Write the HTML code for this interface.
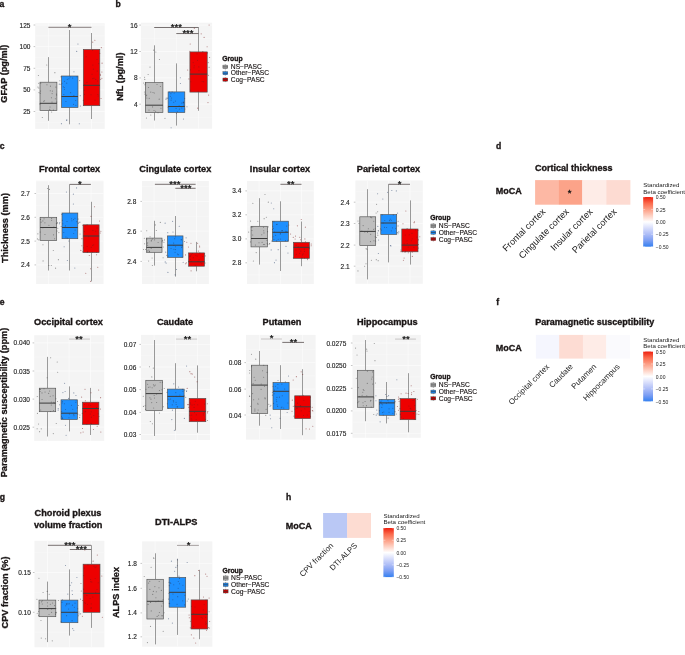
<!DOCTYPE html>
<html><head><meta charset="utf-8"><style>
html,body{margin:0;padding:0;background:#fff;width:685px;height:655px;overflow:hidden}
svg{display:block;font-family:"Liberation Sans",sans-serif}
svg{will-change:transform}
</style></head><body>
<svg width="685" height="655" viewBox="0 0 685 655">
<rect x="0" y="0" width="685" height="655" fill="#fff"/>
<text x="-0.4" y="6.6" font-size="8.6" font-weight="bold" text-anchor="start" fill="#1a1515" stroke="#1a1515" stroke-width="0.34">a</text>
<text x="115.6" y="6.6" font-size="8.6" font-weight="bold" text-anchor="start" fill="#1a1515" stroke="#1a1515" stroke-width="0.34">b</text>
<text x="-0.3" y="148.6" font-size="8.6" font-weight="bold" text-anchor="start" fill="#1a1515" stroke="#1a1515" stroke-width="0.34">c</text>
<text x="496" y="148.8" font-size="8.6" font-weight="bold" text-anchor="start" fill="#1a1515" stroke="#1a1515" stroke-width="0.34">d</text>
<text x="-0.3" y="304.8" font-size="8.6" font-weight="bold" text-anchor="start" fill="#1a1515" stroke="#1a1515" stroke-width="0.34">e</text>
<text x="496.2" y="304.9" font-size="8.6" font-weight="bold" text-anchor="start" fill="#1a1515" stroke="#1a1515" stroke-width="0.34">f</text>
<text x="-0.3" y="500" font-size="8.6" font-weight="bold" text-anchor="start" fill="#1a1515" stroke="#1a1515" stroke-width="0.34">g</text>
<text x="285.9" y="500.3" font-size="8.6" font-weight="bold" text-anchor="start" fill="#1a1515" stroke="#1a1515" stroke-width="0.34">h</text>
<rect x="35.2" y="23.3" width="69.5" height="105.6" fill="#f4f4f4"/>
<line x1="35.2" y1="35.8" x2="104.7" y2="35.8" stroke="#fcfcfc" stroke-width="0.35"/>
<line x1="35.2" y1="57.4" x2="104.7" y2="57.4" stroke="#fcfcfc" stroke-width="0.35"/>
<line x1="35.2" y1="79.1" x2="104.7" y2="79.1" stroke="#fcfcfc" stroke-width="0.35"/>
<line x1="35.2" y1="100.7" x2="104.7" y2="100.7" stroke="#fcfcfc" stroke-width="0.35"/>
<line x1="35.2" y1="122.3" x2="104.7" y2="122.3" stroke="#fcfcfc" stroke-width="0.35"/>
<line x1="35.2" y1="25" x2="104.7" y2="25" stroke="#fcfcfc" stroke-width="0.7"/>
<line x1="33.6" y1="25" x2="35.2" y2="25" stroke="#8a8a8a" stroke-width="0.5"/>
<text x="30.4" y="27.55" font-size="6.5" text-anchor="end" fill="#1e1e1e" stroke="#1e1e1e" stroke-width="0.14">125</text>
<line x1="35.2" y1="46.6" x2="104.7" y2="46.6" stroke="#fcfcfc" stroke-width="0.7"/>
<line x1="33.6" y1="46.6" x2="35.2" y2="46.6" stroke="#8a8a8a" stroke-width="0.5"/>
<text x="30.4" y="49.15" font-size="6.5" text-anchor="end" fill="#1e1e1e" stroke="#1e1e1e" stroke-width="0.14">100</text>
<line x1="35.2" y1="68.3" x2="104.7" y2="68.3" stroke="#fcfcfc" stroke-width="0.7"/>
<line x1="33.6" y1="68.3" x2="35.2" y2="68.3" stroke="#8a8a8a" stroke-width="0.5"/>
<text x="30.4" y="70.85" font-size="6.5" text-anchor="end" fill="#1e1e1e" stroke="#1e1e1e" stroke-width="0.14">75</text>
<line x1="35.2" y1="89.9" x2="104.7" y2="89.9" stroke="#fcfcfc" stroke-width="0.7"/>
<line x1="33.6" y1="89.9" x2="35.2" y2="89.9" stroke="#8a8a8a" stroke-width="0.5"/>
<text x="30.4" y="92.45" font-size="6.5" text-anchor="end" fill="#1e1e1e" stroke="#1e1e1e" stroke-width="0.14">50</text>
<line x1="35.2" y1="111.5" x2="104.7" y2="111.5" stroke="#fcfcfc" stroke-width="0.7"/>
<line x1="33.6" y1="111.5" x2="35.2" y2="111.5" stroke="#8a8a8a" stroke-width="0.5"/>
<text x="30.4" y="114.05" font-size="6.5" text-anchor="end" fill="#1e1e1e" stroke="#1e1e1e" stroke-width="0.14">25</text>
<line x1="48.4" y1="23.3" x2="48.4" y2="128.9" stroke="#fcfcfc" stroke-width="0.7"/>
<line x1="69.7" y1="23.3" x2="69.7" y2="128.9" stroke="#fcfcfc" stroke-width="0.7"/>
<line x1="91.5" y1="23.3" x2="91.5" y2="128.9" stroke="#fcfcfc" stroke-width="0.7"/>
<line x1="48.5" y1="57.1" x2="48.5" y2="82.2" stroke="#7a7a7a" stroke-width="0.75"/>
<line x1="48.5" y1="110.6" x2="48.5" y2="120.8" stroke="#7a7a7a" stroke-width="0.75"/>
<rect x="40" y="82.2" width="16.9" height="28.4" fill="#bebebe" stroke="#505050" stroke-width="0.65"/>
<line x1="40" y1="103.3" x2="56.9" y2="103.3" stroke="#3c3c3c" stroke-width="1.0"/>
<line x1="69.5" y1="30" x2="69.5" y2="76" stroke="#7a7a7a" stroke-width="0.75"/>
<line x1="69.5" y1="107.5" x2="69.5" y2="124.3" stroke="#7a7a7a" stroke-width="0.75"/>
<rect x="61.5" y="76" width="16.5" height="31.5" fill="#1e90ff" stroke="#505050" stroke-width="0.65"/>
<line x1="61.5" y1="96.5" x2="78" y2="96.5" stroke="#3c3c3c" stroke-width="1.0"/>
<line x1="91.5" y1="33" x2="91.5" y2="49.4" stroke="#7a7a7a" stroke-width="0.75"/>
<line x1="91.5" y1="105.7" x2="91.5" y2="119" stroke="#7a7a7a" stroke-width="0.75"/>
<rect x="83.3" y="49.4" width="16.5" height="56.3" fill="#ee0000" stroke="#505050" stroke-width="0.65"/>
<line x1="83.3" y1="85.3" x2="99.8" y2="85.3" stroke="#3c3c3c" stroke-width="1.0"/>
<circle cx="44.52" cy="100.69" r="0.55" fill="#444444" fill-opacity="0.55"/>
<circle cx="38.99" cy="92.59" r="0.55" fill="#444444" fill-opacity="0.55"/>
<circle cx="38.68" cy="83.26" r="0.55" fill="#444444" fill-opacity="0.55"/>
<circle cx="46.94" cy="84.78" r="0.55" fill="#444444" fill-opacity="0.55"/>
<circle cx="46.74" cy="64.99" r="0.55" fill="#444444" fill-opacity="0.55"/>
<circle cx="42.31" cy="117.47" r="0.55" fill="#444444" fill-opacity="0.55"/>
<circle cx="50.1" cy="109.93" r="0.55" fill="#444444" fill-opacity="0.55"/>
<circle cx="38.42" cy="75.55" r="0.55" fill="#444444" fill-opacity="0.55"/>
<circle cx="40.57" cy="90.96" r="0.55" fill="#444444" fill-opacity="0.55"/>
<circle cx="55.35" cy="98.72" r="0.55" fill="#444444" fill-opacity="0.55"/>
<circle cx="51.46" cy="97.76" r="0.55" fill="#444444" fill-opacity="0.55"/>
<circle cx="38.78" cy="88.05" r="0.55" fill="#444444" fill-opacity="0.55"/>
<circle cx="52.37" cy="91.12" r="0.55" fill="#444444" fill-opacity="0.55"/>
<circle cx="50.28" cy="90.71" r="0.55" fill="#444444" fill-opacity="0.55"/>
<circle cx="54.88" cy="72.65" r="0.55" fill="#444444" fill-opacity="0.55"/>
<circle cx="50.04" cy="107.05" r="0.55" fill="#444444" fill-opacity="0.55"/>
<circle cx="53.45" cy="110.04" r="0.55" fill="#444444" fill-opacity="0.55"/>
<circle cx="40" cy="103.7" r="0.55" fill="#444444" fill-opacity="0.55"/>
<circle cx="40.74" cy="83.31" r="0.55" fill="#444444" fill-opacity="0.55"/>
<circle cx="52.1" cy="93.6" r="0.55" fill="#444444" fill-opacity="0.55"/>
<circle cx="56.66" cy="101.95" r="0.55" fill="#444444" fill-opacity="0.55"/>
<circle cx="50.48" cy="86.16" r="0.55" fill="#444444" fill-opacity="0.55"/>
<circle cx="55.88" cy="87.09" r="0.55" fill="#444444" fill-opacity="0.55"/>
<circle cx="52.01" cy="102.12" r="0.55" fill="#444444" fill-opacity="0.55"/>
<circle cx="51.64" cy="112.03" r="0.55" fill="#444444" fill-opacity="0.55"/>
<circle cx="43.66" cy="101.19" r="0.55" fill="#444444" fill-opacity="0.55"/>
<circle cx="37.9" cy="86.97" r="0.55" fill="#444444" fill-opacity="0.55"/>
<circle cx="39.98" cy="104.02" r="0.55" fill="#444444" fill-opacity="0.55"/>
<circle cx="40.25" cy="93.3" r="0.55" fill="#444444" fill-opacity="0.55"/>
<circle cx="56.57" cy="94.96" r="0.55" fill="#444444" fill-opacity="0.55"/>
<circle cx="49.49" cy="109.29" r="0.55" fill="#444444" fill-opacity="0.55"/>
<circle cx="56.41" cy="93.99" r="0.55" fill="#444444" fill-opacity="0.55"/>
<circle cx="66.59" cy="120.31" r="0.55" fill="#263f6a" fill-opacity="0.55"/>
<circle cx="62.02" cy="83.31" r="0.55" fill="#263f6a" fill-opacity="0.55"/>
<circle cx="63.83" cy="94.56" r="0.55" fill="#263f6a" fill-opacity="0.55"/>
<circle cx="64.48" cy="89.2" r="0.55" fill="#263f6a" fill-opacity="0.55"/>
<circle cx="66.82" cy="119.88" r="0.55" fill="#263f6a" fill-opacity="0.55"/>
<circle cx="73.89" cy="95.45" r="0.55" fill="#263f6a" fill-opacity="0.55"/>
<circle cx="73.58" cy="104.34" r="0.55" fill="#263f6a" fill-opacity="0.55"/>
<circle cx="75.86" cy="105.24" r="0.55" fill="#263f6a" fill-opacity="0.55"/>
<circle cx="67.33" cy="79.26" r="0.55" fill="#263f6a" fill-opacity="0.55"/>
<circle cx="72.65" cy="78.12" r="0.55" fill="#263f6a" fill-opacity="0.55"/>
<circle cx="63.29" cy="86.71" r="0.55" fill="#263f6a" fill-opacity="0.55"/>
<circle cx="59.86" cy="80.76" r="0.55" fill="#263f6a" fill-opacity="0.55"/>
<circle cx="60.93" cy="76.8" r="0.55" fill="#263f6a" fill-opacity="0.55"/>
<circle cx="77.94" cy="44.01" r="0.55" fill="#263f6a" fill-opacity="0.55"/>
<circle cx="64.25" cy="87.47" r="0.55" fill="#263f6a" fill-opacity="0.55"/>
<circle cx="61.4" cy="123.65" r="0.55" fill="#263f6a" fill-opacity="0.55"/>
<circle cx="68.95" cy="78.71" r="0.55" fill="#263f6a" fill-opacity="0.55"/>
<circle cx="60.95" cy="84.34" r="0.55" fill="#263f6a" fill-opacity="0.55"/>
<circle cx="76.93" cy="76.73" r="0.55" fill="#263f6a" fill-opacity="0.55"/>
<circle cx="79.62" cy="80.62" r="0.55" fill="#263f6a" fill-opacity="0.55"/>
<circle cx="70.65" cy="92.64" r="0.55" fill="#263f6a" fill-opacity="0.55"/>
<circle cx="80.23" cy="95.65" r="0.55" fill="#263f6a" fill-opacity="0.55"/>
<circle cx="64.44" cy="81.26" r="0.55" fill="#263f6a" fill-opacity="0.55"/>
<circle cx="75.68" cy="100.54" r="0.55" fill="#263f6a" fill-opacity="0.55"/>
<circle cx="65.95" cy="101.56" r="0.55" fill="#263f6a" fill-opacity="0.55"/>
<circle cx="80.37" cy="106.01" r="0.55" fill="#263f6a" fill-opacity="0.55"/>
<circle cx="76.7" cy="51.38" r="0.55" fill="#263f6a" fill-opacity="0.55"/>
<circle cx="70.09" cy="76.91" r="0.55" fill="#263f6a" fill-opacity="0.55"/>
<circle cx="59.31" cy="84.16" r="0.55" fill="#263f6a" fill-opacity="0.55"/>
<circle cx="73.94" cy="71.75" r="0.55" fill="#263f6a" fill-opacity="0.55"/>
<circle cx="79.31" cy="123.7" r="0.55" fill="#263f6a" fill-opacity="0.55"/>
<circle cx="66.72" cy="83.15" r="0.55" fill="#263f6a" fill-opacity="0.55"/>
<circle cx="84.83" cy="84.53" r="0.55" fill="#7a1a1a" fill-opacity="0.55"/>
<circle cx="100.31" cy="74.23" r="0.55" fill="#7a1a1a" fill-opacity="0.55"/>
<circle cx="94.87" cy="40.29" r="0.55" fill="#7a1a1a" fill-opacity="0.55"/>
<circle cx="95.03" cy="100.28" r="0.55" fill="#7a1a1a" fill-opacity="0.55"/>
<circle cx="97" cy="59.45" r="0.55" fill="#7a1a1a" fill-opacity="0.55"/>
<circle cx="97.86" cy="94.49" r="0.55" fill="#7a1a1a" fill-opacity="0.55"/>
<circle cx="101.88" cy="72" r="0.55" fill="#7a1a1a" fill-opacity="0.55"/>
<circle cx="101.33" cy="47.62" r="0.55" fill="#7a1a1a" fill-opacity="0.55"/>
<circle cx="83.29" cy="100.34" r="0.55" fill="#7a1a1a" fill-opacity="0.55"/>
<circle cx="98.24" cy="95.93" r="0.55" fill="#7a1a1a" fill-opacity="0.55"/>
<circle cx="102.07" cy="63.14" r="0.55" fill="#7a1a1a" fill-opacity="0.55"/>
<circle cx="92.57" cy="50.2" r="0.55" fill="#7a1a1a" fill-opacity="0.55"/>
<circle cx="101.86" cy="78.29" r="0.55" fill="#7a1a1a" fill-opacity="0.55"/>
<circle cx="101.04" cy="98.48" r="0.55" fill="#7a1a1a" fill-opacity="0.55"/>
<circle cx="98.68" cy="63.58" r="0.55" fill="#7a1a1a" fill-opacity="0.55"/>
<circle cx="86.95" cy="82.42" r="0.55" fill="#7a1a1a" fill-opacity="0.55"/>
<circle cx="86.21" cy="56.78" r="0.55" fill="#7a1a1a" fill-opacity="0.55"/>
<circle cx="100.52" cy="75.19" r="0.55" fill="#7a1a1a" fill-opacity="0.55"/>
<circle cx="93.33" cy="69.17" r="0.55" fill="#7a1a1a" fill-opacity="0.55"/>
<circle cx="100.69" cy="79.34" r="0.55" fill="#7a1a1a" fill-opacity="0.55"/>
<circle cx="92.02" cy="74.18" r="0.55" fill="#7a1a1a" fill-opacity="0.55"/>
<circle cx="84.53" cy="94.39" r="0.55" fill="#7a1a1a" fill-opacity="0.55"/>
<circle cx="84.29" cy="90.23" r="0.55" fill="#7a1a1a" fill-opacity="0.55"/>
<circle cx="92.74" cy="78.58" r="0.55" fill="#7a1a1a" fill-opacity="0.55"/>
<circle cx="92.72" cy="42.13" r="0.55" fill="#7a1a1a" fill-opacity="0.55"/>
<circle cx="92.83" cy="64.99" r="0.55" fill="#7a1a1a" fill-opacity="0.55"/>
<circle cx="97.49" cy="81.03" r="0.55" fill="#7a1a1a" fill-opacity="0.55"/>
<circle cx="97.22" cy="71.12" r="0.55" fill="#7a1a1a" fill-opacity="0.55"/>
<circle cx="93.98" cy="78.23" r="0.55" fill="#7a1a1a" fill-opacity="0.55"/>
<circle cx="95.74" cy="79.42" r="0.55" fill="#7a1a1a" fill-opacity="0.55"/>
<circle cx="91.02" cy="94.73" r="0.55" fill="#7a1a1a" fill-opacity="0.55"/>
<circle cx="99.78" cy="53.4" r="0.55" fill="#7a1a1a" fill-opacity="0.55"/>
<line x1="48.4" y1="27.3" x2="91.5" y2="27.3" stroke="#7a7272" stroke-width="0.9"/>
<text x="69.7" y="29.7" font-size="9.6" text-anchor="middle" fill="#111" stroke="#111" stroke-width="0.25">*</text>
<text x="0" y="0" font-size="9.2" font-weight="bold" text-anchor="middle" fill="#1a1515" stroke="#1a1515" stroke-width="0.3" transform="translate(7.4 73.7) rotate(-90)">GFAP (pg/ml)</text>
<rect x="140.9" y="22.7" width="71.2" height="106" fill="#f4f4f4"/>
<line x1="140.9" y1="38.3" x2="212.1" y2="38.3" stroke="#fcfcfc" stroke-width="0.35"/>
<line x1="140.9" y1="64.7" x2="212.1" y2="64.7" stroke="#fcfcfc" stroke-width="0.35"/>
<line x1="140.9" y1="91.1" x2="212.1" y2="91.1" stroke="#fcfcfc" stroke-width="0.35"/>
<line x1="140.9" y1="117.4" x2="212.1" y2="117.4" stroke="#fcfcfc" stroke-width="0.35"/>
<line x1="140.9" y1="25.1" x2="212.1" y2="25.1" stroke="#fcfcfc" stroke-width="0.7"/>
<line x1="139.3" y1="25.1" x2="140.9" y2="25.1" stroke="#8a8a8a" stroke-width="0.5"/>
<text x="137.6" y="27.65" font-size="6.5" text-anchor="end" fill="#1e1e1e" stroke="#1e1e1e" stroke-width="0.14">16</text>
<line x1="140.9" y1="51.5" x2="212.1" y2="51.5" stroke="#fcfcfc" stroke-width="0.7"/>
<line x1="139.3" y1="51.5" x2="140.9" y2="51.5" stroke="#8a8a8a" stroke-width="0.5"/>
<text x="137.6" y="54.05" font-size="6.5" text-anchor="end" fill="#1e1e1e" stroke="#1e1e1e" stroke-width="0.14">12</text>
<line x1="140.9" y1="77.9" x2="212.1" y2="77.9" stroke="#fcfcfc" stroke-width="0.7"/>
<line x1="139.3" y1="77.9" x2="140.9" y2="77.9" stroke="#8a8a8a" stroke-width="0.5"/>
<text x="137.6" y="80.45" font-size="6.5" text-anchor="end" fill="#1e1e1e" stroke="#1e1e1e" stroke-width="0.14">8</text>
<line x1="140.9" y1="104.2" x2="212.1" y2="104.2" stroke="#fcfcfc" stroke-width="0.7"/>
<line x1="139.3" y1="104.2" x2="140.9" y2="104.2" stroke="#8a8a8a" stroke-width="0.5"/>
<text x="137.6" y="106.75" font-size="6.5" text-anchor="end" fill="#1e1e1e" stroke="#1e1e1e" stroke-width="0.14">4</text>
<line x1="154.3" y1="22.7" x2="154.3" y2="128.7" stroke="#fcfcfc" stroke-width="0.7"/>
<line x1="176.3" y1="22.7" x2="176.3" y2="128.7" stroke="#fcfcfc" stroke-width="0.7"/>
<line x1="198.6" y1="22.7" x2="198.6" y2="128.7" stroke="#fcfcfc" stroke-width="0.7"/>
<line x1="154.5" y1="45.3" x2="154.5" y2="82.6" stroke="#7a7a7a" stroke-width="0.75"/>
<line x1="154.5" y1="112.5" x2="154.5" y2="120.5" stroke="#7a7a7a" stroke-width="0.75"/>
<rect x="145.4" y="82.6" width="17.5" height="29.9" fill="#bebebe" stroke="#505050" stroke-width="0.65"/>
<line x1="145.4" y1="105.2" x2="162.9" y2="105.2" stroke="#3c3c3c" stroke-width="1.0"/>
<line x1="176.5" y1="63.4" x2="176.5" y2="91.9" stroke="#7a7a7a" stroke-width="0.75"/>
<line x1="176.5" y1="112.5" x2="176.5" y2="125.6" stroke="#7a7a7a" stroke-width="0.75"/>
<rect x="168.1" y="91.9" width="16.7" height="20.6" fill="#1e90ff" stroke="#505050" stroke-width="0.65"/>
<line x1="168.1" y1="106.5" x2="184.8" y2="106.5" stroke="#3c3c3c" stroke-width="1.0"/>
<line x1="198.5" y1="27.4" x2="198.5" y2="51.9" stroke="#7a7a7a" stroke-width="0.75"/>
<line x1="198.5" y1="92.1" x2="198.5" y2="110.8" stroke="#7a7a7a" stroke-width="0.75"/>
<rect x="189.9" y="51.9" width="17.3" height="40.2" fill="#ee0000" stroke="#505050" stroke-width="0.65"/>
<line x1="189.9" y1="74.1" x2="207.2" y2="74.1" stroke="#3c3c3c" stroke-width="1.0"/>
<circle cx="155.61" cy="111.19" r="0.55" fill="#444444" fill-opacity="0.55"/>
<circle cx="146.32" cy="95.82" r="0.55" fill="#444444" fill-opacity="0.55"/>
<circle cx="144.9" cy="84.79" r="0.55" fill="#444444" fill-opacity="0.55"/>
<circle cx="158.03" cy="112.76" r="0.55" fill="#444444" fill-opacity="0.55"/>
<circle cx="146.7" cy="94.95" r="0.55" fill="#444444" fill-opacity="0.55"/>
<circle cx="146.45" cy="118.06" r="0.55" fill="#444444" fill-opacity="0.55"/>
<circle cx="148.13" cy="74.43" r="0.55" fill="#444444" fill-opacity="0.55"/>
<circle cx="154.02" cy="110.56" r="0.55" fill="#444444" fill-opacity="0.55"/>
<circle cx="146.85" cy="98.02" r="0.55" fill="#444444" fill-opacity="0.55"/>
<circle cx="150.76" cy="92.12" r="0.55" fill="#444444" fill-opacity="0.55"/>
<circle cx="159.19" cy="99.17" r="0.55" fill="#444444" fill-opacity="0.55"/>
<circle cx="152.99" cy="92.51" r="0.55" fill="#444444" fill-opacity="0.55"/>
<circle cx="157.03" cy="84.52" r="0.55" fill="#444444" fill-opacity="0.55"/>
<circle cx="164.97" cy="118.37" r="0.55" fill="#444444" fill-opacity="0.55"/>
<circle cx="145.61" cy="83.78" r="0.55" fill="#444444" fill-opacity="0.55"/>
<circle cx="160.44" cy="86.47" r="0.55" fill="#444444" fill-opacity="0.55"/>
<circle cx="152.59" cy="106.89" r="0.55" fill="#444444" fill-opacity="0.55"/>
<circle cx="148.99" cy="110.08" r="0.55" fill="#444444" fill-opacity="0.55"/>
<circle cx="155.85" cy="52.03" r="0.55" fill="#444444" fill-opacity="0.55"/>
<circle cx="144.57" cy="77.28" r="0.55" fill="#444444" fill-opacity="0.55"/>
<circle cx="144.89" cy="94.09" r="0.55" fill="#444444" fill-opacity="0.55"/>
<circle cx="160.94" cy="108.2" r="0.55" fill="#444444" fill-opacity="0.55"/>
<circle cx="144.77" cy="79.42" r="0.55" fill="#444444" fill-opacity="0.55"/>
<circle cx="150.76" cy="114.99" r="0.55" fill="#444444" fill-opacity="0.55"/>
<circle cx="149.19" cy="98.35" r="0.55" fill="#444444" fill-opacity="0.55"/>
<circle cx="148.55" cy="87.43" r="0.55" fill="#444444" fill-opacity="0.55"/>
<circle cx="144.41" cy="91.93" r="0.55" fill="#444444" fill-opacity="0.55"/>
<circle cx="150.01" cy="67.11" r="0.55" fill="#444444" fill-opacity="0.55"/>
<circle cx="154.3" cy="92.98" r="0.55" fill="#444444" fill-opacity="0.55"/>
<circle cx="143.7" cy="83.06" r="0.55" fill="#444444" fill-opacity="0.55"/>
<circle cx="159.43" cy="59.55" r="0.55" fill="#444444" fill-opacity="0.55"/>
<circle cx="153.74" cy="50.14" r="0.55" fill="#444444" fill-opacity="0.55"/>
<circle cx="183.32" cy="102.1" r="0.55" fill="#263f6a" fill-opacity="0.55"/>
<circle cx="183.66" cy="102.34" r="0.55" fill="#263f6a" fill-opacity="0.55"/>
<circle cx="180.43" cy="83.46" r="0.55" fill="#263f6a" fill-opacity="0.55"/>
<circle cx="183.61" cy="102.96" r="0.55" fill="#263f6a" fill-opacity="0.55"/>
<circle cx="174.2" cy="93.02" r="0.55" fill="#263f6a" fill-opacity="0.55"/>
<circle cx="168.16" cy="107.16" r="0.55" fill="#263f6a" fill-opacity="0.55"/>
<circle cx="170.92" cy="93.64" r="0.55" fill="#263f6a" fill-opacity="0.55"/>
<circle cx="183.81" cy="105.11" r="0.55" fill="#263f6a" fill-opacity="0.55"/>
<circle cx="171.5" cy="97.94" r="0.55" fill="#263f6a" fill-opacity="0.55"/>
<circle cx="175.41" cy="101.08" r="0.55" fill="#263f6a" fill-opacity="0.55"/>
<circle cx="171.09" cy="127.68" r="0.55" fill="#263f6a" fill-opacity="0.55"/>
<circle cx="177.34" cy="111.79" r="0.55" fill="#263f6a" fill-opacity="0.55"/>
<circle cx="172.11" cy="91.92" r="0.55" fill="#263f6a" fill-opacity="0.55"/>
<circle cx="173.7" cy="102.26" r="0.55" fill="#263f6a" fill-opacity="0.55"/>
<circle cx="169.72" cy="92" r="0.55" fill="#263f6a" fill-opacity="0.55"/>
<circle cx="171.11" cy="100.13" r="0.55" fill="#263f6a" fill-opacity="0.55"/>
<circle cx="166.22" cy="98.17" r="0.55" fill="#263f6a" fill-opacity="0.55"/>
<circle cx="170.42" cy="96.32" r="0.55" fill="#263f6a" fill-opacity="0.55"/>
<circle cx="181.81" cy="107.93" r="0.55" fill="#263f6a" fill-opacity="0.55"/>
<circle cx="184.64" cy="98.62" r="0.55" fill="#263f6a" fill-opacity="0.55"/>
<circle cx="186.96" cy="106.82" r="0.55" fill="#263f6a" fill-opacity="0.55"/>
<circle cx="179.45" cy="109.11" r="0.55" fill="#263f6a" fill-opacity="0.55"/>
<circle cx="184.92" cy="109.05" r="0.55" fill="#263f6a" fill-opacity="0.55"/>
<circle cx="183.17" cy="102.69" r="0.55" fill="#263f6a" fill-opacity="0.55"/>
<circle cx="176.4" cy="113.45" r="0.55" fill="#263f6a" fill-opacity="0.55"/>
<circle cx="183.48" cy="118.93" r="0.55" fill="#263f6a" fill-opacity="0.55"/>
<circle cx="180.32" cy="77.7" r="0.55" fill="#263f6a" fill-opacity="0.55"/>
<circle cx="165.99" cy="99.33" r="0.55" fill="#263f6a" fill-opacity="0.55"/>
<circle cx="167.61" cy="98.14" r="0.55" fill="#263f6a" fill-opacity="0.55"/>
<circle cx="179.11" cy="105.74" r="0.55" fill="#263f6a" fill-opacity="0.55"/>
<circle cx="176.06" cy="108.33" r="0.55" fill="#263f6a" fill-opacity="0.55"/>
<circle cx="181.76" cy="102.93" r="0.55" fill="#263f6a" fill-opacity="0.55"/>
<circle cx="202.1" cy="81.52" r="0.55" fill="#7a1a1a" fill-opacity="0.55"/>
<circle cx="193.15" cy="62.58" r="0.55" fill="#7a1a1a" fill-opacity="0.55"/>
<circle cx="203.65" cy="81.64" r="0.55" fill="#7a1a1a" fill-opacity="0.55"/>
<circle cx="209.07" cy="67.28" r="0.55" fill="#7a1a1a" fill-opacity="0.55"/>
<circle cx="198.14" cy="91.37" r="0.55" fill="#7a1a1a" fill-opacity="0.55"/>
<circle cx="201.17" cy="33.86" r="0.55" fill="#7a1a1a" fill-opacity="0.55"/>
<circle cx="190.84" cy="81.78" r="0.55" fill="#7a1a1a" fill-opacity="0.55"/>
<circle cx="194.3" cy="28.44" r="0.55" fill="#7a1a1a" fill-opacity="0.55"/>
<circle cx="188.93" cy="78.91" r="0.55" fill="#7a1a1a" fill-opacity="0.55"/>
<circle cx="202.83" cy="51.66" r="0.55" fill="#7a1a1a" fill-opacity="0.55"/>
<circle cx="198.96" cy="70.65" r="0.55" fill="#7a1a1a" fill-opacity="0.55"/>
<circle cx="190.21" cy="44.02" r="0.55" fill="#7a1a1a" fill-opacity="0.55"/>
<circle cx="209.12" cy="25" r="0.55" fill="#7a1a1a" fill-opacity="0.55"/>
<circle cx="197.7" cy="108.14" r="0.55" fill="#7a1a1a" fill-opacity="0.55"/>
<circle cx="197.49" cy="60.34" r="0.55" fill="#7a1a1a" fill-opacity="0.55"/>
<circle cx="208.4" cy="75.28" r="0.55" fill="#7a1a1a" fill-opacity="0.55"/>
<circle cx="190.72" cy="90.2" r="0.55" fill="#7a1a1a" fill-opacity="0.55"/>
<circle cx="190.52" cy="69.83" r="0.55" fill="#7a1a1a" fill-opacity="0.55"/>
<circle cx="207.11" cy="46.7" r="0.55" fill="#7a1a1a" fill-opacity="0.55"/>
<circle cx="207.35" cy="52.9" r="0.55" fill="#7a1a1a" fill-opacity="0.55"/>
<circle cx="187.68" cy="70.02" r="0.55" fill="#7a1a1a" fill-opacity="0.55"/>
<circle cx="194.24" cy="65.73" r="0.55" fill="#7a1a1a" fill-opacity="0.55"/>
<circle cx="194.55" cy="27.55" r="0.55" fill="#7a1a1a" fill-opacity="0.55"/>
<circle cx="204.12" cy="37.41" r="0.55" fill="#7a1a1a" fill-opacity="0.55"/>
<circle cx="207.98" cy="102.59" r="0.55" fill="#7a1a1a" fill-opacity="0.55"/>
<circle cx="193.98" cy="67.69" r="0.55" fill="#7a1a1a" fill-opacity="0.55"/>
<circle cx="209.57" cy="57.48" r="0.55" fill="#7a1a1a" fill-opacity="0.55"/>
<circle cx="197.02" cy="53.84" r="0.55" fill="#7a1a1a" fill-opacity="0.55"/>
<circle cx="189.84" cy="51.22" r="0.55" fill="#7a1a1a" fill-opacity="0.55"/>
<circle cx="208.18" cy="62.58" r="0.55" fill="#7a1a1a" fill-opacity="0.55"/>
<circle cx="198.84" cy="66.91" r="0.55" fill="#7a1a1a" fill-opacity="0.55"/>
<circle cx="208.64" cy="95.12" r="0.55" fill="#7a1a1a" fill-opacity="0.55"/>
<line x1="154.2" y1="27.5" x2="198.6" y2="27.5" stroke="#6a6262" stroke-width="0.9"/>
<text x="176.3" y="29.9" font-size="9.6" text-anchor="middle" fill="#111" stroke="#111" stroke-width="0.25">***</text>
<line x1="176.3" y1="33.55" x2="198.6" y2="33.55" stroke="#6a6262" stroke-width="0.9"/>
<text x="188" y="35.95" font-size="9.6" text-anchor="middle" fill="#111" stroke="#111" stroke-width="0.25">***</text>
<text x="0" y="0" font-size="9.2" font-weight="bold" text-anchor="middle" fill="#1a1515" stroke="#1a1515" stroke-width="0.3" transform="translate(123.3 76.7) rotate(-90)">NfL (pg/ml)</text>
<text x="222.2" y="60.8" font-size="6.8" font-weight="bold" text-anchor="start" fill="#1a1515" stroke="#1a1515" stroke-width="0.34">Group</text>
<line x1="225.3" y1="64.2" x2="225.3" y2="69.6" stroke="#555" stroke-width="0.5"/>
<rect x="222.9" y="65.1" width="4.9" height="3.6" fill="#a8a8a8" stroke="#4a4a4a" stroke-width="0.4"/>
<line x1="222.9" y1="66.9" x2="227.8" y2="66.9" stroke="#333" stroke-width="0.6"/>
<text x="230.8" y="68.9" font-size="6.7" text-anchor="start" fill="#1a1515" stroke="#1a1515" stroke-width="0.14">NS−PASC</text>
<line x1="225.3" y1="70.7" x2="225.3" y2="75.7" stroke="#555" stroke-width="0.5"/>
<rect x="222.9" y="71.6" width="4.9" height="3.2" fill="#1e88f0" stroke="#4a4a4a" stroke-width="0.4"/>
<line x1="222.9" y1="73.2" x2="227.8" y2="73.2" stroke="#333" stroke-width="0.6"/>
<text x="230.8" y="75.3" font-size="6.7" text-anchor="start" fill="#1a1515" stroke="#1a1515" stroke-width="0.14">Other−PASC</text>
<line x1="225.3" y1="77.1" x2="225.3" y2="82.1" stroke="#555" stroke-width="0.5"/>
<rect x="222.9" y="78" width="4.9" height="3.2" fill="#cc0000" stroke="#4a4a4a" stroke-width="0.4"/>
<line x1="222.9" y1="79.6" x2="227.8" y2="79.6" stroke="#333" stroke-width="0.6"/>
<text x="230.8" y="81.8" font-size="6.7" text-anchor="start" fill="#1a1515" stroke="#1a1515" stroke-width="0.14">Cog−PASC</text>
<rect x="36.1" y="180.7" width="67.4" height="103.3" fill="#f4f4f4"/>
<line x1="36.1" y1="181.6" x2="103.5" y2="181.6" stroke="#fcfcfc" stroke-width="0.35"/>
<line x1="36.1" y1="205.4" x2="103.5" y2="205.4" stroke="#fcfcfc" stroke-width="0.35"/>
<line x1="36.1" y1="229.2" x2="103.5" y2="229.2" stroke="#fcfcfc" stroke-width="0.35"/>
<line x1="36.1" y1="253" x2="103.5" y2="253" stroke="#fcfcfc" stroke-width="0.35"/>
<line x1="36.1" y1="276.8" x2="103.5" y2="276.8" stroke="#fcfcfc" stroke-width="0.35"/>
<line x1="36.1" y1="193.5" x2="103.5" y2="193.5" stroke="#fcfcfc" stroke-width="0.7"/>
<line x1="34.5" y1="193.5" x2="36.1" y2="193.5" stroke="#8a8a8a" stroke-width="0.5"/>
<text x="30" y="196.05" font-size="6.5" text-anchor="end" fill="#1e1e1e" stroke="#1e1e1e" stroke-width="0.14">2.7</text>
<line x1="36.1" y1="217.3" x2="103.5" y2="217.3" stroke="#fcfcfc" stroke-width="0.7"/>
<line x1="34.5" y1="217.3" x2="36.1" y2="217.3" stroke="#8a8a8a" stroke-width="0.5"/>
<text x="30" y="219.85" font-size="6.5" text-anchor="end" fill="#1e1e1e" stroke="#1e1e1e" stroke-width="0.14">2.6</text>
<line x1="36.1" y1="241.1" x2="103.5" y2="241.1" stroke="#fcfcfc" stroke-width="0.7"/>
<line x1="34.5" y1="241.1" x2="36.1" y2="241.1" stroke="#8a8a8a" stroke-width="0.5"/>
<text x="30" y="243.65" font-size="6.5" text-anchor="end" fill="#1e1e1e" stroke="#1e1e1e" stroke-width="0.14">2.5</text>
<line x1="36.1" y1="264.9" x2="103.5" y2="264.9" stroke="#fcfcfc" stroke-width="0.7"/>
<line x1="34.5" y1="264.9" x2="36.1" y2="264.9" stroke="#8a8a8a" stroke-width="0.5"/>
<text x="30" y="267.45" font-size="6.5" text-anchor="end" fill="#1e1e1e" stroke="#1e1e1e" stroke-width="0.14">2.4</text>
<line x1="48.4" y1="180.7" x2="48.4" y2="284" stroke="#fcfcfc" stroke-width="0.7"/>
<line x1="69.7" y1="180.7" x2="69.7" y2="284" stroke="#fcfcfc" stroke-width="0.7"/>
<line x1="91.1" y1="180.7" x2="91.1" y2="284" stroke="#fcfcfc" stroke-width="0.7"/>
<line x1="48.5" y1="185.2" x2="48.5" y2="217.3" stroke="#7a7a7a" stroke-width="0.75"/>
<line x1="48.5" y1="240.6" x2="48.5" y2="270.5" stroke="#7a7a7a" stroke-width="0.75"/>
<rect x="40.1" y="217.3" width="16.6" height="23.3" fill="#bebebe" stroke="#505050" stroke-width="0.65"/>
<line x1="40.1" y1="227.5" x2="56.7" y2="227.5" stroke="#3c3c3c" stroke-width="1.0"/>
<line x1="69.5" y1="184.4" x2="69.5" y2="213" stroke="#7a7a7a" stroke-width="0.75"/>
<line x1="69.5" y1="238.7" x2="69.5" y2="270.5" stroke="#7a7a7a" stroke-width="0.75"/>
<rect x="62" y="213" width="15.8" height="25.7" fill="#1e90ff" stroke="#505050" stroke-width="0.65"/>
<line x1="62" y1="227.5" x2="77.8" y2="227.5" stroke="#3c3c3c" stroke-width="1.0"/>
<line x1="91.5" y1="201.8" x2="91.5" y2="224.8" stroke="#7a7a7a" stroke-width="0.75"/>
<line x1="91.5" y1="252.6" x2="91.5" y2="281.4" stroke="#7a7a7a" stroke-width="0.75"/>
<rect x="83.1" y="224.8" width="16" height="27.8" fill="#ee0000" stroke="#505050" stroke-width="0.65"/>
<line x1="83.1" y1="236" x2="99.1" y2="236" stroke="#3c3c3c" stroke-width="1.0"/>
<circle cx="51.28" cy="265.44" r="0.55" fill="#444444" fill-opacity="0.55"/>
<circle cx="49.48" cy="189.42" r="0.55" fill="#444444" fill-opacity="0.55"/>
<circle cx="53.51" cy="234.84" r="0.55" fill="#444444" fill-opacity="0.55"/>
<circle cx="51.58" cy="218.44" r="0.55" fill="#444444" fill-opacity="0.55"/>
<circle cx="57.79" cy="228.3" r="0.55" fill="#444444" fill-opacity="0.55"/>
<circle cx="44.96" cy="234.52" r="0.55" fill="#444444" fill-opacity="0.55"/>
<circle cx="58.88" cy="232.58" r="0.55" fill="#444444" fill-opacity="0.55"/>
<circle cx="44.02" cy="218.84" r="0.55" fill="#444444" fill-opacity="0.55"/>
<circle cx="41.08" cy="222.14" r="0.55" fill="#444444" fill-opacity="0.55"/>
<circle cx="57.33" cy="222.43" r="0.55" fill="#444444" fill-opacity="0.55"/>
<circle cx="57.34" cy="223.18" r="0.55" fill="#444444" fill-opacity="0.55"/>
<circle cx="40.47" cy="219.41" r="0.55" fill="#444444" fill-opacity="0.55"/>
<circle cx="44.92" cy="222.87" r="0.55" fill="#444444" fill-opacity="0.55"/>
<circle cx="43.08" cy="260.88" r="0.55" fill="#444444" fill-opacity="0.55"/>
<circle cx="53.89" cy="226.94" r="0.55" fill="#444444" fill-opacity="0.55"/>
<circle cx="48.93" cy="225.18" r="0.55" fill="#444444" fill-opacity="0.55"/>
<circle cx="38.77" cy="239.85" r="0.55" fill="#444444" fill-opacity="0.55"/>
<circle cx="40.17" cy="231.97" r="0.55" fill="#444444" fill-opacity="0.55"/>
<circle cx="56.38" cy="223.61" r="0.55" fill="#444444" fill-opacity="0.55"/>
<circle cx="42.87" cy="227.69" r="0.55" fill="#444444" fill-opacity="0.55"/>
<circle cx="58.39" cy="259.66" r="0.55" fill="#444444" fill-opacity="0.55"/>
<circle cx="37.88" cy="233.83" r="0.55" fill="#444444" fill-opacity="0.55"/>
<circle cx="57.11" cy="230.98" r="0.55" fill="#444444" fill-opacity="0.55"/>
<circle cx="37.4" cy="238.9" r="0.55" fill="#444444" fill-opacity="0.55"/>
<circle cx="55.56" cy="268.13" r="0.55" fill="#444444" fill-opacity="0.55"/>
<circle cx="42.87" cy="220.9" r="0.55" fill="#444444" fill-opacity="0.55"/>
<circle cx="48.89" cy="265.51" r="0.55" fill="#444444" fill-opacity="0.55"/>
<circle cx="53.28" cy="250.44" r="0.55" fill="#444444" fill-opacity="0.55"/>
<circle cx="47.46" cy="188.57" r="0.55" fill="#444444" fill-opacity="0.55"/>
<circle cx="54.61" cy="238.73" r="0.55" fill="#444444" fill-opacity="0.55"/>
<circle cx="51.6" cy="220.28" r="0.55" fill="#444444" fill-opacity="0.55"/>
<circle cx="42.94" cy="244.79" r="0.55" fill="#444444" fill-opacity="0.55"/>
<circle cx="61.17" cy="226.48" r="0.55" fill="#263f6a" fill-opacity="0.55"/>
<circle cx="71.52" cy="218.75" r="0.55" fill="#263f6a" fill-opacity="0.55"/>
<circle cx="71.92" cy="220.75" r="0.55" fill="#263f6a" fill-opacity="0.55"/>
<circle cx="68.84" cy="241.05" r="0.55" fill="#263f6a" fill-opacity="0.55"/>
<circle cx="78.14" cy="219.03" r="0.55" fill="#263f6a" fill-opacity="0.55"/>
<circle cx="64.14" cy="246.71" r="0.55" fill="#263f6a" fill-opacity="0.55"/>
<circle cx="65.46" cy="225.81" r="0.55" fill="#263f6a" fill-opacity="0.55"/>
<circle cx="73.54" cy="219.61" r="0.55" fill="#263f6a" fill-opacity="0.55"/>
<circle cx="73.38" cy="203.93" r="0.55" fill="#263f6a" fill-opacity="0.55"/>
<circle cx="59.45" cy="223.81" r="0.55" fill="#263f6a" fill-opacity="0.55"/>
<circle cx="73.72" cy="233.48" r="0.55" fill="#263f6a" fill-opacity="0.55"/>
<circle cx="74.96" cy="218.27" r="0.55" fill="#263f6a" fill-opacity="0.55"/>
<circle cx="80.04" cy="234.07" r="0.55" fill="#263f6a" fill-opacity="0.55"/>
<circle cx="63.78" cy="232.54" r="0.55" fill="#263f6a" fill-opacity="0.55"/>
<circle cx="65.19" cy="227.05" r="0.55" fill="#263f6a" fill-opacity="0.55"/>
<circle cx="62.82" cy="223.72" r="0.55" fill="#263f6a" fill-opacity="0.55"/>
<circle cx="73.34" cy="194.17" r="0.55" fill="#263f6a" fill-opacity="0.55"/>
<circle cx="67.36" cy="238.03" r="0.55" fill="#263f6a" fill-opacity="0.55"/>
<circle cx="61.82" cy="214.55" r="0.55" fill="#263f6a" fill-opacity="0.55"/>
<circle cx="67.35" cy="260.48" r="0.55" fill="#263f6a" fill-opacity="0.55"/>
<circle cx="74.82" cy="268.06" r="0.55" fill="#263f6a" fill-opacity="0.55"/>
<circle cx="65.94" cy="237.05" r="0.55" fill="#263f6a" fill-opacity="0.55"/>
<circle cx="75.12" cy="230.08" r="0.55" fill="#263f6a" fill-opacity="0.55"/>
<circle cx="67.03" cy="221.52" r="0.55" fill="#263f6a" fill-opacity="0.55"/>
<circle cx="62.42" cy="220.19" r="0.55" fill="#263f6a" fill-opacity="0.55"/>
<circle cx="66.43" cy="192.04" r="0.55" fill="#263f6a" fill-opacity="0.55"/>
<circle cx="79.91" cy="222.17" r="0.55" fill="#263f6a" fill-opacity="0.55"/>
<circle cx="76.77" cy="221.63" r="0.55" fill="#263f6a" fill-opacity="0.55"/>
<circle cx="59.78" cy="222.58" r="0.55" fill="#263f6a" fill-opacity="0.55"/>
<circle cx="78.93" cy="222.36" r="0.55" fill="#263f6a" fill-opacity="0.55"/>
<circle cx="78.43" cy="223.56" r="0.55" fill="#263f6a" fill-opacity="0.55"/>
<circle cx="76.56" cy="187.9" r="0.55" fill="#263f6a" fill-opacity="0.55"/>
<circle cx="80.87" cy="250.38" r="0.55" fill="#7a1a1a" fill-opacity="0.55"/>
<circle cx="85.75" cy="273.32" r="0.55" fill="#7a1a1a" fill-opacity="0.55"/>
<circle cx="87.56" cy="251.42" r="0.55" fill="#7a1a1a" fill-opacity="0.55"/>
<circle cx="93.67" cy="244.72" r="0.55" fill="#7a1a1a" fill-opacity="0.55"/>
<circle cx="87.06" cy="224.9" r="0.55" fill="#7a1a1a" fill-opacity="0.55"/>
<circle cx="96.72" cy="252.26" r="0.55" fill="#7a1a1a" fill-opacity="0.55"/>
<circle cx="100.85" cy="231.3" r="0.55" fill="#7a1a1a" fill-opacity="0.55"/>
<circle cx="90.55" cy="281.36" r="0.55" fill="#7a1a1a" fill-opacity="0.55"/>
<circle cx="88.6" cy="236.75" r="0.55" fill="#7a1a1a" fill-opacity="0.55"/>
<circle cx="90.96" cy="216.36" r="0.55" fill="#7a1a1a" fill-opacity="0.55"/>
<circle cx="97.76" cy="267.29" r="0.55" fill="#7a1a1a" fill-opacity="0.55"/>
<circle cx="97.1" cy="227.89" r="0.55" fill="#7a1a1a" fill-opacity="0.55"/>
<circle cx="87.13" cy="246.55" r="0.55" fill="#7a1a1a" fill-opacity="0.55"/>
<circle cx="81.84" cy="245.73" r="0.55" fill="#7a1a1a" fill-opacity="0.55"/>
<circle cx="85.54" cy="225.74" r="0.55" fill="#7a1a1a" fill-opacity="0.55"/>
<circle cx="92.26" cy="252.05" r="0.55" fill="#7a1a1a" fill-opacity="0.55"/>
<circle cx="99.54" cy="221" r="0.55" fill="#7a1a1a" fill-opacity="0.55"/>
<circle cx="81.95" cy="238.66" r="0.55" fill="#7a1a1a" fill-opacity="0.55"/>
<circle cx="95.71" cy="231.31" r="0.55" fill="#7a1a1a" fill-opacity="0.55"/>
<circle cx="89.27" cy="255.46" r="0.55" fill="#7a1a1a" fill-opacity="0.55"/>
<circle cx="96.56" cy="254.69" r="0.55" fill="#7a1a1a" fill-opacity="0.55"/>
<circle cx="82.77" cy="225.19" r="0.55" fill="#7a1a1a" fill-opacity="0.55"/>
<circle cx="92.57" cy="245.32" r="0.55" fill="#7a1a1a" fill-opacity="0.55"/>
<circle cx="84.48" cy="231.62" r="0.55" fill="#7a1a1a" fill-opacity="0.55"/>
<circle cx="83.47" cy="247.83" r="0.55" fill="#7a1a1a" fill-opacity="0.55"/>
<circle cx="87.28" cy="252.39" r="0.55" fill="#7a1a1a" fill-opacity="0.55"/>
<circle cx="91.26" cy="247.27" r="0.55" fill="#7a1a1a" fill-opacity="0.55"/>
<circle cx="94.47" cy="206.76" r="0.55" fill="#7a1a1a" fill-opacity="0.55"/>
<circle cx="90.54" cy="268.71" r="0.55" fill="#7a1a1a" fill-opacity="0.55"/>
<circle cx="100.22" cy="232.96" r="0.55" fill="#7a1a1a" fill-opacity="0.55"/>
<circle cx="82.72" cy="251.85" r="0.55" fill="#7a1a1a" fill-opacity="0.55"/>
<circle cx="92.93" cy="230.41" r="0.55" fill="#7a1a1a" fill-opacity="0.55"/>
<line x1="69.6" y1="184.4" x2="90.9" y2="184.4" stroke="#6a6262" stroke-width="0.9"/>
<text x="79.9" y="186.8" font-size="9.6" text-anchor="middle" fill="#111" stroke="#111" stroke-width="0.25">*</text>
<text x="69.6" y="171.5" font-size="9.2" font-weight="bold" text-anchor="middle" fill="#1a1515" stroke="#1a1515" stroke-width="0.34">Frontal cortex</text>
<rect x="142" y="181" width="66.9" height="103" fill="#f4f4f4"/>
<line x1="142" y1="186.5" x2="208.9" y2="186.5" stroke="#fcfcfc" stroke-width="0.35"/>
<line x1="142" y1="216.3" x2="208.9" y2="216.3" stroke="#fcfcfc" stroke-width="0.35"/>
<line x1="142" y1="246.1" x2="208.9" y2="246.1" stroke="#fcfcfc" stroke-width="0.35"/>
<line x1="142" y1="276.3" x2="208.9" y2="276.3" stroke="#fcfcfc" stroke-width="0.35"/>
<line x1="142" y1="201.4" x2="208.9" y2="201.4" stroke="#fcfcfc" stroke-width="0.7"/>
<line x1="140.4" y1="201.4" x2="142" y2="201.4" stroke="#8a8a8a" stroke-width="0.5"/>
<text x="136.3" y="203.95" font-size="6.5" text-anchor="end" fill="#1e1e1e" stroke="#1e1e1e" stroke-width="0.14">2.8</text>
<line x1="142" y1="231.2" x2="208.9" y2="231.2" stroke="#fcfcfc" stroke-width="0.7"/>
<line x1="140.4" y1="231.2" x2="142" y2="231.2" stroke="#8a8a8a" stroke-width="0.5"/>
<text x="136.3" y="233.75" font-size="6.5" text-anchor="end" fill="#1e1e1e" stroke="#1e1e1e" stroke-width="0.14">2.6</text>
<line x1="142" y1="261.4" x2="208.9" y2="261.4" stroke="#fcfcfc" stroke-width="0.7"/>
<line x1="140.4" y1="261.4" x2="142" y2="261.4" stroke="#8a8a8a" stroke-width="0.5"/>
<text x="136.3" y="263.95" font-size="6.5" text-anchor="end" fill="#1e1e1e" stroke="#1e1e1e" stroke-width="0.14">2.4</text>
<line x1="154.2" y1="181" x2="154.2" y2="284" stroke="#fcfcfc" stroke-width="0.7"/>
<line x1="175.3" y1="181" x2="175.3" y2="284" stroke="#fcfcfc" stroke-width="0.7"/>
<line x1="196.5" y1="181" x2="196.5" y2="284" stroke="#fcfcfc" stroke-width="0.7"/>
<line x1="154.5" y1="220.8" x2="154.5" y2="238.1" stroke="#7a7a7a" stroke-width="0.75"/>
<line x1="154.5" y1="252.3" x2="154.5" y2="265.6" stroke="#7a7a7a" stroke-width="0.75"/>
<rect x="146.5" y="238.1" width="15.5" height="14.2" fill="#bebebe" stroke="#505050" stroke-width="0.65"/>
<line x1="146.5" y1="247.4" x2="162" y2="247.4" stroke="#3c3c3c" stroke-width="1.0"/>
<line x1="175.5" y1="216" x2="175.5" y2="235.9" stroke="#7a7a7a" stroke-width="0.75"/>
<line x1="175.5" y1="257.4" x2="175.5" y2="276.6" stroke="#7a7a7a" stroke-width="0.75"/>
<rect x="167.5" y="235.9" width="15.5" height="21.5" fill="#1e90ff" stroke="#505050" stroke-width="0.65"/>
<line x1="167.5" y1="245.2" x2="183" y2="245.2" stroke="#3c3c3c" stroke-width="1.0"/>
<line x1="196.5" y1="241.9" x2="196.5" y2="252.9" stroke="#7a7a7a" stroke-width="0.75"/>
<line x1="196.5" y1="266.2" x2="196.5" y2="271.3" stroke="#7a7a7a" stroke-width="0.75"/>
<rect x="188.6" y="252.9" width="15.9" height="13.3" fill="#ee0000" stroke="#505050" stroke-width="0.65"/>
<line x1="188.6" y1="261.8" x2="204.5" y2="261.8" stroke="#3c3c3c" stroke-width="1.0"/>
<circle cx="162.25" cy="241.79" r="0.55" fill="#444444" fill-opacity="0.55"/>
<circle cx="160.31" cy="222.39" r="0.55" fill="#444444" fill-opacity="0.55"/>
<circle cx="156.32" cy="230.55" r="0.55" fill="#444444" fill-opacity="0.55"/>
<circle cx="151.31" cy="241" r="0.55" fill="#444444" fill-opacity="0.55"/>
<circle cx="148.81" cy="249.99" r="0.55" fill="#444444" fill-opacity="0.55"/>
<circle cx="147.68" cy="242.75" r="0.55" fill="#444444" fill-opacity="0.55"/>
<circle cx="158.12" cy="242.53" r="0.55" fill="#444444" fill-opacity="0.55"/>
<circle cx="147.67" cy="245.35" r="0.55" fill="#444444" fill-opacity="0.55"/>
<circle cx="144.59" cy="243.71" r="0.55" fill="#444444" fill-opacity="0.55"/>
<circle cx="155.3" cy="224.88" r="0.55" fill="#444444" fill-opacity="0.55"/>
<circle cx="146.8" cy="239.16" r="0.55" fill="#444444" fill-opacity="0.55"/>
<circle cx="149.43" cy="251.64" r="0.55" fill="#444444" fill-opacity="0.55"/>
<circle cx="150.07" cy="236.8" r="0.55" fill="#444444" fill-opacity="0.55"/>
<circle cx="152.36" cy="265.45" r="0.55" fill="#444444" fill-opacity="0.55"/>
<circle cx="151.2" cy="248.44" r="0.55" fill="#444444" fill-opacity="0.55"/>
<circle cx="147.68" cy="250.9" r="0.55" fill="#444444" fill-opacity="0.55"/>
<circle cx="152.52" cy="239" r="0.55" fill="#444444" fill-opacity="0.55"/>
<circle cx="162.62" cy="240.41" r="0.55" fill="#444444" fill-opacity="0.55"/>
<circle cx="143.53" cy="249.5" r="0.55" fill="#444444" fill-opacity="0.55"/>
<circle cx="163.22" cy="246.94" r="0.55" fill="#444444" fill-opacity="0.55"/>
<circle cx="151.36" cy="240.17" r="0.55" fill="#444444" fill-opacity="0.55"/>
<circle cx="149.43" cy="251.24" r="0.55" fill="#444444" fill-opacity="0.55"/>
<circle cx="145.59" cy="249.53" r="0.55" fill="#444444" fill-opacity="0.55"/>
<circle cx="164.47" cy="239.9" r="0.55" fill="#444444" fill-opacity="0.55"/>
<circle cx="163.95" cy="242.29" r="0.55" fill="#444444" fill-opacity="0.55"/>
<circle cx="144.37" cy="238.18" r="0.55" fill="#444444" fill-opacity="0.55"/>
<circle cx="163.09" cy="257.74" r="0.55" fill="#444444" fill-opacity="0.55"/>
<circle cx="146.73" cy="230.75" r="0.55" fill="#444444" fill-opacity="0.55"/>
<circle cx="152.1" cy="257.95" r="0.55" fill="#444444" fill-opacity="0.55"/>
<circle cx="147.23" cy="243.78" r="0.55" fill="#444444" fill-opacity="0.55"/>
<circle cx="154.59" cy="239.85" r="0.55" fill="#444444" fill-opacity="0.55"/>
<circle cx="148.64" cy="261" r="0.55" fill="#444444" fill-opacity="0.55"/>
<circle cx="165.2" cy="261.9" r="0.55" fill="#263f6a" fill-opacity="0.55"/>
<circle cx="165.14" cy="223.13" r="0.55" fill="#263f6a" fill-opacity="0.55"/>
<circle cx="177.49" cy="254" r="0.55" fill="#263f6a" fill-opacity="0.55"/>
<circle cx="171.04" cy="248.43" r="0.55" fill="#263f6a" fill-opacity="0.55"/>
<circle cx="173.67" cy="243.08" r="0.55" fill="#263f6a" fill-opacity="0.55"/>
<circle cx="173.94" cy="249.21" r="0.55" fill="#263f6a" fill-opacity="0.55"/>
<circle cx="175.07" cy="252.32" r="0.55" fill="#263f6a" fill-opacity="0.55"/>
<circle cx="181.46" cy="239.76" r="0.55" fill="#263f6a" fill-opacity="0.55"/>
<circle cx="174.71" cy="238.66" r="0.55" fill="#263f6a" fill-opacity="0.55"/>
<circle cx="173.77" cy="245.4" r="0.55" fill="#263f6a" fill-opacity="0.55"/>
<circle cx="175.52" cy="249.58" r="0.55" fill="#263f6a" fill-opacity="0.55"/>
<circle cx="166.11" cy="263.12" r="0.55" fill="#263f6a" fill-opacity="0.55"/>
<circle cx="175.55" cy="246.73" r="0.55" fill="#263f6a" fill-opacity="0.55"/>
<circle cx="172.61" cy="221.34" r="0.55" fill="#263f6a" fill-opacity="0.55"/>
<circle cx="183.16" cy="262.22" r="0.55" fill="#263f6a" fill-opacity="0.55"/>
<circle cx="182.23" cy="257.01" r="0.55" fill="#263f6a" fill-opacity="0.55"/>
<circle cx="175.12" cy="274.84" r="0.55" fill="#263f6a" fill-opacity="0.55"/>
<circle cx="167.93" cy="272.39" r="0.55" fill="#263f6a" fill-opacity="0.55"/>
<circle cx="165.74" cy="252.16" r="0.55" fill="#263f6a" fill-opacity="0.55"/>
<circle cx="167.79" cy="232.66" r="0.55" fill="#263f6a" fill-opacity="0.55"/>
<circle cx="182.24" cy="246.7" r="0.55" fill="#263f6a" fill-opacity="0.55"/>
<circle cx="184.54" cy="241.55" r="0.55" fill="#263f6a" fill-opacity="0.55"/>
<circle cx="175.43" cy="236.69" r="0.55" fill="#263f6a" fill-opacity="0.55"/>
<circle cx="168.31" cy="256.03" r="0.55" fill="#263f6a" fill-opacity="0.55"/>
<circle cx="179.25" cy="226.23" r="0.55" fill="#263f6a" fill-opacity="0.55"/>
<circle cx="181.57" cy="247.31" r="0.55" fill="#263f6a" fill-opacity="0.55"/>
<circle cx="178.3" cy="254.67" r="0.55" fill="#263f6a" fill-opacity="0.55"/>
<circle cx="176.51" cy="269.48" r="0.55" fill="#263f6a" fill-opacity="0.55"/>
<circle cx="166.6" cy="255.2" r="0.55" fill="#263f6a" fill-opacity="0.55"/>
<circle cx="172.97" cy="232.04" r="0.55" fill="#263f6a" fill-opacity="0.55"/>
<circle cx="186.09" cy="237.83" r="0.55" fill="#263f6a" fill-opacity="0.55"/>
<circle cx="181.12" cy="239.7" r="0.55" fill="#263f6a" fill-opacity="0.55"/>
<circle cx="201.86" cy="263.8" r="0.55" fill="#7a1a1a" fill-opacity="0.55"/>
<circle cx="191.08" cy="270.83" r="0.55" fill="#7a1a1a" fill-opacity="0.55"/>
<circle cx="198.39" cy="251.09" r="0.55" fill="#7a1a1a" fill-opacity="0.55"/>
<circle cx="185.54" cy="254.89" r="0.55" fill="#7a1a1a" fill-opacity="0.55"/>
<circle cx="199.05" cy="259.72" r="0.55" fill="#7a1a1a" fill-opacity="0.55"/>
<circle cx="205.2" cy="255.92" r="0.55" fill="#7a1a1a" fill-opacity="0.55"/>
<circle cx="199.87" cy="252.93" r="0.55" fill="#7a1a1a" fill-opacity="0.55"/>
<circle cx="193.31" cy="257.65" r="0.55" fill="#7a1a1a" fill-opacity="0.55"/>
<circle cx="190.43" cy="259.22" r="0.55" fill="#7a1a1a" fill-opacity="0.55"/>
<circle cx="189.99" cy="255.86" r="0.55" fill="#7a1a1a" fill-opacity="0.55"/>
<circle cx="188.46" cy="247.01" r="0.55" fill="#7a1a1a" fill-opacity="0.55"/>
<circle cx="188.78" cy="261.39" r="0.55" fill="#7a1a1a" fill-opacity="0.55"/>
<circle cx="204.67" cy="253.72" r="0.55" fill="#7a1a1a" fill-opacity="0.55"/>
<circle cx="191.31" cy="261.48" r="0.55" fill="#7a1a1a" fill-opacity="0.55"/>
<circle cx="197.87" cy="261.49" r="0.55" fill="#7a1a1a" fill-opacity="0.55"/>
<circle cx="195.26" cy="265.33" r="0.55" fill="#7a1a1a" fill-opacity="0.55"/>
<circle cx="190.97" cy="243.19" r="0.55" fill="#7a1a1a" fill-opacity="0.55"/>
<circle cx="197.19" cy="256.06" r="0.55" fill="#7a1a1a" fill-opacity="0.55"/>
<circle cx="186.78" cy="242.26" r="0.55" fill="#7a1a1a" fill-opacity="0.55"/>
<circle cx="197.62" cy="243.22" r="0.55" fill="#7a1a1a" fill-opacity="0.55"/>
<circle cx="189.89" cy="256.8" r="0.55" fill="#7a1a1a" fill-opacity="0.55"/>
<circle cx="199.61" cy="247.03" r="0.55" fill="#7a1a1a" fill-opacity="0.55"/>
<circle cx="192.31" cy="253.54" r="0.55" fill="#7a1a1a" fill-opacity="0.55"/>
<circle cx="205.07" cy="262.93" r="0.55" fill="#7a1a1a" fill-opacity="0.55"/>
<circle cx="185.64" cy="263.81" r="0.55" fill="#7a1a1a" fill-opacity="0.55"/>
<circle cx="195.74" cy="255.2" r="0.55" fill="#7a1a1a" fill-opacity="0.55"/>
<circle cx="190.47" cy="255.99" r="0.55" fill="#7a1a1a" fill-opacity="0.55"/>
<circle cx="186.35" cy="262.87" r="0.55" fill="#7a1a1a" fill-opacity="0.55"/>
<circle cx="200.79" cy="262.82" r="0.55" fill="#7a1a1a" fill-opacity="0.55"/>
<circle cx="191.35" cy="254.72" r="0.55" fill="#7a1a1a" fill-opacity="0.55"/>
<circle cx="202.85" cy="256.43" r="0.55" fill="#7a1a1a" fill-opacity="0.55"/>
<circle cx="199.62" cy="246.02" r="0.55" fill="#7a1a1a" fill-opacity="0.55"/>
<line x1="154.9" y1="184.3" x2="195.6" y2="184.3" stroke="#6a6262" stroke-width="0.9"/>
<text x="174.8" y="186.7" font-size="9.6" text-anchor="middle" fill="#111" stroke="#111" stroke-width="0.25">***</text>
<line x1="175.3" y1="188.3" x2="195.6" y2="188.3" stroke="#6a6262" stroke-width="0.9"/>
<text x="185.9" y="190.7" font-size="9.6" text-anchor="middle" fill="#111" stroke="#111" stroke-width="0.25">***</text>
<text x="175.3" y="171.5" font-size="9.2" font-weight="bold" text-anchor="middle" fill="#1a1515" stroke="#1a1515" stroke-width="0.34">Cingulate cortex</text>
<rect x="247" y="181" width="66.8" height="103" fill="#f4f4f4"/>
<line x1="247" y1="202.85" x2="313.8" y2="202.85" stroke="#fcfcfc" stroke-width="0.35"/>
<line x1="247" y1="226.75" x2="313.8" y2="226.75" stroke="#fcfcfc" stroke-width="0.35"/>
<line x1="247" y1="250.85" x2="313.8" y2="250.85" stroke="#fcfcfc" stroke-width="0.35"/>
<line x1="247" y1="274.75" x2="313.8" y2="274.75" stroke="#fcfcfc" stroke-width="0.35"/>
<line x1="247" y1="190.9" x2="313.8" y2="190.9" stroke="#fcfcfc" stroke-width="0.7"/>
<line x1="245.4" y1="190.9" x2="247" y2="190.9" stroke="#8a8a8a" stroke-width="0.5"/>
<text x="241.3" y="193.45" font-size="6.5" text-anchor="end" fill="#1e1e1e" stroke="#1e1e1e" stroke-width="0.14">3.4</text>
<line x1="247" y1="214.8" x2="313.8" y2="214.8" stroke="#fcfcfc" stroke-width="0.7"/>
<line x1="245.4" y1="214.8" x2="247" y2="214.8" stroke="#8a8a8a" stroke-width="0.5"/>
<text x="241.3" y="217.35" font-size="6.5" text-anchor="end" fill="#1e1e1e" stroke="#1e1e1e" stroke-width="0.14">3.2</text>
<line x1="247" y1="238.9" x2="313.8" y2="238.9" stroke="#fcfcfc" stroke-width="0.7"/>
<line x1="245.4" y1="238.9" x2="247" y2="238.9" stroke="#8a8a8a" stroke-width="0.5"/>
<text x="241.3" y="241.45" font-size="6.5" text-anchor="end" fill="#1e1e1e" stroke="#1e1e1e" stroke-width="0.14">3.0</text>
<line x1="247" y1="262.8" x2="313.8" y2="262.8" stroke="#fcfcfc" stroke-width="0.7"/>
<line x1="245.4" y1="262.8" x2="247" y2="262.8" stroke="#8a8a8a" stroke-width="0.5"/>
<text x="241.3" y="265.35" font-size="6.5" text-anchor="end" fill="#1e1e1e" stroke="#1e1e1e" stroke-width="0.14">2.8</text>
<line x1="259.2" y1="181" x2="259.2" y2="284" stroke="#fcfcfc" stroke-width="0.7"/>
<line x1="280.4" y1="181" x2="280.4" y2="284" stroke="#fcfcfc" stroke-width="0.7"/>
<line x1="301.5" y1="181" x2="301.5" y2="284" stroke="#fcfcfc" stroke-width="0.7"/>
<line x1="259.5" y1="198.2" x2="259.5" y2="226.3" stroke="#7a7a7a" stroke-width="0.75"/>
<line x1="259.5" y1="246.9" x2="259.5" y2="264.6" stroke="#7a7a7a" stroke-width="0.75"/>
<rect x="251" y="226.3" width="16.4" height="20.6" fill="#bebebe" stroke="#505050" stroke-width="0.65"/>
<line x1="251" y1="238.5" x2="267.4" y2="238.5" stroke="#3c3c3c" stroke-width="1.0"/>
<line x1="280.5" y1="201.3" x2="280.5" y2="221.2" stroke="#7a7a7a" stroke-width="0.75"/>
<line x1="280.5" y1="241.4" x2="280.5" y2="271" stroke="#7a7a7a" stroke-width="0.75"/>
<rect x="272.5" y="221.2" width="15.9" height="20.2" fill="#1e90ff" stroke="#505050" stroke-width="0.65"/>
<line x1="272.5" y1="232.3" x2="288.4" y2="232.3" stroke="#3c3c3c" stroke-width="1.0"/>
<line x1="301.5" y1="221.5" x2="301.5" y2="242.3" stroke="#7a7a7a" stroke-width="0.75"/>
<line x1="301.5" y1="258.4" x2="301.5" y2="266.2" stroke="#7a7a7a" stroke-width="0.75"/>
<rect x="293.5" y="242.3" width="15.9" height="16.1" fill="#ee0000" stroke="#505050" stroke-width="0.65"/>
<line x1="293.5" y1="247.3" x2="309.4" y2="247.3" stroke="#3c3c3c" stroke-width="1.0"/>
<circle cx="267.56" cy="231.66" r="0.55" fill="#444444" fill-opacity="0.55"/>
<circle cx="253.39" cy="260.93" r="0.55" fill="#444444" fill-opacity="0.55"/>
<circle cx="264.62" cy="244.43" r="0.55" fill="#444444" fill-opacity="0.55"/>
<circle cx="255.43" cy="245" r="0.55" fill="#444444" fill-opacity="0.55"/>
<circle cx="262.08" cy="242.37" r="0.55" fill="#444444" fill-opacity="0.55"/>
<circle cx="269.74" cy="243.6" r="0.55" fill="#444444" fill-opacity="0.55"/>
<circle cx="263.55" cy="227.23" r="0.55" fill="#444444" fill-opacity="0.55"/>
<circle cx="264.14" cy="218.63" r="0.55" fill="#444444" fill-opacity="0.55"/>
<circle cx="252.86" cy="203.37" r="0.55" fill="#444444" fill-opacity="0.55"/>
<circle cx="268.24" cy="226.85" r="0.55" fill="#444444" fill-opacity="0.55"/>
<circle cx="250.55" cy="221.1" r="0.55" fill="#444444" fill-opacity="0.55"/>
<circle cx="251.32" cy="227.16" r="0.55" fill="#444444" fill-opacity="0.55"/>
<circle cx="263.44" cy="244.48" r="0.55" fill="#444444" fill-opacity="0.55"/>
<circle cx="264.41" cy="238.46" r="0.55" fill="#444444" fill-opacity="0.55"/>
<circle cx="256.19" cy="252.62" r="0.55" fill="#444444" fill-opacity="0.55"/>
<circle cx="267.81" cy="244.18" r="0.55" fill="#444444" fill-opacity="0.55"/>
<circle cx="268.32" cy="202.17" r="0.55" fill="#444444" fill-opacity="0.55"/>
<circle cx="252.73" cy="227.01" r="0.55" fill="#444444" fill-opacity="0.55"/>
<circle cx="266.85" cy="240.31" r="0.55" fill="#444444" fill-opacity="0.55"/>
<circle cx="266.35" cy="217.28" r="0.55" fill="#444444" fill-opacity="0.55"/>
<circle cx="250.4" cy="241.9" r="0.55" fill="#444444" fill-opacity="0.55"/>
<circle cx="252.71" cy="235.03" r="0.55" fill="#444444" fill-opacity="0.55"/>
<circle cx="248.66" cy="232.12" r="0.55" fill="#444444" fill-opacity="0.55"/>
<circle cx="263.95" cy="232.91" r="0.55" fill="#444444" fill-opacity="0.55"/>
<circle cx="269.41" cy="243.84" r="0.55" fill="#444444" fill-opacity="0.55"/>
<circle cx="261.8" cy="234.81" r="0.55" fill="#444444" fill-opacity="0.55"/>
<circle cx="257.8" cy="221.23" r="0.55" fill="#444444" fill-opacity="0.55"/>
<circle cx="263.7" cy="230.76" r="0.55" fill="#444444" fill-opacity="0.55"/>
<circle cx="267.17" cy="243.19" r="0.55" fill="#444444" fill-opacity="0.55"/>
<circle cx="251.95" cy="230.46" r="0.55" fill="#444444" fill-opacity="0.55"/>
<circle cx="264.97" cy="194.52" r="0.55" fill="#444444" fill-opacity="0.55"/>
<circle cx="259" cy="242.71" r="0.55" fill="#444444" fill-opacity="0.55"/>
<circle cx="273.46" cy="228.21" r="0.55" fill="#263f6a" fill-opacity="0.55"/>
<circle cx="287.7" cy="240.27" r="0.55" fill="#263f6a" fill-opacity="0.55"/>
<circle cx="275.64" cy="235.33" r="0.55" fill="#263f6a" fill-opacity="0.55"/>
<circle cx="280.36" cy="234.06" r="0.55" fill="#263f6a" fill-opacity="0.55"/>
<circle cx="271.18" cy="249.89" r="0.55" fill="#263f6a" fill-opacity="0.55"/>
<circle cx="286.71" cy="226.09" r="0.55" fill="#263f6a" fill-opacity="0.55"/>
<circle cx="278.23" cy="239.19" r="0.55" fill="#263f6a" fill-opacity="0.55"/>
<circle cx="271.3" cy="203.05" r="0.55" fill="#263f6a" fill-opacity="0.55"/>
<circle cx="273.93" cy="239.4" r="0.55" fill="#263f6a" fill-opacity="0.55"/>
<circle cx="280.43" cy="239.06" r="0.55" fill="#263f6a" fill-opacity="0.55"/>
<circle cx="274.54" cy="231.94" r="0.55" fill="#263f6a" fill-opacity="0.55"/>
<circle cx="286" cy="246.35" r="0.55" fill="#263f6a" fill-opacity="0.55"/>
<circle cx="277.07" cy="224.34" r="0.55" fill="#263f6a" fill-opacity="0.55"/>
<circle cx="287.95" cy="253.02" r="0.55" fill="#263f6a" fill-opacity="0.55"/>
<circle cx="273.13" cy="236.82" r="0.55" fill="#263f6a" fill-opacity="0.55"/>
<circle cx="282.14" cy="230.53" r="0.55" fill="#263f6a" fill-opacity="0.55"/>
<circle cx="288.87" cy="225.07" r="0.55" fill="#263f6a" fill-opacity="0.55"/>
<circle cx="276.03" cy="260.1" r="0.55" fill="#263f6a" fill-opacity="0.55"/>
<circle cx="272.8" cy="226.2" r="0.55" fill="#263f6a" fill-opacity="0.55"/>
<circle cx="276.58" cy="224.45" r="0.55" fill="#263f6a" fill-opacity="0.55"/>
<circle cx="276.62" cy="240.9" r="0.55" fill="#263f6a" fill-opacity="0.55"/>
<circle cx="285.43" cy="240.64" r="0.55" fill="#263f6a" fill-opacity="0.55"/>
<circle cx="271.64" cy="241.07" r="0.55" fill="#263f6a" fill-opacity="0.55"/>
<circle cx="286.89" cy="231.61" r="0.55" fill="#263f6a" fill-opacity="0.55"/>
<circle cx="273.72" cy="208.75" r="0.55" fill="#263f6a" fill-opacity="0.55"/>
<circle cx="273.94" cy="221.89" r="0.55" fill="#263f6a" fill-opacity="0.55"/>
<circle cx="278.18" cy="249.63" r="0.55" fill="#263f6a" fill-opacity="0.55"/>
<circle cx="280.41" cy="233.59" r="0.55" fill="#263f6a" fill-opacity="0.55"/>
<circle cx="272.52" cy="229.51" r="0.55" fill="#263f6a" fill-opacity="0.55"/>
<circle cx="285.7" cy="231.27" r="0.55" fill="#263f6a" fill-opacity="0.55"/>
<circle cx="282.03" cy="230.65" r="0.55" fill="#263f6a" fill-opacity="0.55"/>
<circle cx="274.43" cy="262.64" r="0.55" fill="#263f6a" fill-opacity="0.55"/>
<circle cx="307.53" cy="259.6" r="0.55" fill="#7a1a1a" fill-opacity="0.55"/>
<circle cx="305.45" cy="241.79" r="0.55" fill="#7a1a1a" fill-opacity="0.55"/>
<circle cx="297.39" cy="225.87" r="0.55" fill="#7a1a1a" fill-opacity="0.55"/>
<circle cx="299.73" cy="253.38" r="0.55" fill="#7a1a1a" fill-opacity="0.55"/>
<circle cx="304.35" cy="249.12" r="0.55" fill="#7a1a1a" fill-opacity="0.55"/>
<circle cx="300.51" cy="239.8" r="0.55" fill="#7a1a1a" fill-opacity="0.55"/>
<circle cx="305.36" cy="227.15" r="0.55" fill="#7a1a1a" fill-opacity="0.55"/>
<circle cx="304.9" cy="238.88" r="0.55" fill="#7a1a1a" fill-opacity="0.55"/>
<circle cx="301.28" cy="219.51" r="0.55" fill="#7a1a1a" fill-opacity="0.55"/>
<circle cx="302.45" cy="254.89" r="0.55" fill="#7a1a1a" fill-opacity="0.55"/>
<circle cx="311.19" cy="243.93" r="0.55" fill="#7a1a1a" fill-opacity="0.55"/>
<circle cx="303.14" cy="253.85" r="0.55" fill="#7a1a1a" fill-opacity="0.55"/>
<circle cx="301.77" cy="258.56" r="0.55" fill="#7a1a1a" fill-opacity="0.55"/>
<circle cx="301.98" cy="257.56" r="0.55" fill="#7a1a1a" fill-opacity="0.55"/>
<circle cx="295.12" cy="239.04" r="0.55" fill="#7a1a1a" fill-opacity="0.55"/>
<circle cx="307.28" cy="258.15" r="0.55" fill="#7a1a1a" fill-opacity="0.55"/>
<circle cx="298.32" cy="246.72" r="0.55" fill="#7a1a1a" fill-opacity="0.55"/>
<circle cx="299.29" cy="249.04" r="0.55" fill="#7a1a1a" fill-opacity="0.55"/>
<circle cx="299.75" cy="237.24" r="0.55" fill="#7a1a1a" fill-opacity="0.55"/>
<circle cx="296.33" cy="254.24" r="0.55" fill="#7a1a1a" fill-opacity="0.55"/>
<circle cx="311.18" cy="245.82" r="0.55" fill="#7a1a1a" fill-opacity="0.55"/>
<circle cx="308.13" cy="245.71" r="0.55" fill="#7a1a1a" fill-opacity="0.55"/>
<circle cx="293.34" cy="257.69" r="0.55" fill="#7a1a1a" fill-opacity="0.55"/>
<circle cx="304.45" cy="251.35" r="0.55" fill="#7a1a1a" fill-opacity="0.55"/>
<circle cx="295.47" cy="236.11" r="0.55" fill="#7a1a1a" fill-opacity="0.55"/>
<circle cx="304.55" cy="257.98" r="0.55" fill="#7a1a1a" fill-opacity="0.55"/>
<circle cx="300.8" cy="251.13" r="0.55" fill="#7a1a1a" fill-opacity="0.55"/>
<circle cx="293.25" cy="237.36" r="0.55" fill="#7a1a1a" fill-opacity="0.55"/>
<circle cx="309.21" cy="248.36" r="0.55" fill="#7a1a1a" fill-opacity="0.55"/>
<circle cx="296.08" cy="245.29" r="0.55" fill="#7a1a1a" fill-opacity="0.55"/>
<circle cx="290.56" cy="234.07" r="0.55" fill="#7a1a1a" fill-opacity="0.55"/>
<circle cx="295.89" cy="250.02" r="0.55" fill="#7a1a1a" fill-opacity="0.55"/>
<line x1="280.4" y1="184.3" x2="301.5" y2="184.3" stroke="#6a6262" stroke-width="0.9"/>
<text x="290.8" y="186.7" font-size="9.6" text-anchor="middle" fill="#111" stroke="#111" stroke-width="0.25">**</text>
<text x="280" y="171.5" font-size="9.2" font-weight="bold" text-anchor="middle" fill="#1a1515" stroke="#1a1515" stroke-width="0.34">Insular cortex</text>
<rect x="355.4" y="180.5" width="67.4" height="103.3" fill="#f4f4f4"/>
<line x1="355.4" y1="191.55" x2="422.8" y2="191.55" stroke="#fcfcfc" stroke-width="0.35"/>
<line x1="355.4" y1="212.85" x2="422.8" y2="212.85" stroke="#fcfcfc" stroke-width="0.35"/>
<line x1="355.4" y1="234.15" x2="422.8" y2="234.15" stroke="#fcfcfc" stroke-width="0.35"/>
<line x1="355.4" y1="255.75" x2="422.8" y2="255.75" stroke="#fcfcfc" stroke-width="0.35"/>
<line x1="355.4" y1="276.85" x2="422.8" y2="276.85" stroke="#fcfcfc" stroke-width="0.35"/>
<line x1="355.4" y1="202.2" x2="422.8" y2="202.2" stroke="#fcfcfc" stroke-width="0.7"/>
<line x1="353.8" y1="202.2" x2="355.4" y2="202.2" stroke="#8a8a8a" stroke-width="0.5"/>
<text x="349.6" y="204.75" font-size="6.5" text-anchor="end" fill="#1e1e1e" stroke="#1e1e1e" stroke-width="0.14">2.4</text>
<line x1="355.4" y1="223.5" x2="422.8" y2="223.5" stroke="#fcfcfc" stroke-width="0.7"/>
<line x1="353.8" y1="223.5" x2="355.4" y2="223.5" stroke="#8a8a8a" stroke-width="0.5"/>
<text x="349.6" y="226.05" font-size="6.5" text-anchor="end" fill="#1e1e1e" stroke="#1e1e1e" stroke-width="0.14">2.3</text>
<line x1="355.4" y1="245.1" x2="422.8" y2="245.1" stroke="#fcfcfc" stroke-width="0.7"/>
<line x1="353.8" y1="245.1" x2="355.4" y2="245.1" stroke="#8a8a8a" stroke-width="0.5"/>
<text x="349.6" y="247.65" font-size="6.5" text-anchor="end" fill="#1e1e1e" stroke="#1e1e1e" stroke-width="0.14">2.2</text>
<line x1="355.4" y1="266.2" x2="422.8" y2="266.2" stroke="#fcfcfc" stroke-width="0.7"/>
<line x1="353.8" y1="266.2" x2="355.4" y2="266.2" stroke="#8a8a8a" stroke-width="0.5"/>
<text x="349.6" y="268.75" font-size="6.5" text-anchor="end" fill="#1e1e1e" stroke="#1e1e1e" stroke-width="0.14">2.1</text>
<line x1="367.7" y1="180.5" x2="367.7" y2="283.8" stroke="#fcfcfc" stroke-width="0.7"/>
<line x1="388.5" y1="180.5" x2="388.5" y2="283.8" stroke="#fcfcfc" stroke-width="0.7"/>
<line x1="410" y1="180.5" x2="410" y2="283.8" stroke="#fcfcfc" stroke-width="0.7"/>
<line x1="367.5" y1="189.2" x2="367.5" y2="216.8" stroke="#7a7a7a" stroke-width="0.75"/>
<line x1="367.5" y1="245.6" x2="367.5" y2="279.4" stroke="#7a7a7a" stroke-width="0.75"/>
<rect x="359.8" y="216.8" width="15.9" height="28.8" fill="#bebebe" stroke="#505050" stroke-width="0.65"/>
<line x1="359.8" y1="231.4" x2="375.7" y2="231.4" stroke="#3c3c3c" stroke-width="1.0"/>
<line x1="388.5" y1="184.3" x2="388.5" y2="214.6" stroke="#7a7a7a" stroke-width="0.75"/>
<line x1="388.5" y1="234.5" x2="388.5" y2="262.4" stroke="#7a7a7a" stroke-width="0.75"/>
<rect x="380.8" y="214.6" width="15.9" height="19.9" fill="#1e90ff" stroke="#505050" stroke-width="0.65"/>
<line x1="380.8" y1="223" x2="396.7" y2="223" stroke="#3c3c3c" stroke-width="1.0"/>
<line x1="410.5" y1="200.4" x2="410.5" y2="229" stroke="#7a7a7a" stroke-width="0.75"/>
<line x1="410.5" y1="251.8" x2="410.5" y2="264.6" stroke="#7a7a7a" stroke-width="0.75"/>
<rect x="401.8" y="229" width="16.2" height="22.8" fill="#ee0000" stroke="#505050" stroke-width="0.65"/>
<line x1="401.8" y1="245.1" x2="418" y2="245.1" stroke="#3c3c3c" stroke-width="1.0"/>
<circle cx="366.13" cy="248.67" r="0.55" fill="#444444" fill-opacity="0.55"/>
<circle cx="364.67" cy="266.27" r="0.55" fill="#444444" fill-opacity="0.55"/>
<circle cx="357.96" cy="270.9" r="0.55" fill="#444444" fill-opacity="0.55"/>
<circle cx="373.95" cy="240.74" r="0.55" fill="#444444" fill-opacity="0.55"/>
<circle cx="370.63" cy="217.13" r="0.55" fill="#444444" fill-opacity="0.55"/>
<circle cx="377.64" cy="211.75" r="0.55" fill="#444444" fill-opacity="0.55"/>
<circle cx="358.93" cy="223.53" r="0.55" fill="#444444" fill-opacity="0.55"/>
<circle cx="373.78" cy="221.2" r="0.55" fill="#444444" fill-opacity="0.55"/>
<circle cx="376.59" cy="204.35" r="0.55" fill="#444444" fill-opacity="0.55"/>
<circle cx="376.3" cy="259.67" r="0.55" fill="#444444" fill-opacity="0.55"/>
<circle cx="371.41" cy="260.28" r="0.55" fill="#444444" fill-opacity="0.55"/>
<circle cx="375.15" cy="236.75" r="0.55" fill="#444444" fill-opacity="0.55"/>
<circle cx="368.38" cy="228.76" r="0.55" fill="#444444" fill-opacity="0.55"/>
<circle cx="376.12" cy="213.06" r="0.55" fill="#444444" fill-opacity="0.55"/>
<circle cx="361.85" cy="231" r="0.55" fill="#444444" fill-opacity="0.55"/>
<circle cx="357.99" cy="220.96" r="0.55" fill="#444444" fill-opacity="0.55"/>
<circle cx="367.51" cy="232.34" r="0.55" fill="#444444" fill-opacity="0.55"/>
<circle cx="375.68" cy="241.01" r="0.55" fill="#444444" fill-opacity="0.55"/>
<circle cx="367" cy="249.21" r="0.55" fill="#444444" fill-opacity="0.55"/>
<circle cx="375.19" cy="228.86" r="0.55" fill="#444444" fill-opacity="0.55"/>
<circle cx="377.83" cy="235.15" r="0.55" fill="#444444" fill-opacity="0.55"/>
<circle cx="370.69" cy="234.36" r="0.55" fill="#444444" fill-opacity="0.55"/>
<circle cx="371.72" cy="217.65" r="0.55" fill="#444444" fill-opacity="0.55"/>
<circle cx="378.3" cy="230.76" r="0.55" fill="#444444" fill-opacity="0.55"/>
<circle cx="376.45" cy="237.48" r="0.55" fill="#444444" fill-opacity="0.55"/>
<circle cx="370.46" cy="241.62" r="0.55" fill="#444444" fill-opacity="0.55"/>
<circle cx="364.76" cy="231.94" r="0.55" fill="#444444" fill-opacity="0.55"/>
<circle cx="373.65" cy="229.33" r="0.55" fill="#444444" fill-opacity="0.55"/>
<circle cx="365.99" cy="263.77" r="0.55" fill="#444444" fill-opacity="0.55"/>
<circle cx="363.14" cy="225.62" r="0.55" fill="#444444" fill-opacity="0.55"/>
<circle cx="367.78" cy="231.39" r="0.55" fill="#444444" fill-opacity="0.55"/>
<circle cx="378.15" cy="260.63" r="0.55" fill="#444444" fill-opacity="0.55"/>
<circle cx="384.78" cy="220.55" r="0.55" fill="#263f6a" fill-opacity="0.55"/>
<circle cx="390.4" cy="245.55" r="0.55" fill="#263f6a" fill-opacity="0.55"/>
<circle cx="378.38" cy="253.47" r="0.55" fill="#263f6a" fill-opacity="0.55"/>
<circle cx="389.5" cy="220.58" r="0.55" fill="#263f6a" fill-opacity="0.55"/>
<circle cx="377.64" cy="232.94" r="0.55" fill="#263f6a" fill-opacity="0.55"/>
<circle cx="390.89" cy="245.92" r="0.55" fill="#263f6a" fill-opacity="0.55"/>
<circle cx="397.52" cy="232.46" r="0.55" fill="#263f6a" fill-opacity="0.55"/>
<circle cx="391.29" cy="230.87" r="0.55" fill="#263f6a" fill-opacity="0.55"/>
<circle cx="392.48" cy="227.87" r="0.55" fill="#263f6a" fill-opacity="0.55"/>
<circle cx="387.57" cy="192.22" r="0.55" fill="#263f6a" fill-opacity="0.55"/>
<circle cx="381.49" cy="230.01" r="0.55" fill="#263f6a" fill-opacity="0.55"/>
<circle cx="397.61" cy="213.11" r="0.55" fill="#263f6a" fill-opacity="0.55"/>
<circle cx="395.6" cy="228.2" r="0.55" fill="#263f6a" fill-opacity="0.55"/>
<circle cx="383.18" cy="222.99" r="0.55" fill="#263f6a" fill-opacity="0.55"/>
<circle cx="384.51" cy="227.37" r="0.55" fill="#263f6a" fill-opacity="0.55"/>
<circle cx="398.04" cy="225.89" r="0.55" fill="#263f6a" fill-opacity="0.55"/>
<circle cx="378.37" cy="230.73" r="0.55" fill="#263f6a" fill-opacity="0.55"/>
<circle cx="390.16" cy="219.17" r="0.55" fill="#263f6a" fill-opacity="0.55"/>
<circle cx="377.81" cy="226.38" r="0.55" fill="#263f6a" fill-opacity="0.55"/>
<circle cx="398.13" cy="221.24" r="0.55" fill="#263f6a" fill-opacity="0.55"/>
<circle cx="386.57" cy="227.43" r="0.55" fill="#263f6a" fill-opacity="0.55"/>
<circle cx="382.17" cy="214.91" r="0.55" fill="#263f6a" fill-opacity="0.55"/>
<circle cx="377.61" cy="193.8" r="0.55" fill="#263f6a" fill-opacity="0.55"/>
<circle cx="398.76" cy="231.9" r="0.55" fill="#263f6a" fill-opacity="0.55"/>
<circle cx="380.34" cy="228.92" r="0.55" fill="#263f6a" fill-opacity="0.55"/>
<circle cx="382.83" cy="198.94" r="0.55" fill="#263f6a" fill-opacity="0.55"/>
<circle cx="378.6" cy="240.03" r="0.55" fill="#263f6a" fill-opacity="0.55"/>
<circle cx="396.32" cy="190.88" r="0.55" fill="#263f6a" fill-opacity="0.55"/>
<circle cx="391.33" cy="220.27" r="0.55" fill="#263f6a" fill-opacity="0.55"/>
<circle cx="398.01" cy="233.79" r="0.55" fill="#263f6a" fill-opacity="0.55"/>
<circle cx="393.28" cy="214.89" r="0.55" fill="#263f6a" fill-opacity="0.55"/>
<circle cx="391.82" cy="190.52" r="0.55" fill="#263f6a" fill-opacity="0.55"/>
<circle cx="405.84" cy="211.06" r="0.55" fill="#7a1a1a" fill-opacity="0.55"/>
<circle cx="417.94" cy="230.36" r="0.55" fill="#7a1a1a" fill-opacity="0.55"/>
<circle cx="407.09" cy="228.57" r="0.55" fill="#7a1a1a" fill-opacity="0.55"/>
<circle cx="413.89" cy="247.18" r="0.55" fill="#7a1a1a" fill-opacity="0.55"/>
<circle cx="406.99" cy="240.83" r="0.55" fill="#7a1a1a" fill-opacity="0.55"/>
<circle cx="408.2" cy="246.93" r="0.55" fill="#7a1a1a" fill-opacity="0.55"/>
<circle cx="419.79" cy="236.79" r="0.55" fill="#7a1a1a" fill-opacity="0.55"/>
<circle cx="405.43" cy="251.21" r="0.55" fill="#7a1a1a" fill-opacity="0.55"/>
<circle cx="414.47" cy="221.72" r="0.55" fill="#7a1a1a" fill-opacity="0.55"/>
<circle cx="412.33" cy="256.42" r="0.55" fill="#7a1a1a" fill-opacity="0.55"/>
<circle cx="412.23" cy="238.77" r="0.55" fill="#7a1a1a" fill-opacity="0.55"/>
<circle cx="418.54" cy="244.61" r="0.55" fill="#7a1a1a" fill-opacity="0.55"/>
<circle cx="412.24" cy="252.24" r="0.55" fill="#7a1a1a" fill-opacity="0.55"/>
<circle cx="405.23" cy="235" r="0.55" fill="#7a1a1a" fill-opacity="0.55"/>
<circle cx="408.3" cy="252.79" r="0.55" fill="#7a1a1a" fill-opacity="0.55"/>
<circle cx="418.52" cy="248" r="0.55" fill="#7a1a1a" fill-opacity="0.55"/>
<circle cx="416.86" cy="237.12" r="0.55" fill="#7a1a1a" fill-opacity="0.55"/>
<circle cx="405.02" cy="252.21" r="0.55" fill="#7a1a1a" fill-opacity="0.55"/>
<circle cx="414.06" cy="222.67" r="0.55" fill="#7a1a1a" fill-opacity="0.55"/>
<circle cx="400.87" cy="251.59" r="0.55" fill="#7a1a1a" fill-opacity="0.55"/>
<circle cx="403.41" cy="260.22" r="0.55" fill="#7a1a1a" fill-opacity="0.55"/>
<circle cx="404.15" cy="243.91" r="0.55" fill="#7a1a1a" fill-opacity="0.55"/>
<circle cx="409.24" cy="234.81" r="0.55" fill="#7a1a1a" fill-opacity="0.55"/>
<circle cx="415.52" cy="229.91" r="0.55" fill="#7a1a1a" fill-opacity="0.55"/>
<circle cx="400.93" cy="249.97" r="0.55" fill="#7a1a1a" fill-opacity="0.55"/>
<circle cx="404.12" cy="257.98" r="0.55" fill="#7a1a1a" fill-opacity="0.55"/>
<circle cx="418.47" cy="239.87" r="0.55" fill="#7a1a1a" fill-opacity="0.55"/>
<circle cx="411.97" cy="233.38" r="0.55" fill="#7a1a1a" fill-opacity="0.55"/>
<circle cx="402.98" cy="223.69" r="0.55" fill="#7a1a1a" fill-opacity="0.55"/>
<circle cx="411.42" cy="240.79" r="0.55" fill="#7a1a1a" fill-opacity="0.55"/>
<circle cx="402.28" cy="251.73" r="0.55" fill="#7a1a1a" fill-opacity="0.55"/>
<circle cx="407.23" cy="243.43" r="0.55" fill="#7a1a1a" fill-opacity="0.55"/>
<line x1="388.5" y1="184.3" x2="410" y2="184.3" stroke="#6a6262" stroke-width="0.9"/>
<text x="399.6" y="186.7" font-size="9.6" text-anchor="middle" fill="#111" stroke="#111" stroke-width="0.25">*</text>
<text x="388.5" y="171.5" font-size="9.2" font-weight="bold" text-anchor="middle" fill="#1a1515" stroke="#1a1515" stroke-width="0.34">Parietal cortex</text>
<text x="0" y="0" font-size="9.2" font-weight="bold" text-anchor="middle" fill="#1a1515" stroke="#1a1515" stroke-width="0.3" transform="translate(7.9 228) rotate(-90)">Thickness (mm)</text>
<text x="430.2" y="220" font-size="6.8" font-weight="bold" text-anchor="start" fill="#1a1515" stroke="#1a1515" stroke-width="0.34">Group</text>
<line x1="433.3" y1="223.1" x2="433.3" y2="228.7" stroke="#555" stroke-width="0.5"/>
<rect x="430.9" y="224" width="4.9" height="3.8" fill="#a8a8a8" stroke="#4a4a4a" stroke-width="0.4"/>
<line x1="430.9" y1="225.9" x2="435.8" y2="225.9" stroke="#333" stroke-width="0.6"/>
<text x="438.8" y="228.3" font-size="6.7" text-anchor="start" fill="#1a1515" stroke="#1a1515" stroke-width="0.14">NS−PASC</text>
<line x1="433.3" y1="230" x2="433.3" y2="235.1" stroke="#555" stroke-width="0.5"/>
<rect x="430.9" y="230.9" width="4.9" height="3.3" fill="#1e88f0" stroke="#4a4a4a" stroke-width="0.4"/>
<line x1="430.9" y1="232.55" x2="435.8" y2="232.55" stroke="#333" stroke-width="0.6"/>
<text x="438.8" y="235" font-size="6.7" text-anchor="start" fill="#1a1515" stroke="#1a1515" stroke-width="0.14">Other−PASC</text>
<line x1="433.3" y1="236.6" x2="433.3" y2="241.5" stroke="#555" stroke-width="0.5"/>
<rect x="430.9" y="237.5" width="4.9" height="3.1" fill="#cc0000" stroke="#4a4a4a" stroke-width="0.4"/>
<line x1="430.9" y1="239.05" x2="435.8" y2="239.05" stroke="#333" stroke-width="0.6"/>
<text x="438.8" y="241.5" font-size="6.7" text-anchor="start" fill="#1a1515" stroke="#1a1515" stroke-width="0.14">Cog−PASC</text>
<text x="535.1" y="171.3" font-size="9" font-weight="bold" text-anchor="start" fill="#1a1515" stroke="#1a1515" stroke-width="0.34">Cortical thickness</text>
<text x="495.8" y="194.3" font-size="9" font-weight="bold" text-anchor="start" fill="#1a1515" stroke="#1a1515" stroke-width="0.34">MoCA</text>
<rect x="535.1" y="180.1" width="24.1" height="24.6" fill="#fdb8a4"/>
<rect x="558.9" y="180.1" width="23.6" height="24.6" fill="#fca389"/>
<rect x="582.2" y="180.1" width="24.4" height="24.6" fill="#feece7"/>
<rect x="606.3" y="180.1" width="24.1" height="24.6" fill="#fddbd2"/>
<text x="569.55" y="195.7" font-size="9.5" text-anchor="middle" fill="#111" stroke="#111" stroke-width="0.3">*</text>
<text x="0" y="0" font-size="9.2" text-anchor="end" fill="#222" transform="translate(546 212.2) rotate(-45)">Frontal cortex</text>
<text x="0" y="0" font-size="9.2" text-anchor="end" fill="#222" transform="translate(569.55 212.2) rotate(-45)">Cingulate cortex</text>
<text x="0" y="0" font-size="9.2" text-anchor="end" fill="#222" transform="translate(593.25 212.2) rotate(-45)">Insular cortex</text>
<text x="0" y="0" font-size="9.2" text-anchor="end" fill="#222" transform="translate(617.2 212.2) rotate(-45)">Parietal cortex</text>
<text x="643.2" y="186.6" font-size="6.15" text-anchor="start" fill="#222">Standardized</text>
<text x="643.2" y="194.1" font-size="6.15" text-anchor="start" fill="#222">Beta coefficient</text>
<defs><linearGradient id="cb841" x1="0" y1="0" x2="0" y2="1"><stop offset="0" stop-color="#ee2010"/><stop offset="0.125" stop-color="#fb6a4c"/><stop offset="0.25" stop-color="#fd9e85"/><stop offset="0.375" stop-color="#fed0c2"/><stop offset="0.5" stop-color="#ffffff"/><stop offset="0.625" stop-color="#d7ddfb"/><stop offset="0.75" stop-color="#adbdf7"/><stop offset="0.875" stop-color="#7c9ef3"/><stop offset="1" stop-color="#3480f0"/></linearGradient></defs>
<rect x="643.2" y="197" width="9.9" height="49.7" fill="url(#cb841)"/>
<line x1="643.2" y1="197" x2="645.2" y2="197" stroke="#fff" stroke-width="0.4"/>
<line x1="651.1" y1="197" x2="653.1" y2="197" stroke="#fff" stroke-width="0.4"/>
<text x="655.8" y="199.1" font-size="5" text-anchor="start" fill="#222">0.50</text>
<line x1="643.2" y1="209.43" x2="645.2" y2="209.43" stroke="#fff" stroke-width="0.4"/>
<line x1="651.1" y1="209.43" x2="653.1" y2="209.43" stroke="#fff" stroke-width="0.4"/>
<text x="655.8" y="211.53" font-size="5" text-anchor="start" fill="#222">0.25</text>
<line x1="643.2" y1="221.85" x2="645.2" y2="221.85" stroke="#fff" stroke-width="0.4"/>
<line x1="651.1" y1="221.85" x2="653.1" y2="221.85" stroke="#fff" stroke-width="0.4"/>
<text x="655.8" y="223.95" font-size="5" text-anchor="start" fill="#222">0.00</text>
<line x1="643.2" y1="234.27" x2="645.2" y2="234.27" stroke="#fff" stroke-width="0.4"/>
<line x1="651.1" y1="234.27" x2="653.1" y2="234.27" stroke="#fff" stroke-width="0.4"/>
<text x="655.8" y="236.37" font-size="5" text-anchor="start" fill="#222">−0.25</text>
<line x1="643.2" y1="246.7" x2="645.2" y2="246.7" stroke="#fff" stroke-width="0.4"/>
<line x1="651.1" y1="246.7" x2="653.1" y2="246.7" stroke="#fff" stroke-width="0.4"/>
<text x="655.8" y="248.8" font-size="5" text-anchor="start" fill="#222">−0.50</text>
<rect x="34.2" y="335.2" width="70" height="105.7" fill="#f4f4f4"/>
<line x1="34.2" y1="356.95" x2="104.2" y2="356.95" stroke="#fcfcfc" stroke-width="0.35"/>
<line x1="34.2" y1="385.05" x2="104.2" y2="385.05" stroke="#fcfcfc" stroke-width="0.35"/>
<line x1="34.2" y1="413.15" x2="104.2" y2="413.15" stroke="#fcfcfc" stroke-width="0.35"/>
<line x1="34.2" y1="342.9" x2="104.2" y2="342.9" stroke="#fcfcfc" stroke-width="0.7"/>
<line x1="32.6" y1="342.9" x2="34.2" y2="342.9" stroke="#8a8a8a" stroke-width="0.5"/>
<text x="29.9" y="345.45" font-size="6.5" text-anchor="end" fill="#1e1e1e" stroke="#1e1e1e" stroke-width="0.14">0.040</text>
<line x1="34.2" y1="371" x2="104.2" y2="371" stroke="#fcfcfc" stroke-width="0.7"/>
<line x1="32.6" y1="371" x2="34.2" y2="371" stroke="#8a8a8a" stroke-width="0.5"/>
<text x="29.9" y="373.55" font-size="6.5" text-anchor="end" fill="#1e1e1e" stroke="#1e1e1e" stroke-width="0.14">0.035</text>
<line x1="34.2" y1="399.1" x2="104.2" y2="399.1" stroke="#fcfcfc" stroke-width="0.7"/>
<line x1="32.6" y1="399.1" x2="34.2" y2="399.1" stroke="#8a8a8a" stroke-width="0.5"/>
<text x="29.9" y="401.65" font-size="6.5" text-anchor="end" fill="#1e1e1e" stroke="#1e1e1e" stroke-width="0.14">0.030</text>
<line x1="34.2" y1="427.2" x2="104.2" y2="427.2" stroke="#fcfcfc" stroke-width="0.7"/>
<line x1="32.6" y1="427.2" x2="34.2" y2="427.2" stroke="#8a8a8a" stroke-width="0.5"/>
<text x="29.9" y="429.75" font-size="6.5" text-anchor="end" fill="#1e1e1e" stroke="#1e1e1e" stroke-width="0.14">0.025</text>
<line x1="47.4" y1="335.2" x2="47.4" y2="440.9" stroke="#fcfcfc" stroke-width="0.7"/>
<line x1="69.1" y1="335.2" x2="69.1" y2="440.9" stroke="#fcfcfc" stroke-width="0.7"/>
<line x1="90.5" y1="335.2" x2="90.5" y2="440.9" stroke="#fcfcfc" stroke-width="0.7"/>
<line x1="47.5" y1="356.9" x2="47.5" y2="388.2" stroke="#7a7a7a" stroke-width="0.75"/>
<line x1="47.5" y1="411.7" x2="47.5" y2="436.5" stroke="#7a7a7a" stroke-width="0.75"/>
<rect x="39.3" y="388.2" width="16.4" height="23.5" fill="#bebebe" stroke="#505050" stroke-width="0.65"/>
<line x1="39.3" y1="403.1" x2="55.7" y2="403.1" stroke="#3c3c3c" stroke-width="1.0"/>
<line x1="69.5" y1="386.4" x2="69.5" y2="399.8" stroke="#7a7a7a" stroke-width="0.75"/>
<line x1="69.5" y1="419.5" x2="69.5" y2="431.4" stroke="#7a7a7a" stroke-width="0.75"/>
<rect x="61" y="399.8" width="16.4" height="19.7" fill="#1e90ff" stroke="#505050" stroke-width="0.65"/>
<line x1="61" y1="413.2" x2="77.4" y2="413.2" stroke="#3c3c3c" stroke-width="1.0"/>
<line x1="90.5" y1="387.9" x2="90.5" y2="402.2" stroke="#7a7a7a" stroke-width="0.75"/>
<line x1="90.5" y1="424.5" x2="90.5" y2="435" stroke="#7a7a7a" stroke-width="0.75"/>
<rect x="82.5" y="402.2" width="16.4" height="22.3" fill="#ee0000" stroke="#505050" stroke-width="0.65"/>
<line x1="82.5" y1="408.5" x2="98.9" y2="408.5" stroke="#3c3c3c" stroke-width="1.0"/>
<circle cx="53.72" cy="402.23" r="0.55" fill="#444444" fill-opacity="0.55"/>
<circle cx="43.99" cy="388.68" r="0.55" fill="#444444" fill-opacity="0.55"/>
<circle cx="37.14" cy="428.77" r="0.55" fill="#444444" fill-opacity="0.55"/>
<circle cx="47.1" cy="377.72" r="0.55" fill="#444444" fill-opacity="0.55"/>
<circle cx="53.54" cy="410.44" r="0.55" fill="#444444" fill-opacity="0.55"/>
<circle cx="53.28" cy="433.59" r="0.55" fill="#444444" fill-opacity="0.55"/>
<circle cx="41.99" cy="392.92" r="0.55" fill="#444444" fill-opacity="0.55"/>
<circle cx="40.38" cy="389.4" r="0.55" fill="#444444" fill-opacity="0.55"/>
<circle cx="48.66" cy="393.38" r="0.55" fill="#444444" fill-opacity="0.55"/>
<circle cx="57.24" cy="362.01" r="0.55" fill="#444444" fill-opacity="0.55"/>
<circle cx="49.56" cy="391.02" r="0.55" fill="#444444" fill-opacity="0.55"/>
<circle cx="57.5" cy="401.47" r="0.55" fill="#444444" fill-opacity="0.55"/>
<circle cx="50.49" cy="411.57" r="0.55" fill="#444444" fill-opacity="0.55"/>
<circle cx="45.05" cy="391.95" r="0.55" fill="#444444" fill-opacity="0.55"/>
<circle cx="57.65" cy="372.32" r="0.55" fill="#444444" fill-opacity="0.55"/>
<circle cx="37.25" cy="396.47" r="0.55" fill="#444444" fill-opacity="0.55"/>
<circle cx="56.26" cy="423.54" r="0.55" fill="#444444" fill-opacity="0.55"/>
<circle cx="37.43" cy="413.38" r="0.55" fill="#444444" fill-opacity="0.55"/>
<circle cx="50.63" cy="357.79" r="0.55" fill="#444444" fill-opacity="0.55"/>
<circle cx="39.59" cy="431.67" r="0.55" fill="#444444" fill-opacity="0.55"/>
<circle cx="51.29" cy="402.1" r="0.55" fill="#444444" fill-opacity="0.55"/>
<circle cx="53.07" cy="395.81" r="0.55" fill="#444444" fill-opacity="0.55"/>
<circle cx="42.05" cy="399.51" r="0.55" fill="#444444" fill-opacity="0.55"/>
<circle cx="40.11" cy="391.56" r="0.55" fill="#444444" fill-opacity="0.55"/>
<circle cx="51.31" cy="405.05" r="0.55" fill="#444444" fill-opacity="0.55"/>
<circle cx="40.69" cy="410" r="0.55" fill="#444444" fill-opacity="0.55"/>
<circle cx="41.25" cy="428.83" r="0.55" fill="#444444" fill-opacity="0.55"/>
<circle cx="55.95" cy="398.71" r="0.55" fill="#444444" fill-opacity="0.55"/>
<circle cx="38.53" cy="423.94" r="0.55" fill="#444444" fill-opacity="0.55"/>
<circle cx="50.22" cy="396.18" r="0.55" fill="#444444" fill-opacity="0.55"/>
<circle cx="54.51" cy="402.96" r="0.55" fill="#444444" fill-opacity="0.55"/>
<circle cx="39.54" cy="389.53" r="0.55" fill="#444444" fill-opacity="0.55"/>
<circle cx="73.8" cy="392.91" r="0.55" fill="#263f6a" fill-opacity="0.55"/>
<circle cx="77.26" cy="407.91" r="0.55" fill="#263f6a" fill-opacity="0.55"/>
<circle cx="61.53" cy="416.34" r="0.55" fill="#263f6a" fill-opacity="0.55"/>
<circle cx="65.46" cy="409.47" r="0.55" fill="#263f6a" fill-opacity="0.55"/>
<circle cx="65.1" cy="391.54" r="0.55" fill="#263f6a" fill-opacity="0.55"/>
<circle cx="79.63" cy="417.43" r="0.55" fill="#263f6a" fill-opacity="0.55"/>
<circle cx="72.8" cy="409.21" r="0.55" fill="#263f6a" fill-opacity="0.55"/>
<circle cx="64.4" cy="403.77" r="0.55" fill="#263f6a" fill-opacity="0.55"/>
<circle cx="66.11" cy="435.3" r="0.55" fill="#263f6a" fill-opacity="0.55"/>
<circle cx="78.45" cy="405.5" r="0.55" fill="#263f6a" fill-opacity="0.55"/>
<circle cx="77.82" cy="414.11" r="0.55" fill="#263f6a" fill-opacity="0.55"/>
<circle cx="64.56" cy="383.25" r="0.55" fill="#263f6a" fill-opacity="0.55"/>
<circle cx="75.85" cy="402.56" r="0.55" fill="#263f6a" fill-opacity="0.55"/>
<circle cx="58.14" cy="410.1" r="0.55" fill="#263f6a" fill-opacity="0.55"/>
<circle cx="62.19" cy="417.77" r="0.55" fill="#263f6a" fill-opacity="0.55"/>
<circle cx="62.9" cy="392.61" r="0.55" fill="#263f6a" fill-opacity="0.55"/>
<circle cx="62.06" cy="418.42" r="0.55" fill="#263f6a" fill-opacity="0.55"/>
<circle cx="62.43" cy="401.52" r="0.55" fill="#263f6a" fill-opacity="0.55"/>
<circle cx="71.49" cy="405.2" r="0.55" fill="#263f6a" fill-opacity="0.55"/>
<circle cx="62.63" cy="418.25" r="0.55" fill="#263f6a" fill-opacity="0.55"/>
<circle cx="75.95" cy="395.5" r="0.55" fill="#263f6a" fill-opacity="0.55"/>
<circle cx="59.55" cy="404.77" r="0.55" fill="#263f6a" fill-opacity="0.55"/>
<circle cx="73.98" cy="415.77" r="0.55" fill="#263f6a" fill-opacity="0.55"/>
<circle cx="65.47" cy="425.3" r="0.55" fill="#263f6a" fill-opacity="0.55"/>
<circle cx="68.95" cy="417.73" r="0.55" fill="#263f6a" fill-opacity="0.55"/>
<circle cx="68.59" cy="398.38" r="0.55" fill="#263f6a" fill-opacity="0.55"/>
<circle cx="62.19" cy="402.92" r="0.55" fill="#263f6a" fill-opacity="0.55"/>
<circle cx="61.7" cy="411.52" r="0.55" fill="#263f6a" fill-opacity="0.55"/>
<circle cx="58.2" cy="408.58" r="0.55" fill="#263f6a" fill-opacity="0.55"/>
<circle cx="69.44" cy="413.88" r="0.55" fill="#263f6a" fill-opacity="0.55"/>
<circle cx="76.06" cy="400.84" r="0.55" fill="#263f6a" fill-opacity="0.55"/>
<circle cx="73.75" cy="414.6" r="0.55" fill="#263f6a" fill-opacity="0.55"/>
<circle cx="80.85" cy="432.84" r="0.55" fill="#7a1a1a" fill-opacity="0.55"/>
<circle cx="90.39" cy="414.03" r="0.55" fill="#7a1a1a" fill-opacity="0.55"/>
<circle cx="91.32" cy="423.77" r="0.55" fill="#7a1a1a" fill-opacity="0.55"/>
<circle cx="84.42" cy="404.49" r="0.55" fill="#7a1a1a" fill-opacity="0.55"/>
<circle cx="85.01" cy="389.32" r="0.55" fill="#7a1a1a" fill-opacity="0.55"/>
<circle cx="81.62" cy="397.09" r="0.55" fill="#7a1a1a" fill-opacity="0.55"/>
<circle cx="79.89" cy="415.05" r="0.55" fill="#7a1a1a" fill-opacity="0.55"/>
<circle cx="91" cy="392.74" r="0.55" fill="#7a1a1a" fill-opacity="0.55"/>
<circle cx="98.63" cy="390.03" r="0.55" fill="#7a1a1a" fill-opacity="0.55"/>
<circle cx="82.21" cy="413.37" r="0.55" fill="#7a1a1a" fill-opacity="0.55"/>
<circle cx="85.65" cy="411.25" r="0.55" fill="#7a1a1a" fill-opacity="0.55"/>
<circle cx="82.51" cy="428.46" r="0.55" fill="#7a1a1a" fill-opacity="0.55"/>
<circle cx="82.74" cy="423.06" r="0.55" fill="#7a1a1a" fill-opacity="0.55"/>
<circle cx="83.12" cy="432.06" r="0.55" fill="#7a1a1a" fill-opacity="0.55"/>
<circle cx="88.05" cy="420.93" r="0.55" fill="#7a1a1a" fill-opacity="0.55"/>
<circle cx="91.06" cy="423.19" r="0.55" fill="#7a1a1a" fill-opacity="0.55"/>
<circle cx="96.59" cy="407.56" r="0.55" fill="#7a1a1a" fill-opacity="0.55"/>
<circle cx="86.87" cy="424.08" r="0.55" fill="#7a1a1a" fill-opacity="0.55"/>
<circle cx="97.2" cy="426.29" r="0.55" fill="#7a1a1a" fill-opacity="0.55"/>
<circle cx="98.15" cy="413.74" r="0.55" fill="#7a1a1a" fill-opacity="0.55"/>
<circle cx="100.57" cy="397.64" r="0.55" fill="#7a1a1a" fill-opacity="0.55"/>
<circle cx="88.79" cy="405.06" r="0.55" fill="#7a1a1a" fill-opacity="0.55"/>
<circle cx="91.18" cy="411.86" r="0.55" fill="#7a1a1a" fill-opacity="0.55"/>
<circle cx="90.61" cy="405.31" r="0.55" fill="#7a1a1a" fill-opacity="0.55"/>
<circle cx="100.83" cy="432.03" r="0.55" fill="#7a1a1a" fill-opacity="0.55"/>
<circle cx="93.43" cy="429.55" r="0.55" fill="#7a1a1a" fill-opacity="0.55"/>
<circle cx="98.96" cy="416.51" r="0.55" fill="#7a1a1a" fill-opacity="0.55"/>
<circle cx="85.35" cy="400.78" r="0.55" fill="#7a1a1a" fill-opacity="0.55"/>
<circle cx="91.43" cy="417.16" r="0.55" fill="#7a1a1a" fill-opacity="0.55"/>
<circle cx="85.01" cy="411.87" r="0.55" fill="#7a1a1a" fill-opacity="0.55"/>
<circle cx="100.42" cy="409.01" r="0.55" fill="#7a1a1a" fill-opacity="0.55"/>
<circle cx="93.75" cy="415.45" r="0.55" fill="#7a1a1a" fill-opacity="0.55"/>
<line x1="69.1" y1="339.1" x2="89.9" y2="339.1" stroke="#c2bebe" stroke-width="0.9"/>
<text x="79.1" y="341.5" font-size="9.6" text-anchor="middle" fill="#111" stroke="#111" stroke-width="0.25">**</text>
<text x="68.5" y="325.2" font-size="9.2" font-weight="bold" text-anchor="middle" fill="#1a1515" stroke="#1a1515" stroke-width="0.34">Occipital cortex</text>
<rect x="141" y="334.9" width="69" height="105.1" fill="#f4f4f4"/>
<line x1="141" y1="355.7" x2="210" y2="355.7" stroke="#fcfcfc" stroke-width="0.35"/>
<line x1="141" y1="378.3" x2="210" y2="378.3" stroke="#fcfcfc" stroke-width="0.35"/>
<line x1="141" y1="400.9" x2="210" y2="400.9" stroke="#fcfcfc" stroke-width="0.35"/>
<line x1="141" y1="423.7" x2="210" y2="423.7" stroke="#fcfcfc" stroke-width="0.35"/>
<line x1="141" y1="344.4" x2="210" y2="344.4" stroke="#fcfcfc" stroke-width="0.7"/>
<line x1="139.4" y1="344.4" x2="141" y2="344.4" stroke="#8a8a8a" stroke-width="0.5"/>
<text x="136.3" y="346.95" font-size="6.5" text-anchor="end" fill="#1e1e1e" stroke="#1e1e1e" stroke-width="0.14">0.07</text>
<line x1="141" y1="367" x2="210" y2="367" stroke="#fcfcfc" stroke-width="0.7"/>
<line x1="139.4" y1="367" x2="141" y2="367" stroke="#8a8a8a" stroke-width="0.5"/>
<text x="136.3" y="369.55" font-size="6.5" text-anchor="end" fill="#1e1e1e" stroke="#1e1e1e" stroke-width="0.14">0.06</text>
<line x1="141" y1="389.6" x2="210" y2="389.6" stroke="#fcfcfc" stroke-width="0.7"/>
<line x1="139.4" y1="389.6" x2="141" y2="389.6" stroke="#8a8a8a" stroke-width="0.5"/>
<text x="136.3" y="392.15" font-size="6.5" text-anchor="end" fill="#1e1e1e" stroke="#1e1e1e" stroke-width="0.14">0.05</text>
<line x1="141" y1="412.4" x2="210" y2="412.4" stroke="#fcfcfc" stroke-width="0.7"/>
<line x1="139.4" y1="412.4" x2="141" y2="412.4" stroke="#8a8a8a" stroke-width="0.5"/>
<text x="136.3" y="414.95" font-size="6.5" text-anchor="end" fill="#1e1e1e" stroke="#1e1e1e" stroke-width="0.14">0.04</text>
<line x1="141" y1="434.5" x2="210" y2="434.5" stroke="#fcfcfc" stroke-width="0.7"/>
<line x1="139.4" y1="434.5" x2="141" y2="434.5" stroke="#8a8a8a" stroke-width="0.5"/>
<text x="136.3" y="437.05" font-size="6.5" text-anchor="end" fill="#1e1e1e" stroke="#1e1e1e" stroke-width="0.14">0.03</text>
<line x1="154.2" y1="334.9" x2="154.2" y2="440" stroke="#fcfcfc" stroke-width="0.7"/>
<line x1="175.7" y1="334.9" x2="175.7" y2="440" stroke="#fcfcfc" stroke-width="0.7"/>
<line x1="197.4" y1="334.9" x2="197.4" y2="440" stroke="#fcfcfc" stroke-width="0.7"/>
<line x1="154.5" y1="340" x2="154.5" y2="380.3" stroke="#7a7a7a" stroke-width="0.75"/>
<line x1="154.5" y1="410.6" x2="154.5" y2="436" stroke="#7a7a7a" stroke-width="0.75"/>
<rect x="145.8" y="380.3" width="16.6" height="30.3" fill="#bebebe" stroke="#505050" stroke-width="0.65"/>
<line x1="145.8" y1="393.6" x2="162.4" y2="393.6" stroke="#3c3c3c" stroke-width="1.0"/>
<line x1="175.5" y1="363.2" x2="175.5" y2="389.1" stroke="#7a7a7a" stroke-width="0.75"/>
<line x1="175.5" y1="408.4" x2="175.5" y2="430.5" stroke="#7a7a7a" stroke-width="0.75"/>
<rect x="167.5" y="389.1" width="16.6" height="19.3" fill="#1e90ff" stroke="#505050" stroke-width="0.65"/>
<line x1="167.5" y1="396.4" x2="184.1" y2="396.4" stroke="#3c3c3c" stroke-width="1.0"/>
<line x1="197.5" y1="365.4" x2="197.5" y2="398.4" stroke="#7a7a7a" stroke-width="0.75"/>
<line x1="197.5" y1="421.7" x2="197.5" y2="432.7" stroke="#7a7a7a" stroke-width="0.75"/>
<rect x="189.2" y="398.4" width="16.6" height="23.3" fill="#ee0000" stroke="#505050" stroke-width="0.65"/>
<line x1="189.2" y1="411.3" x2="205.8" y2="411.3" stroke="#3c3c3c" stroke-width="1.0"/>
<circle cx="164.23" cy="388.43" r="0.55" fill="#444444" fill-opacity="0.55"/>
<circle cx="153.46" cy="384.8" r="0.55" fill="#444444" fill-opacity="0.55"/>
<circle cx="145.93" cy="389.2" r="0.55" fill="#444444" fill-opacity="0.55"/>
<circle cx="152.14" cy="387.68" r="0.55" fill="#444444" fill-opacity="0.55"/>
<circle cx="145.13" cy="405.74" r="0.55" fill="#444444" fill-opacity="0.55"/>
<circle cx="156.62" cy="402.43" r="0.55" fill="#444444" fill-opacity="0.55"/>
<circle cx="147.63" cy="384.24" r="0.55" fill="#444444" fill-opacity="0.55"/>
<circle cx="155.26" cy="385.02" r="0.55" fill="#444444" fill-opacity="0.55"/>
<circle cx="150.03" cy="387.01" r="0.55" fill="#444444" fill-opacity="0.55"/>
<circle cx="154.47" cy="398.05" r="0.55" fill="#444444" fill-opacity="0.55"/>
<circle cx="143.46" cy="406.41" r="0.55" fill="#444444" fill-opacity="0.55"/>
<circle cx="148.45" cy="387.18" r="0.55" fill="#444444" fill-opacity="0.55"/>
<circle cx="149.47" cy="366.73" r="0.55" fill="#444444" fill-opacity="0.55"/>
<circle cx="160.19" cy="382.32" r="0.55" fill="#444444" fill-opacity="0.55"/>
<circle cx="162.37" cy="382.18" r="0.55" fill="#444444" fill-opacity="0.55"/>
<circle cx="151.73" cy="402.58" r="0.55" fill="#444444" fill-opacity="0.55"/>
<circle cx="145.6" cy="409.37" r="0.55" fill="#444444" fill-opacity="0.55"/>
<circle cx="159.45" cy="390.51" r="0.55" fill="#444444" fill-opacity="0.55"/>
<circle cx="150.95" cy="399.16" r="0.55" fill="#444444" fill-opacity="0.55"/>
<circle cx="161.9" cy="389.71" r="0.55" fill="#444444" fill-opacity="0.55"/>
<circle cx="159.45" cy="412.93" r="0.55" fill="#444444" fill-opacity="0.55"/>
<circle cx="153.66" cy="408.02" r="0.55" fill="#444444" fill-opacity="0.55"/>
<circle cx="163.32" cy="406.69" r="0.55" fill="#444444" fill-opacity="0.55"/>
<circle cx="143.3" cy="396.24" r="0.55" fill="#444444" fill-opacity="0.55"/>
<circle cx="154.15" cy="395.48" r="0.55" fill="#444444" fill-opacity="0.55"/>
<circle cx="152.39" cy="423.79" r="0.55" fill="#444444" fill-opacity="0.55"/>
<circle cx="156.56" cy="394" r="0.55" fill="#444444" fill-opacity="0.55"/>
<circle cx="153.27" cy="368.12" r="0.55" fill="#444444" fill-opacity="0.55"/>
<circle cx="151.8" cy="376.91" r="0.55" fill="#444444" fill-opacity="0.55"/>
<circle cx="150.28" cy="421.56" r="0.55" fill="#444444" fill-opacity="0.55"/>
<circle cx="154.19" cy="385.88" r="0.55" fill="#444444" fill-opacity="0.55"/>
<circle cx="149.89" cy="397.74" r="0.55" fill="#444444" fill-opacity="0.55"/>
<circle cx="177.49" cy="406.86" r="0.55" fill="#263f6a" fill-opacity="0.55"/>
<circle cx="171.83" cy="419.61" r="0.55" fill="#263f6a" fill-opacity="0.55"/>
<circle cx="185.79" cy="397.33" r="0.55" fill="#263f6a" fill-opacity="0.55"/>
<circle cx="184.73" cy="390.02" r="0.55" fill="#263f6a" fill-opacity="0.55"/>
<circle cx="177.13" cy="406.86" r="0.55" fill="#263f6a" fill-opacity="0.55"/>
<circle cx="181.72" cy="408.37" r="0.55" fill="#263f6a" fill-opacity="0.55"/>
<circle cx="176.08" cy="402.32" r="0.55" fill="#263f6a" fill-opacity="0.55"/>
<circle cx="173.27" cy="400.58" r="0.55" fill="#263f6a" fill-opacity="0.55"/>
<circle cx="172.42" cy="410.14" r="0.55" fill="#263f6a" fill-opacity="0.55"/>
<circle cx="176.26" cy="396.33" r="0.55" fill="#263f6a" fill-opacity="0.55"/>
<circle cx="173.52" cy="401.83" r="0.55" fill="#263f6a" fill-opacity="0.55"/>
<circle cx="184.06" cy="395.85" r="0.55" fill="#263f6a" fill-opacity="0.55"/>
<circle cx="174.38" cy="430.24" r="0.55" fill="#263f6a" fill-opacity="0.55"/>
<circle cx="172.25" cy="404.85" r="0.55" fill="#263f6a" fill-opacity="0.55"/>
<circle cx="168.46" cy="407.98" r="0.55" fill="#263f6a" fill-opacity="0.55"/>
<circle cx="182.87" cy="391.23" r="0.55" fill="#263f6a" fill-opacity="0.55"/>
<circle cx="184.38" cy="418.42" r="0.55" fill="#263f6a" fill-opacity="0.55"/>
<circle cx="186.49" cy="391.53" r="0.55" fill="#263f6a" fill-opacity="0.55"/>
<circle cx="168.14" cy="398.97" r="0.55" fill="#263f6a" fill-opacity="0.55"/>
<circle cx="175.81" cy="392.62" r="0.55" fill="#263f6a" fill-opacity="0.55"/>
<circle cx="178.56" cy="386.97" r="0.55" fill="#263f6a" fill-opacity="0.55"/>
<circle cx="186.56" cy="366.05" r="0.55" fill="#263f6a" fill-opacity="0.55"/>
<circle cx="173.75" cy="383.84" r="0.55" fill="#263f6a" fill-opacity="0.55"/>
<circle cx="179.9" cy="394.98" r="0.55" fill="#263f6a" fill-opacity="0.55"/>
<circle cx="183.23" cy="408.16" r="0.55" fill="#263f6a" fill-opacity="0.55"/>
<circle cx="169.03" cy="399.78" r="0.55" fill="#263f6a" fill-opacity="0.55"/>
<circle cx="170.55" cy="398.97" r="0.55" fill="#263f6a" fill-opacity="0.55"/>
<circle cx="186.64" cy="390.87" r="0.55" fill="#263f6a" fill-opacity="0.55"/>
<circle cx="167.37" cy="403.76" r="0.55" fill="#263f6a" fill-opacity="0.55"/>
<circle cx="167.05" cy="392.39" r="0.55" fill="#263f6a" fill-opacity="0.55"/>
<circle cx="176.19" cy="404.46" r="0.55" fill="#263f6a" fill-opacity="0.55"/>
<circle cx="182.45" cy="389.34" r="0.55" fill="#263f6a" fill-opacity="0.55"/>
<circle cx="203.35" cy="415.07" r="0.55" fill="#7a1a1a" fill-opacity="0.55"/>
<circle cx="194.18" cy="404.61" r="0.55" fill="#7a1a1a" fill-opacity="0.55"/>
<circle cx="188.59" cy="404.59" r="0.55" fill="#7a1a1a" fill-opacity="0.55"/>
<circle cx="194.08" cy="407.39" r="0.55" fill="#7a1a1a" fill-opacity="0.55"/>
<circle cx="187.6" cy="404.61" r="0.55" fill="#7a1a1a" fill-opacity="0.55"/>
<circle cx="207.51" cy="412.85" r="0.55" fill="#7a1a1a" fill-opacity="0.55"/>
<circle cx="191.89" cy="420.09" r="0.55" fill="#7a1a1a" fill-opacity="0.55"/>
<circle cx="205.2" cy="419.34" r="0.55" fill="#7a1a1a" fill-opacity="0.55"/>
<circle cx="204.35" cy="412.44" r="0.55" fill="#7a1a1a" fill-opacity="0.55"/>
<circle cx="207.52" cy="420.53" r="0.55" fill="#7a1a1a" fill-opacity="0.55"/>
<circle cx="191.74" cy="415.14" r="0.55" fill="#7a1a1a" fill-opacity="0.55"/>
<circle cx="191.27" cy="418.79" r="0.55" fill="#7a1a1a" fill-opacity="0.55"/>
<circle cx="197.06" cy="381.78" r="0.55" fill="#7a1a1a" fill-opacity="0.55"/>
<circle cx="190.22" cy="402.75" r="0.55" fill="#7a1a1a" fill-opacity="0.55"/>
<circle cx="207.77" cy="411.48" r="0.55" fill="#7a1a1a" fill-opacity="0.55"/>
<circle cx="188.93" cy="407.38" r="0.55" fill="#7a1a1a" fill-opacity="0.55"/>
<circle cx="195.27" cy="401.27" r="0.55" fill="#7a1a1a" fill-opacity="0.55"/>
<circle cx="204.57" cy="404.11" r="0.55" fill="#7a1a1a" fill-opacity="0.55"/>
<circle cx="190.61" cy="403.93" r="0.55" fill="#7a1a1a" fill-opacity="0.55"/>
<circle cx="187.17" cy="388.38" r="0.55" fill="#7a1a1a" fill-opacity="0.55"/>
<circle cx="189.83" cy="371.63" r="0.55" fill="#7a1a1a" fill-opacity="0.55"/>
<circle cx="192.33" cy="374" r="0.55" fill="#7a1a1a" fill-opacity="0.55"/>
<circle cx="196.15" cy="419.57" r="0.55" fill="#7a1a1a" fill-opacity="0.55"/>
<circle cx="189.9" cy="415.23" r="0.55" fill="#7a1a1a" fill-opacity="0.55"/>
<circle cx="194.69" cy="377.07" r="0.55" fill="#7a1a1a" fill-opacity="0.55"/>
<circle cx="207.32" cy="403.7" r="0.55" fill="#7a1a1a" fill-opacity="0.55"/>
<circle cx="196.36" cy="414.86" r="0.55" fill="#7a1a1a" fill-opacity="0.55"/>
<circle cx="192.14" cy="404.94" r="0.55" fill="#7a1a1a" fill-opacity="0.55"/>
<circle cx="194.5" cy="412.57" r="0.55" fill="#7a1a1a" fill-opacity="0.55"/>
<circle cx="191.08" cy="373.66" r="0.55" fill="#7a1a1a" fill-opacity="0.55"/>
<circle cx="197.69" cy="404.7" r="0.55" fill="#7a1a1a" fill-opacity="0.55"/>
<circle cx="203.38" cy="413.72" r="0.55" fill="#7a1a1a" fill-opacity="0.55"/>
<line x1="176" y1="339.1" x2="197.1" y2="339.1" stroke="#c2bebe" stroke-width="0.9"/>
<text x="187.6" y="341.5" font-size="9.6" text-anchor="middle" fill="#111" stroke="#111" stroke-width="0.25">**</text>
<text x="175" y="325.2" font-size="9.2" font-weight="bold" text-anchor="middle" fill="#1a1515" stroke="#1a1515" stroke-width="0.34">Caudate</text>
<rect x="246" y="334.9" width="69.6" height="104.7" fill="#f4f4f4"/>
<line x1="246" y1="349.35" x2="315.6" y2="349.35" stroke="#fcfcfc" stroke-width="0.35"/>
<line x1="246" y1="375.85" x2="315.6" y2="375.85" stroke="#fcfcfc" stroke-width="0.35"/>
<line x1="246" y1="402.35" x2="315.6" y2="402.35" stroke="#fcfcfc" stroke-width="0.35"/>
<line x1="246" y1="428.25" x2="315.6" y2="428.25" stroke="#fcfcfc" stroke-width="0.35"/>
<line x1="246" y1="362.6" x2="315.6" y2="362.6" stroke="#fcfcfc" stroke-width="0.7"/>
<line x1="244.4" y1="362.6" x2="246" y2="362.6" stroke="#8a8a8a" stroke-width="0.5"/>
<text x="241.3" y="365.15" font-size="6.5" text-anchor="end" fill="#1e1e1e" stroke="#1e1e1e" stroke-width="0.14">0.08</text>
<line x1="246" y1="389.1" x2="315.6" y2="389.1" stroke="#fcfcfc" stroke-width="0.7"/>
<line x1="244.4" y1="389.1" x2="246" y2="389.1" stroke="#8a8a8a" stroke-width="0.5"/>
<text x="241.3" y="391.65" font-size="6.5" text-anchor="end" fill="#1e1e1e" stroke="#1e1e1e" stroke-width="0.14">0.06</text>
<line x1="246" y1="415" x2="315.6" y2="415" stroke="#fcfcfc" stroke-width="0.7"/>
<line x1="244.4" y1="415" x2="246" y2="415" stroke="#8a8a8a" stroke-width="0.5"/>
<text x="241.3" y="417.55" font-size="6.5" text-anchor="end" fill="#1e1e1e" stroke="#1e1e1e" stroke-width="0.14">0.04</text>
<line x1="259.7" y1="334.9" x2="259.7" y2="439.6" stroke="#fcfcfc" stroke-width="0.7"/>
<line x1="280.9" y1="334.9" x2="280.9" y2="439.6" stroke="#fcfcfc" stroke-width="0.7"/>
<line x1="302.4" y1="334.9" x2="302.4" y2="439.6" stroke="#fcfcfc" stroke-width="0.7"/>
<line x1="259.5" y1="351" x2="259.5" y2="365.2" stroke="#7a7a7a" stroke-width="0.75"/>
<line x1="259.5" y1="413.5" x2="259.5" y2="425.7" stroke="#7a7a7a" stroke-width="0.75"/>
<rect x="251.5" y="365.2" width="16.2" height="48.3" fill="#bebebe" stroke="#505050" stroke-width="0.65"/>
<line x1="251.5" y1="385.1" x2="267.7" y2="385.1" stroke="#3c3c3c" stroke-width="1.0"/>
<line x1="280.5" y1="365.2" x2="280.5" y2="382.5" stroke="#7a7a7a" stroke-width="0.75"/>
<line x1="280.5" y1="409.5" x2="280.5" y2="429" stroke="#7a7a7a" stroke-width="0.75"/>
<rect x="273" y="382.5" width="16.1" height="27" fill="#1e90ff" stroke="#505050" stroke-width="0.65"/>
<line x1="273" y1="391.3" x2="289.1" y2="391.3" stroke="#3c3c3c" stroke-width="1.0"/>
<line x1="302.5" y1="369.2" x2="302.5" y2="395.8" stroke="#7a7a7a" stroke-width="0.75"/>
<line x1="302.5" y1="418.6" x2="302.5" y2="435.2" stroke="#7a7a7a" stroke-width="0.75"/>
<rect x="294.7" y="395.8" width="15.9" height="22.8" fill="#ee0000" stroke="#505050" stroke-width="0.65"/>
<line x1="294.7" y1="406.8" x2="310.6" y2="406.8" stroke="#3c3c3c" stroke-width="1.0"/>
<circle cx="261.19" cy="384.03" r="0.55" fill="#444444" fill-opacity="0.55"/>
<circle cx="250.59" cy="406.3" r="0.55" fill="#444444" fill-opacity="0.55"/>
<circle cx="255.76" cy="359.14" r="0.55" fill="#444444" fill-opacity="0.55"/>
<circle cx="261.06" cy="389.37" r="0.55" fill="#444444" fill-opacity="0.55"/>
<circle cx="255.23" cy="380.23" r="0.55" fill="#444444" fill-opacity="0.55"/>
<circle cx="253.68" cy="399.82" r="0.55" fill="#444444" fill-opacity="0.55"/>
<circle cx="254.91" cy="409.1" r="0.55" fill="#444444" fill-opacity="0.55"/>
<circle cx="265.75" cy="415.34" r="0.55" fill="#444444" fill-opacity="0.55"/>
<circle cx="251.61" cy="366.63" r="0.55" fill="#444444" fill-opacity="0.55"/>
<circle cx="263.65" cy="377.25" r="0.55" fill="#444444" fill-opacity="0.55"/>
<circle cx="257.78" cy="403.23" r="0.55" fill="#444444" fill-opacity="0.55"/>
<circle cx="254.17" cy="377.3" r="0.55" fill="#444444" fill-opacity="0.55"/>
<circle cx="262.53" cy="370.77" r="0.55" fill="#444444" fill-opacity="0.55"/>
<circle cx="268.78" cy="404.23" r="0.55" fill="#444444" fill-opacity="0.55"/>
<circle cx="249.59" cy="373.03" r="0.55" fill="#444444" fill-opacity="0.55"/>
<circle cx="253.06" cy="383.59" r="0.55" fill="#444444" fill-opacity="0.55"/>
<circle cx="249.56" cy="396.03" r="0.55" fill="#444444" fill-opacity="0.55"/>
<circle cx="252.65" cy="393.59" r="0.55" fill="#444444" fill-opacity="0.55"/>
<circle cx="264.47" cy="386.21" r="0.55" fill="#444444" fill-opacity="0.55"/>
<circle cx="263.76" cy="365.25" r="0.55" fill="#444444" fill-opacity="0.55"/>
<circle cx="267.05" cy="372.39" r="0.55" fill="#444444" fill-opacity="0.55"/>
<circle cx="249.65" cy="396.37" r="0.55" fill="#444444" fill-opacity="0.55"/>
<circle cx="249.74" cy="370.57" r="0.55" fill="#444444" fill-opacity="0.55"/>
<circle cx="266.11" cy="409.37" r="0.55" fill="#444444" fill-opacity="0.55"/>
<circle cx="265.19" cy="398.75" r="0.55" fill="#444444" fill-opacity="0.55"/>
<circle cx="257.36" cy="412.91" r="0.55" fill="#444444" fill-opacity="0.55"/>
<circle cx="254.89" cy="410.91" r="0.55" fill="#444444" fill-opacity="0.55"/>
<circle cx="258.03" cy="404.2" r="0.55" fill="#444444" fill-opacity="0.55"/>
<circle cx="264.95" cy="397.92" r="0.55" fill="#444444" fill-opacity="0.55"/>
<circle cx="258.66" cy="398.93" r="0.55" fill="#444444" fill-opacity="0.55"/>
<circle cx="258.12" cy="410.03" r="0.55" fill="#444444" fill-opacity="0.55"/>
<circle cx="251.51" cy="354.26" r="0.55" fill="#444444" fill-opacity="0.55"/>
<circle cx="285.36" cy="381.86" r="0.55" fill="#263f6a" fill-opacity="0.55"/>
<circle cx="281.92" cy="406.97" r="0.55" fill="#263f6a" fill-opacity="0.55"/>
<circle cx="281.87" cy="384.1" r="0.55" fill="#263f6a" fill-opacity="0.55"/>
<circle cx="277.77" cy="387.94" r="0.55" fill="#263f6a" fill-opacity="0.55"/>
<circle cx="276.73" cy="401.59" r="0.55" fill="#263f6a" fill-opacity="0.55"/>
<circle cx="284.65" cy="389.03" r="0.55" fill="#263f6a" fill-opacity="0.55"/>
<circle cx="281.24" cy="407.77" r="0.55" fill="#263f6a" fill-opacity="0.55"/>
<circle cx="277.63" cy="406.39" r="0.55" fill="#263f6a" fill-opacity="0.55"/>
<circle cx="273.02" cy="386.48" r="0.55" fill="#263f6a" fill-opacity="0.55"/>
<circle cx="287.84" cy="403.03" r="0.55" fill="#263f6a" fill-opacity="0.55"/>
<circle cx="273.62" cy="403.4" r="0.55" fill="#263f6a" fill-opacity="0.55"/>
<circle cx="280.05" cy="418.23" r="0.55" fill="#263f6a" fill-opacity="0.55"/>
<circle cx="272.42" cy="392.23" r="0.55" fill="#263f6a" fill-opacity="0.55"/>
<circle cx="274.44" cy="390.08" r="0.55" fill="#263f6a" fill-opacity="0.55"/>
<circle cx="274.24" cy="393.78" r="0.55" fill="#263f6a" fill-opacity="0.55"/>
<circle cx="272.39" cy="395.15" r="0.55" fill="#263f6a" fill-opacity="0.55"/>
<circle cx="277.89" cy="384.44" r="0.55" fill="#263f6a" fill-opacity="0.55"/>
<circle cx="270.14" cy="415.08" r="0.55" fill="#263f6a" fill-opacity="0.55"/>
<circle cx="271.75" cy="427.74" r="0.55" fill="#263f6a" fill-opacity="0.55"/>
<circle cx="282.3" cy="395.7" r="0.55" fill="#263f6a" fill-opacity="0.55"/>
<circle cx="279.45" cy="397.16" r="0.55" fill="#263f6a" fill-opacity="0.55"/>
<circle cx="270.08" cy="406.32" r="0.55" fill="#263f6a" fill-opacity="0.55"/>
<circle cx="283.71" cy="408.06" r="0.55" fill="#263f6a" fill-opacity="0.55"/>
<circle cx="275.43" cy="386.24" r="0.55" fill="#263f6a" fill-opacity="0.55"/>
<circle cx="270.51" cy="418.77" r="0.55" fill="#263f6a" fill-opacity="0.55"/>
<circle cx="276.42" cy="399.73" r="0.55" fill="#263f6a" fill-opacity="0.55"/>
<circle cx="288.51" cy="375.95" r="0.55" fill="#263f6a" fill-opacity="0.55"/>
<circle cx="287.16" cy="412.56" r="0.55" fill="#263f6a" fill-opacity="0.55"/>
<circle cx="277.09" cy="404.78" r="0.55" fill="#263f6a" fill-opacity="0.55"/>
<circle cx="276.94" cy="397.38" r="0.55" fill="#263f6a" fill-opacity="0.55"/>
<circle cx="278.02" cy="380.47" r="0.55" fill="#263f6a" fill-opacity="0.55"/>
<circle cx="270.81" cy="405.28" r="0.55" fill="#263f6a" fill-opacity="0.55"/>
<circle cx="309.43" cy="428.94" r="0.55" fill="#7a1a1a" fill-opacity="0.55"/>
<circle cx="312.19" cy="407.19" r="0.55" fill="#7a1a1a" fill-opacity="0.55"/>
<circle cx="294.86" cy="409.05" r="0.55" fill="#7a1a1a" fill-opacity="0.55"/>
<circle cx="293.17" cy="380" r="0.55" fill="#7a1a1a" fill-opacity="0.55"/>
<circle cx="301.15" cy="371.83" r="0.55" fill="#7a1a1a" fill-opacity="0.55"/>
<circle cx="292.28" cy="400.15" r="0.55" fill="#7a1a1a" fill-opacity="0.55"/>
<circle cx="307.3" cy="414.97" r="0.55" fill="#7a1a1a" fill-opacity="0.55"/>
<circle cx="310.22" cy="397.28" r="0.55" fill="#7a1a1a" fill-opacity="0.55"/>
<circle cx="297.63" cy="403.17" r="0.55" fill="#7a1a1a" fill-opacity="0.55"/>
<circle cx="300.67" cy="405.8" r="0.55" fill="#7a1a1a" fill-opacity="0.55"/>
<circle cx="306.05" cy="428.86" r="0.55" fill="#7a1a1a" fill-opacity="0.55"/>
<circle cx="295.02" cy="405.9" r="0.55" fill="#7a1a1a" fill-opacity="0.55"/>
<circle cx="303.79" cy="400.26" r="0.55" fill="#7a1a1a" fill-opacity="0.55"/>
<circle cx="293.27" cy="406.3" r="0.55" fill="#7a1a1a" fill-opacity="0.55"/>
<circle cx="312.77" cy="426.32" r="0.55" fill="#7a1a1a" fill-opacity="0.55"/>
<circle cx="312.84" cy="411.07" r="0.55" fill="#7a1a1a" fill-opacity="0.55"/>
<circle cx="309.25" cy="411.22" r="0.55" fill="#7a1a1a" fill-opacity="0.55"/>
<circle cx="304.8" cy="408.82" r="0.55" fill="#7a1a1a" fill-opacity="0.55"/>
<circle cx="312.36" cy="410.56" r="0.55" fill="#7a1a1a" fill-opacity="0.55"/>
<circle cx="297.98" cy="415.98" r="0.55" fill="#7a1a1a" fill-opacity="0.55"/>
<circle cx="292.01" cy="411.27" r="0.55" fill="#7a1a1a" fill-opacity="0.55"/>
<circle cx="301.24" cy="410.86" r="0.55" fill="#7a1a1a" fill-opacity="0.55"/>
<circle cx="299.58" cy="396.68" r="0.55" fill="#7a1a1a" fill-opacity="0.55"/>
<circle cx="303.06" cy="395.36" r="0.55" fill="#7a1a1a" fill-opacity="0.55"/>
<circle cx="293.91" cy="416.09" r="0.55" fill="#7a1a1a" fill-opacity="0.55"/>
<circle cx="303.46" cy="415.46" r="0.55" fill="#7a1a1a" fill-opacity="0.55"/>
<circle cx="296.98" cy="407.9" r="0.55" fill="#7a1a1a" fill-opacity="0.55"/>
<circle cx="296.93" cy="408.43" r="0.55" fill="#7a1a1a" fill-opacity="0.55"/>
<circle cx="296.38" cy="376.66" r="0.55" fill="#7a1a1a" fill-opacity="0.55"/>
<circle cx="302.69" cy="374.5" r="0.55" fill="#7a1a1a" fill-opacity="0.55"/>
<circle cx="300.38" cy="405.82" r="0.55" fill="#7a1a1a" fill-opacity="0.55"/>
<circle cx="310.4" cy="416.36" r="0.55" fill="#7a1a1a" fill-opacity="0.55"/>
<line x1="261" y1="339" x2="281.9" y2="339" stroke="#c2bebe" stroke-width="0.9"/>
<text x="271.5" y="341.4" font-size="9.6" text-anchor="middle" fill="#111" stroke="#111" stroke-width="0.25">*</text>
<line x1="282.3" y1="342.4" x2="304" y2="342.4" stroke="#6a6262" stroke-width="0.9"/>
<text x="293.4" y="344.8" font-size="9.6" text-anchor="middle" fill="#111" stroke="#111" stroke-width="0.25">**</text>
<text x="282" y="325.2" font-size="9.2" font-weight="bold" text-anchor="middle" fill="#1a1515" stroke="#1a1515" stroke-width="0.34">Putamen</text>
<rect x="352.5" y="334.9" width="68.3" height="102.9" fill="#f4f4f4"/>
<line x1="352.5" y1="354.25" x2="420.8" y2="354.25" stroke="#fcfcfc" stroke-width="0.35"/>
<line x1="352.5" y1="376.75" x2="420.8" y2="376.75" stroke="#fcfcfc" stroke-width="0.35"/>
<line x1="352.5" y1="399.55" x2="420.8" y2="399.55" stroke="#fcfcfc" stroke-width="0.35"/>
<line x1="352.5" y1="422.15" x2="420.8" y2="422.15" stroke="#fcfcfc" stroke-width="0.35"/>
<line x1="352.5" y1="343" x2="420.8" y2="343" stroke="#fcfcfc" stroke-width="0.7"/>
<line x1="350.9" y1="343" x2="352.5" y2="343" stroke="#8a8a8a" stroke-width="0.5"/>
<text x="346.3" y="345.55" font-size="6.5" text-anchor="end" fill="#1e1e1e" stroke="#1e1e1e" stroke-width="0.14">0.0275</text>
<line x1="352.5" y1="365.5" x2="420.8" y2="365.5" stroke="#fcfcfc" stroke-width="0.7"/>
<line x1="350.9" y1="365.5" x2="352.5" y2="365.5" stroke="#8a8a8a" stroke-width="0.5"/>
<text x="346.3" y="368.05" font-size="6.5" text-anchor="end" fill="#1e1e1e" stroke="#1e1e1e" stroke-width="0.14">0.0250</text>
<line x1="352.5" y1="388.3" x2="420.8" y2="388.3" stroke="#fcfcfc" stroke-width="0.7"/>
<line x1="350.9" y1="388.3" x2="352.5" y2="388.3" stroke="#8a8a8a" stroke-width="0.5"/>
<text x="346.3" y="390.85" font-size="6.5" text-anchor="end" fill="#1e1e1e" stroke="#1e1e1e" stroke-width="0.14">0.0225</text>
<line x1="352.5" y1="410.9" x2="420.8" y2="410.9" stroke="#fcfcfc" stroke-width="0.7"/>
<line x1="350.9" y1="410.9" x2="352.5" y2="410.9" stroke="#8a8a8a" stroke-width="0.5"/>
<text x="346.3" y="413.45" font-size="6.5" text-anchor="end" fill="#1e1e1e" stroke="#1e1e1e" stroke-width="0.14">0.0200</text>
<line x1="352.5" y1="433.3" x2="420.8" y2="433.3" stroke="#fcfcfc" stroke-width="0.7"/>
<line x1="350.9" y1="433.3" x2="352.5" y2="433.3" stroke="#8a8a8a" stroke-width="0.5"/>
<text x="346.3" y="435.85" font-size="6.5" text-anchor="end" fill="#1e1e1e" stroke="#1e1e1e" stroke-width="0.14">0.0175</text>
<line x1="365.6" y1="334.9" x2="365.6" y2="437.8" stroke="#fcfcfc" stroke-width="0.7"/>
<line x1="386.8" y1="334.9" x2="386.8" y2="437.8" stroke="#fcfcfc" stroke-width="0.7"/>
<line x1="408.1" y1="334.9" x2="408.1" y2="437.8" stroke="#fcfcfc" stroke-width="0.7"/>
<line x1="365.5" y1="340" x2="365.5" y2="370.3" stroke="#7a7a7a" stroke-width="0.75"/>
<line x1="365.5" y1="407.3" x2="365.5" y2="421.2" stroke="#7a7a7a" stroke-width="0.75"/>
<rect x="357.6" y="370.3" width="16.2" height="37" fill="#bebebe" stroke="#505050" stroke-width="0.65"/>
<line x1="357.6" y1="396.9" x2="373.8" y2="396.9" stroke="#3c3c3c" stroke-width="1.0"/>
<line x1="386.5" y1="382" x2="386.5" y2="399.5" stroke="#7a7a7a" stroke-width="0.75"/>
<line x1="386.5" y1="415.3" x2="386.5" y2="423.4" stroke="#7a7a7a" stroke-width="0.75"/>
<rect x="379.1" y="399.5" width="15.7" height="15.8" fill="#1e90ff" stroke="#505050" stroke-width="0.65"/>
<line x1="379.1" y1="402.9" x2="394.8" y2="402.9" stroke="#3c3c3c" stroke-width="1.0"/>
<line x1="408.5" y1="373.2" x2="408.5" y2="398.6" stroke="#7a7a7a" stroke-width="0.75"/>
<line x1="408.5" y1="419.7" x2="408.5" y2="432.3" stroke="#7a7a7a" stroke-width="0.75"/>
<rect x="400.1" y="398.6" width="15.7" height="21.1" fill="#ee0000" stroke="#505050" stroke-width="0.65"/>
<line x1="400.1" y1="411.3" x2="415.8" y2="411.3" stroke="#3c3c3c" stroke-width="1.0"/>
<circle cx="371.25" cy="406.95" r="0.55" fill="#444444" fill-opacity="0.55"/>
<circle cx="370.48" cy="401.02" r="0.55" fill="#444444" fill-opacity="0.55"/>
<circle cx="363.22" cy="405.82" r="0.55" fill="#444444" fill-opacity="0.55"/>
<circle cx="366.99" cy="351.11" r="0.55" fill="#444444" fill-opacity="0.55"/>
<circle cx="371.68" cy="379.07" r="0.55" fill="#444444" fill-opacity="0.55"/>
<circle cx="362.79" cy="392.29" r="0.55" fill="#444444" fill-opacity="0.55"/>
<circle cx="359.29" cy="396.47" r="0.55" fill="#444444" fill-opacity="0.55"/>
<circle cx="363.97" cy="390.44" r="0.55" fill="#444444" fill-opacity="0.55"/>
<circle cx="373.79" cy="414.5" r="0.55" fill="#444444" fill-opacity="0.55"/>
<circle cx="373.76" cy="397.88" r="0.55" fill="#444444" fill-opacity="0.55"/>
<circle cx="362.11" cy="395.26" r="0.55" fill="#444444" fill-opacity="0.55"/>
<circle cx="372.76" cy="384.1" r="0.55" fill="#444444" fill-opacity="0.55"/>
<circle cx="370.82" cy="400.38" r="0.55" fill="#444444" fill-opacity="0.55"/>
<circle cx="355.56" cy="348.09" r="0.55" fill="#444444" fill-opacity="0.55"/>
<circle cx="366.67" cy="349.17" r="0.55" fill="#444444" fill-opacity="0.55"/>
<circle cx="374.96" cy="360.67" r="0.55" fill="#444444" fill-opacity="0.55"/>
<circle cx="358.85" cy="401.31" r="0.55" fill="#444444" fill-opacity="0.55"/>
<circle cx="367.39" cy="371.08" r="0.55" fill="#444444" fill-opacity="0.55"/>
<circle cx="357.03" cy="355.04" r="0.55" fill="#444444" fill-opacity="0.55"/>
<circle cx="366.79" cy="395.73" r="0.55" fill="#444444" fill-opacity="0.55"/>
<circle cx="362.98" cy="402.69" r="0.55" fill="#444444" fill-opacity="0.55"/>
<circle cx="366.45" cy="405.63" r="0.55" fill="#444444" fill-opacity="0.55"/>
<circle cx="375.47" cy="382.97" r="0.55" fill="#444444" fill-opacity="0.55"/>
<circle cx="357.92" cy="402.6" r="0.55" fill="#444444" fill-opacity="0.55"/>
<circle cx="372.21" cy="377.04" r="0.55" fill="#444444" fill-opacity="0.55"/>
<circle cx="372.6" cy="371.88" r="0.55" fill="#444444" fill-opacity="0.55"/>
<circle cx="365.07" cy="401.57" r="0.55" fill="#444444" fill-opacity="0.55"/>
<circle cx="363.26" cy="389.6" r="0.55" fill="#444444" fill-opacity="0.55"/>
<circle cx="356.27" cy="378.3" r="0.55" fill="#444444" fill-opacity="0.55"/>
<circle cx="374.27" cy="343.54" r="0.55" fill="#444444" fill-opacity="0.55"/>
<circle cx="358.33" cy="387.61" r="0.55" fill="#444444" fill-opacity="0.55"/>
<circle cx="367.29" cy="383.39" r="0.55" fill="#444444" fill-opacity="0.55"/>
<circle cx="375.93" cy="395.82" r="0.55" fill="#263f6a" fill-opacity="0.55"/>
<circle cx="376.25" cy="415.09" r="0.55" fill="#263f6a" fill-opacity="0.55"/>
<circle cx="376.8" cy="410.1" r="0.55" fill="#263f6a" fill-opacity="0.55"/>
<circle cx="381.8" cy="407.4" r="0.55" fill="#263f6a" fill-opacity="0.55"/>
<circle cx="381.57" cy="403.87" r="0.55" fill="#263f6a" fill-opacity="0.55"/>
<circle cx="396.85" cy="379.69" r="0.55" fill="#263f6a" fill-opacity="0.55"/>
<circle cx="388.13" cy="418.12" r="0.55" fill="#263f6a" fill-opacity="0.55"/>
<circle cx="392.83" cy="408.27" r="0.55" fill="#263f6a" fill-opacity="0.55"/>
<circle cx="383.78" cy="412.07" r="0.55" fill="#263f6a" fill-opacity="0.55"/>
<circle cx="395" cy="411.66" r="0.55" fill="#263f6a" fill-opacity="0.55"/>
<circle cx="382.49" cy="412.62" r="0.55" fill="#263f6a" fill-opacity="0.55"/>
<circle cx="387" cy="396.51" r="0.55" fill="#263f6a" fill-opacity="0.55"/>
<circle cx="387.92" cy="400.46" r="0.55" fill="#263f6a" fill-opacity="0.55"/>
<circle cx="383.22" cy="415.12" r="0.55" fill="#263f6a" fill-opacity="0.55"/>
<circle cx="386.39" cy="403.35" r="0.55" fill="#263f6a" fill-opacity="0.55"/>
<circle cx="380.97" cy="401.64" r="0.55" fill="#263f6a" fill-opacity="0.55"/>
<circle cx="375.96" cy="400.76" r="0.55" fill="#263f6a" fill-opacity="0.55"/>
<circle cx="385.6" cy="394.52" r="0.55" fill="#263f6a" fill-opacity="0.55"/>
<circle cx="379.52" cy="404.26" r="0.55" fill="#263f6a" fill-opacity="0.55"/>
<circle cx="382.59" cy="404.82" r="0.55" fill="#263f6a" fill-opacity="0.55"/>
<circle cx="396.42" cy="414.06" r="0.55" fill="#263f6a" fill-opacity="0.55"/>
<circle cx="388.63" cy="402.32" r="0.55" fill="#263f6a" fill-opacity="0.55"/>
<circle cx="388.57" cy="395.63" r="0.55" fill="#263f6a" fill-opacity="0.55"/>
<circle cx="392.84" cy="413.22" r="0.55" fill="#263f6a" fill-opacity="0.55"/>
<circle cx="377.29" cy="413.71" r="0.55" fill="#263f6a" fill-opacity="0.55"/>
<circle cx="381.87" cy="399.86" r="0.55" fill="#263f6a" fill-opacity="0.55"/>
<circle cx="379.42" cy="410.63" r="0.55" fill="#263f6a" fill-opacity="0.55"/>
<circle cx="380.6" cy="402.67" r="0.55" fill="#263f6a" fill-opacity="0.55"/>
<circle cx="389.06" cy="408.83" r="0.55" fill="#263f6a" fill-opacity="0.55"/>
<circle cx="380.13" cy="421.87" r="0.55" fill="#263f6a" fill-opacity="0.55"/>
<circle cx="389.02" cy="412.29" r="0.55" fill="#263f6a" fill-opacity="0.55"/>
<circle cx="395.06" cy="401.66" r="0.55" fill="#263f6a" fill-opacity="0.55"/>
<circle cx="401.24" cy="417.07" r="0.55" fill="#7a1a1a" fill-opacity="0.55"/>
<circle cx="411.18" cy="385.74" r="0.55" fill="#7a1a1a" fill-opacity="0.55"/>
<circle cx="404.29" cy="411.55" r="0.55" fill="#7a1a1a" fill-opacity="0.55"/>
<circle cx="406.02" cy="393.16" r="0.55" fill="#7a1a1a" fill-opacity="0.55"/>
<circle cx="398.36" cy="399.56" r="0.55" fill="#7a1a1a" fill-opacity="0.55"/>
<circle cx="410.88" cy="409.03" r="0.55" fill="#7a1a1a" fill-opacity="0.55"/>
<circle cx="410.25" cy="408.38" r="0.55" fill="#7a1a1a" fill-opacity="0.55"/>
<circle cx="397.4" cy="406.54" r="0.55" fill="#7a1a1a" fill-opacity="0.55"/>
<circle cx="418.83" cy="411.55" r="0.55" fill="#7a1a1a" fill-opacity="0.55"/>
<circle cx="413.03" cy="400.57" r="0.55" fill="#7a1a1a" fill-opacity="0.55"/>
<circle cx="400.54" cy="414.79" r="0.55" fill="#7a1a1a" fill-opacity="0.55"/>
<circle cx="399.08" cy="398.21" r="0.55" fill="#7a1a1a" fill-opacity="0.55"/>
<circle cx="408.95" cy="406" r="0.55" fill="#7a1a1a" fill-opacity="0.55"/>
<circle cx="411.56" cy="392.75" r="0.55" fill="#7a1a1a" fill-opacity="0.55"/>
<circle cx="413.4" cy="413.61" r="0.55" fill="#7a1a1a" fill-opacity="0.55"/>
<circle cx="413.89" cy="391.48" r="0.55" fill="#7a1a1a" fill-opacity="0.55"/>
<circle cx="414.1" cy="399.61" r="0.55" fill="#7a1a1a" fill-opacity="0.55"/>
<circle cx="403.22" cy="418.45" r="0.55" fill="#7a1a1a" fill-opacity="0.55"/>
<circle cx="400" cy="408.64" r="0.55" fill="#7a1a1a" fill-opacity="0.55"/>
<circle cx="411.52" cy="394.62" r="0.55" fill="#7a1a1a" fill-opacity="0.55"/>
<circle cx="418.87" cy="414.56" r="0.55" fill="#7a1a1a" fill-opacity="0.55"/>
<circle cx="399.08" cy="401.43" r="0.55" fill="#7a1a1a" fill-opacity="0.55"/>
<circle cx="398.42" cy="410.32" r="0.55" fill="#7a1a1a" fill-opacity="0.55"/>
<circle cx="401.1" cy="393.73" r="0.55" fill="#7a1a1a" fill-opacity="0.55"/>
<circle cx="400.38" cy="414.17" r="0.55" fill="#7a1a1a" fill-opacity="0.55"/>
<circle cx="417.37" cy="399.21" r="0.55" fill="#7a1a1a" fill-opacity="0.55"/>
<circle cx="414.22" cy="419.33" r="0.55" fill="#7a1a1a" fill-opacity="0.55"/>
<circle cx="408.08" cy="393.54" r="0.55" fill="#7a1a1a" fill-opacity="0.55"/>
<circle cx="414.71" cy="405.43" r="0.55" fill="#7a1a1a" fill-opacity="0.55"/>
<circle cx="416.98" cy="414.07" r="0.55" fill="#7a1a1a" fill-opacity="0.55"/>
<circle cx="398.54" cy="396.95" r="0.55" fill="#7a1a1a" fill-opacity="0.55"/>
<circle cx="416.11" cy="410.5" r="0.55" fill="#7a1a1a" fill-opacity="0.55"/>
<line x1="395.1" y1="339.1" x2="415.9" y2="339.1" stroke="#c2bebe" stroke-width="0.9"/>
<text x="406" y="341.5" font-size="9.6" text-anchor="middle" fill="#111" stroke="#111" stroke-width="0.25">**</text>
<text x="387.3" y="325.2" font-size="9.2" font-weight="bold" text-anchor="middle" fill="#1a1515" stroke="#1a1515" stroke-width="0.34">Hippocampus</text>
<text x="0" y="0" font-size="9.2" font-weight="bold" text-anchor="middle" fill="#1a1515" stroke="#1a1515" stroke-width="0.3" transform="translate(7 402.5) rotate(-90)">Paramagnetic susceptibility (ppm)</text>
<text x="430.2" y="379.3" font-size="6.8" font-weight="bold" text-anchor="start" fill="#1a1515" stroke="#1a1515" stroke-width="0.34">Group</text>
<line x1="433.3" y1="382.1" x2="433.3" y2="387.8" stroke="#555" stroke-width="0.5"/>
<rect x="430.9" y="383" width="4.9" height="3.9" fill="#a8a8a8" stroke="#4a4a4a" stroke-width="0.4"/>
<line x1="430.9" y1="384.95" x2="435.8" y2="384.95" stroke="#333" stroke-width="0.6"/>
<text x="438.8" y="387.4" font-size="6.7" text-anchor="start" fill="#1a1515" stroke="#1a1515" stroke-width="0.14">NS−PASC</text>
<line x1="433.3" y1="389.2" x2="433.3" y2="394.2" stroke="#555" stroke-width="0.5"/>
<rect x="430.9" y="390.1" width="4.9" height="3.2" fill="#1e88f0" stroke="#4a4a4a" stroke-width="0.4"/>
<line x1="430.9" y1="391.7" x2="435.8" y2="391.7" stroke="#333" stroke-width="0.6"/>
<text x="438.8" y="393.8" font-size="6.7" text-anchor="start" fill="#1a1515" stroke="#1a1515" stroke-width="0.14">Other−PASC</text>
<line x1="433.3" y1="395.9" x2="433.3" y2="400.9" stroke="#555" stroke-width="0.5"/>
<rect x="430.9" y="396.8" width="4.9" height="3.2" fill="#cc0000" stroke="#4a4a4a" stroke-width="0.4"/>
<line x1="430.9" y1="398.4" x2="435.8" y2="398.4" stroke="#333" stroke-width="0.6"/>
<text x="438.8" y="400.5" font-size="6.7" text-anchor="start" fill="#1a1515" stroke="#1a1515" stroke-width="0.14">Cog−PASC</text>
<text x="535.2" y="325.2" font-size="9" font-weight="bold" text-anchor="start" fill="#1a1515" stroke="#1a1515" stroke-width="0.34">Paramagnetic susceptibility</text>
<text x="495.8" y="350.8" font-size="9" font-weight="bold" text-anchor="start" fill="#1a1515" stroke="#1a1515" stroke-width="0.34">MoCA</text>
<rect x="535.9" y="334.9" width="23.6" height="23.7" fill="#f5f6fe"/>
<rect x="559.2" y="334.9" width="24" height="23.7" fill="#fddcd3"/>
<rect x="582.9" y="334.9" width="23.6" height="23.7" fill="#feece7"/>
<rect x="606.2" y="334.9" width="23.8" height="23.7" fill="#fafafd"/>
<text x="0" y="0" font-size="7.9" text-anchor="end" fill="#222" transform="translate(549.85 367.2) rotate(-45)">Occipital cortex</text>
<text x="0" y="0" font-size="7.9" text-anchor="end" fill="#222" transform="translate(573.35 367.2) rotate(-45)">Caudate</text>
<text x="0" y="0" font-size="7.9" text-anchor="end" fill="#222" transform="translate(596.85 367.2) rotate(-45)">Putamen</text>
<text x="0" y="0" font-size="7.9" text-anchor="end" fill="#222" transform="translate(620.25 367.2) rotate(-45)">Hippocampus</text>
<text x="643.2" y="341.5" font-size="6.15" text-anchor="start" fill="#222">Standardized</text>
<text x="643.2" y="348.3" font-size="6.15" text-anchor="start" fill="#222">Beta coefficient</text>
<defs><linearGradient id="cb1412" x1="0" y1="0" x2="0" y2="1"><stop offset="0" stop-color="#ee2010"/><stop offset="0.125" stop-color="#fb6a4c"/><stop offset="0.25" stop-color="#fd9e85"/><stop offset="0.375" stop-color="#fed0c2"/><stop offset="0.5" stop-color="#ffffff"/><stop offset="0.625" stop-color="#d7ddfb"/><stop offset="0.75" stop-color="#adbdf7"/><stop offset="0.875" stop-color="#7c9ef3"/><stop offset="1" stop-color="#3480f0"/></linearGradient></defs>
<rect x="643.2" y="351.5" width="9.8" height="49.9" fill="url(#cb1412)"/>
<line x1="643.2" y1="351.5" x2="645.2" y2="351.5" stroke="#fff" stroke-width="0.4"/>
<line x1="651" y1="351.5" x2="653" y2="351.5" stroke="#fff" stroke-width="0.4"/>
<text x="655.7" y="353.6" font-size="5" text-anchor="start" fill="#222">0.50</text>
<line x1="643.2" y1="363.98" x2="645.2" y2="363.98" stroke="#fff" stroke-width="0.4"/>
<line x1="651" y1="363.98" x2="653" y2="363.98" stroke="#fff" stroke-width="0.4"/>
<text x="655.7" y="366.08" font-size="5" text-anchor="start" fill="#222">0.25</text>
<line x1="643.2" y1="376.45" x2="645.2" y2="376.45" stroke="#fff" stroke-width="0.4"/>
<line x1="651" y1="376.45" x2="653" y2="376.45" stroke="#fff" stroke-width="0.4"/>
<text x="655.7" y="378.55" font-size="5" text-anchor="start" fill="#222">0.00</text>
<line x1="643.2" y1="388.92" x2="645.2" y2="388.92" stroke="#fff" stroke-width="0.4"/>
<line x1="651" y1="388.92" x2="653" y2="388.92" stroke="#fff" stroke-width="0.4"/>
<text x="655.7" y="391.02" font-size="5" text-anchor="start" fill="#222">−0.25</text>
<line x1="643.2" y1="401.4" x2="645.2" y2="401.4" stroke="#fff" stroke-width="0.4"/>
<line x1="651" y1="401.4" x2="653" y2="401.4" stroke="#fff" stroke-width="0.4"/>
<text x="655.7" y="403.5" font-size="5" text-anchor="start" fill="#222">−0.50</text>
<rect x="34.5" y="540.8" width="69.9" height="106.5" fill="#f4f4f4"/>
<line x1="34.5" y1="552.6" x2="104.4" y2="552.6" stroke="#fcfcfc" stroke-width="0.35"/>
<line x1="34.5" y1="592.4" x2="104.4" y2="592.4" stroke="#fcfcfc" stroke-width="0.35"/>
<line x1="34.5" y1="632.2" x2="104.4" y2="632.2" stroke="#fcfcfc" stroke-width="0.35"/>
<line x1="34.5" y1="572.5" x2="104.4" y2="572.5" stroke="#fcfcfc" stroke-width="0.7"/>
<line x1="32.9" y1="572.5" x2="34.5" y2="572.5" stroke="#8a8a8a" stroke-width="0.5"/>
<text x="30.8" y="575.05" font-size="6.5" text-anchor="end" fill="#1e1e1e" stroke="#1e1e1e" stroke-width="0.14">0.15</text>
<line x1="34.5" y1="612.3" x2="104.4" y2="612.3" stroke="#fcfcfc" stroke-width="0.7"/>
<line x1="32.9" y1="612.3" x2="34.5" y2="612.3" stroke="#8a8a8a" stroke-width="0.5"/>
<text x="30.8" y="614.85" font-size="6.5" text-anchor="end" fill="#1e1e1e" stroke="#1e1e1e" stroke-width="0.14">0.10</text>
<line x1="47.5" y1="540.8" x2="47.5" y2="647.3" stroke="#fcfcfc" stroke-width="0.7"/>
<line x1="69.6" y1="540.8" x2="69.6" y2="647.3" stroke="#fcfcfc" stroke-width="0.7"/>
<line x1="91.4" y1="540.8" x2="91.4" y2="647.3" stroke="#fcfcfc" stroke-width="0.7"/>
<line x1="47.5" y1="581.6" x2="47.5" y2="600.1" stroke="#7a7a7a" stroke-width="0.75"/>
<line x1="47.5" y1="616.7" x2="47.5" y2="642.1" stroke="#7a7a7a" stroke-width="0.75"/>
<rect x="39" y="600.1" width="16.8" height="16.6" fill="#bebebe" stroke="#505050" stroke-width="0.65"/>
<line x1="39" y1="608.6" x2="55.8" y2="608.6" stroke="#3c3c3c" stroke-width="1.0"/>
<line x1="69.5" y1="569.4" x2="69.5" y2="600.1" stroke="#7a7a7a" stroke-width="0.75"/>
<line x1="69.5" y1="622.7" x2="69.5" y2="635.6" stroke="#7a7a7a" stroke-width="0.75"/>
<rect x="61" y="600.1" width="16.9" height="22.6" fill="#1e90ff" stroke="#505050" stroke-width="0.65"/>
<line x1="61" y1="612.3" x2="77.9" y2="612.3" stroke="#3c3c3c" stroke-width="1.0"/>
<line x1="91.5" y1="545.3" x2="91.5" y2="564.2" stroke="#7a7a7a" stroke-width="0.75"/>
<line x1="91.5" y1="612.3" x2="91.5" y2="627.9" stroke="#7a7a7a" stroke-width="0.75"/>
<rect x="83.1" y="564.2" width="16.9" height="48.1" fill="#ee0000" stroke="#505050" stroke-width="0.65"/>
<line x1="83.1" y1="593.3" x2="100" y2="593.3" stroke="#3c3c3c" stroke-width="1.0"/>
<circle cx="45.52" cy="638.77" r="0.55" fill="#444444" fill-opacity="0.55"/>
<circle cx="50.3" cy="604.28" r="0.55" fill="#444444" fill-opacity="0.55"/>
<circle cx="42.27" cy="603.94" r="0.55" fill="#444444" fill-opacity="0.55"/>
<circle cx="40.97" cy="620.48" r="0.55" fill="#444444" fill-opacity="0.55"/>
<circle cx="43.07" cy="592.44" r="0.55" fill="#444444" fill-opacity="0.55"/>
<circle cx="49.03" cy="614.43" r="0.55" fill="#444444" fill-opacity="0.55"/>
<circle cx="55.62" cy="612.58" r="0.55" fill="#444444" fill-opacity="0.55"/>
<circle cx="54.6" cy="605.6" r="0.55" fill="#444444" fill-opacity="0.55"/>
<circle cx="47.18" cy="591.38" r="0.55" fill="#444444" fill-opacity="0.55"/>
<circle cx="51.52" cy="609.01" r="0.55" fill="#444444" fill-opacity="0.55"/>
<circle cx="49.24" cy="594.29" r="0.55" fill="#444444" fill-opacity="0.55"/>
<circle cx="55.94" cy="613.04" r="0.55" fill="#444444" fill-opacity="0.55"/>
<circle cx="55.49" cy="614.44" r="0.55" fill="#444444" fill-opacity="0.55"/>
<circle cx="58.39" cy="600.51" r="0.55" fill="#444444" fill-opacity="0.55"/>
<circle cx="38.95" cy="578.25" r="0.55" fill="#444444" fill-opacity="0.55"/>
<circle cx="56.56" cy="612.32" r="0.55" fill="#444444" fill-opacity="0.55"/>
<circle cx="38.65" cy="611.43" r="0.55" fill="#444444" fill-opacity="0.55"/>
<circle cx="38.49" cy="615.35" r="0.55" fill="#444444" fill-opacity="0.55"/>
<circle cx="52.26" cy="640.87" r="0.55" fill="#444444" fill-opacity="0.55"/>
<circle cx="37.22" cy="613.25" r="0.55" fill="#444444" fill-opacity="0.55"/>
<circle cx="51.67" cy="608.48" r="0.55" fill="#444444" fill-opacity="0.55"/>
<circle cx="41.6" cy="601.84" r="0.55" fill="#444444" fill-opacity="0.55"/>
<circle cx="36.94" cy="599.28" r="0.55" fill="#444444" fill-opacity="0.55"/>
<circle cx="55.83" cy="608.19" r="0.55" fill="#444444" fill-opacity="0.55"/>
<circle cx="39.49" cy="603.07" r="0.55" fill="#444444" fill-opacity="0.55"/>
<circle cx="51.58" cy="612.35" r="0.55" fill="#444444" fill-opacity="0.55"/>
<circle cx="47.52" cy="605.97" r="0.55" fill="#444444" fill-opacity="0.55"/>
<circle cx="47.42" cy="602.74" r="0.55" fill="#444444" fill-opacity="0.55"/>
<circle cx="41.23" cy="638.1" r="0.55" fill="#444444" fill-opacity="0.55"/>
<circle cx="52.59" cy="603.04" r="0.55" fill="#444444" fill-opacity="0.55"/>
<circle cx="42.32" cy="600.82" r="0.55" fill="#444444" fill-opacity="0.55"/>
<circle cx="47.69" cy="609.34" r="0.55" fill="#444444" fill-opacity="0.55"/>
<circle cx="66.58" cy="615.65" r="0.55" fill="#263f6a" fill-opacity="0.55"/>
<circle cx="72.97" cy="612.5" r="0.55" fill="#263f6a" fill-opacity="0.55"/>
<circle cx="73.79" cy="630.26" r="0.55" fill="#263f6a" fill-opacity="0.55"/>
<circle cx="74.39" cy="607.29" r="0.55" fill="#263f6a" fill-opacity="0.55"/>
<circle cx="67.82" cy="594.12" r="0.55" fill="#263f6a" fill-opacity="0.55"/>
<circle cx="67.08" cy="603.33" r="0.55" fill="#263f6a" fill-opacity="0.55"/>
<circle cx="80.56" cy="613.84" r="0.55" fill="#263f6a" fill-opacity="0.55"/>
<circle cx="78.98" cy="613.91" r="0.55" fill="#263f6a" fill-opacity="0.55"/>
<circle cx="66.89" cy="604.58" r="0.55" fill="#263f6a" fill-opacity="0.55"/>
<circle cx="61.16" cy="621.3" r="0.55" fill="#263f6a" fill-opacity="0.55"/>
<circle cx="78.59" cy="615.79" r="0.55" fill="#263f6a" fill-opacity="0.55"/>
<circle cx="65.74" cy="605.74" r="0.55" fill="#263f6a" fill-opacity="0.55"/>
<circle cx="65.54" cy="565.47" r="0.55" fill="#263f6a" fill-opacity="0.55"/>
<circle cx="75.02" cy="603.17" r="0.55" fill="#263f6a" fill-opacity="0.55"/>
<circle cx="71.63" cy="582.8" r="0.55" fill="#263f6a" fill-opacity="0.55"/>
<circle cx="72.45" cy="594.48" r="0.55" fill="#263f6a" fill-opacity="0.55"/>
<circle cx="74.27" cy="611.99" r="0.55" fill="#263f6a" fill-opacity="0.55"/>
<circle cx="72.08" cy="590.73" r="0.55" fill="#263f6a" fill-opacity="0.55"/>
<circle cx="72.44" cy="605.15" r="0.55" fill="#263f6a" fill-opacity="0.55"/>
<circle cx="72.08" cy="620.64" r="0.55" fill="#263f6a" fill-opacity="0.55"/>
<circle cx="69.01" cy="603.96" r="0.55" fill="#263f6a" fill-opacity="0.55"/>
<circle cx="69.09" cy="603.31" r="0.55" fill="#263f6a" fill-opacity="0.55"/>
<circle cx="79" cy="611.94" r="0.55" fill="#263f6a" fill-opacity="0.55"/>
<circle cx="70.2" cy="585.2" r="0.55" fill="#263f6a" fill-opacity="0.55"/>
<circle cx="62.39" cy="599.87" r="0.55" fill="#263f6a" fill-opacity="0.55"/>
<circle cx="72.69" cy="628.58" r="0.55" fill="#263f6a" fill-opacity="0.55"/>
<circle cx="77.69" cy="608.72" r="0.55" fill="#263f6a" fill-opacity="0.55"/>
<circle cx="76.91" cy="577.54" r="0.55" fill="#263f6a" fill-opacity="0.55"/>
<circle cx="61.98" cy="602.42" r="0.55" fill="#263f6a" fill-opacity="0.55"/>
<circle cx="66.45" cy="603.91" r="0.55" fill="#263f6a" fill-opacity="0.55"/>
<circle cx="68.56" cy="609.04" r="0.55" fill="#263f6a" fill-opacity="0.55"/>
<circle cx="80.53" cy="599.14" r="0.55" fill="#263f6a" fill-opacity="0.55"/>
<circle cx="90.92" cy="607.98" r="0.55" fill="#7a1a1a" fill-opacity="0.55"/>
<circle cx="83.7" cy="575.61" r="0.55" fill="#7a1a1a" fill-opacity="0.55"/>
<circle cx="91.86" cy="582.03" r="0.55" fill="#7a1a1a" fill-opacity="0.55"/>
<circle cx="87.88" cy="565.05" r="0.55" fill="#7a1a1a" fill-opacity="0.55"/>
<circle cx="84.82" cy="550.07" r="0.55" fill="#7a1a1a" fill-opacity="0.55"/>
<circle cx="84.33" cy="567.98" r="0.55" fill="#7a1a1a" fill-opacity="0.55"/>
<circle cx="87.53" cy="604.32" r="0.55" fill="#7a1a1a" fill-opacity="0.55"/>
<circle cx="82.41" cy="616.24" r="0.55" fill="#7a1a1a" fill-opacity="0.55"/>
<circle cx="84.84" cy="602.31" r="0.55" fill="#7a1a1a" fill-opacity="0.55"/>
<circle cx="93.99" cy="566.31" r="0.55" fill="#7a1a1a" fill-opacity="0.55"/>
<circle cx="90.14" cy="598.47" r="0.55" fill="#7a1a1a" fill-opacity="0.55"/>
<circle cx="86.9" cy="595.38" r="0.55" fill="#7a1a1a" fill-opacity="0.55"/>
<circle cx="98.24" cy="582.74" r="0.55" fill="#7a1a1a" fill-opacity="0.55"/>
<circle cx="93.13" cy="561.13" r="0.55" fill="#7a1a1a" fill-opacity="0.55"/>
<circle cx="101.77" cy="576.06" r="0.55" fill="#7a1a1a" fill-opacity="0.55"/>
<circle cx="95.04" cy="567.6" r="0.55" fill="#7a1a1a" fill-opacity="0.55"/>
<circle cx="97.03" cy="589.49" r="0.55" fill="#7a1a1a" fill-opacity="0.55"/>
<circle cx="91.33" cy="607.83" r="0.55" fill="#7a1a1a" fill-opacity="0.55"/>
<circle cx="80.96" cy="583.51" r="0.55" fill="#7a1a1a" fill-opacity="0.55"/>
<circle cx="90.57" cy="579.57" r="0.55" fill="#7a1a1a" fill-opacity="0.55"/>
<circle cx="90.82" cy="581.63" r="0.55" fill="#7a1a1a" fill-opacity="0.55"/>
<circle cx="91.21" cy="603.87" r="0.55" fill="#7a1a1a" fill-opacity="0.55"/>
<circle cx="95.15" cy="578.48" r="0.55" fill="#7a1a1a" fill-opacity="0.55"/>
<circle cx="81.29" cy="591.05" r="0.55" fill="#7a1a1a" fill-opacity="0.55"/>
<circle cx="97.32" cy="555.06" r="0.55" fill="#7a1a1a" fill-opacity="0.55"/>
<circle cx="85.26" cy="603.52" r="0.55" fill="#7a1a1a" fill-opacity="0.55"/>
<circle cx="82.64" cy="600.43" r="0.55" fill="#7a1a1a" fill-opacity="0.55"/>
<circle cx="92.82" cy="596.96" r="0.55" fill="#7a1a1a" fill-opacity="0.55"/>
<circle cx="96.04" cy="566.83" r="0.55" fill="#7a1a1a" fill-opacity="0.55"/>
<circle cx="95.6" cy="592.29" r="0.55" fill="#7a1a1a" fill-opacity="0.55"/>
<circle cx="102.36" cy="617.32" r="0.55" fill="#7a1a1a" fill-opacity="0.55"/>
<circle cx="83.6" cy="589.13" r="0.55" fill="#7a1a1a" fill-opacity="0.55"/>
<line x1="47.9" y1="545.3" x2="91.2" y2="545.3" stroke="#6a6262" stroke-width="0.9"/>
<text x="69.8" y="547.7" font-size="9.6" text-anchor="middle" fill="#111" stroke="#111" stroke-width="0.25">***</text>
<line x1="69.8" y1="549.5" x2="91.2" y2="549.5" stroke="#6a6262" stroke-width="0.9"/>
<text x="81.3" y="551.9" font-size="9.6" text-anchor="middle" fill="#111" stroke="#111" stroke-width="0.25">***</text>
<text x="68" y="516.2" font-size="9.2" font-weight="bold" text-anchor="middle" fill="#1a1515" stroke="#1a1515" stroke-width="0.34">Choroid plexus</text>
<text x="68.2" y="527.7" font-size="9.2" font-weight="bold" text-anchor="middle" fill="#1a1515" stroke="#1a1515" stroke-width="0.34">volume fraction</text>
<text x="0" y="0" font-size="9.2" font-weight="bold" text-anchor="middle" fill="#1a1515" stroke="#1a1515" stroke-width="0.3" transform="translate(8.3 592.5) rotate(-90)">CPV fraction (%)</text>
<rect x="142.1" y="541.4" width="70.3" height="105.3" fill="#f4f4f4"/>
<line x1="142.1" y1="550.95" x2="212.4" y2="550.95" stroke="#fcfcfc" stroke-width="0.35"/>
<line x1="142.1" y1="575.85" x2="212.4" y2="575.85" stroke="#fcfcfc" stroke-width="0.35"/>
<line x1="142.1" y1="600.75" x2="212.4" y2="600.75" stroke="#fcfcfc" stroke-width="0.35"/>
<line x1="142.1" y1="625.35" x2="212.4" y2="625.35" stroke="#fcfcfc" stroke-width="0.35"/>
<line x1="142.1" y1="563.4" x2="212.4" y2="563.4" stroke="#fcfcfc" stroke-width="0.7"/>
<line x1="140.5" y1="563.4" x2="142.1" y2="563.4" stroke="#8a8a8a" stroke-width="0.5"/>
<text x="136.9" y="565.95" font-size="6.5" text-anchor="end" fill="#1e1e1e" stroke="#1e1e1e" stroke-width="0.14">1.8</text>
<line x1="142.1" y1="588.3" x2="212.4" y2="588.3" stroke="#fcfcfc" stroke-width="0.7"/>
<line x1="140.5" y1="588.3" x2="142.1" y2="588.3" stroke="#8a8a8a" stroke-width="0.5"/>
<text x="136.9" y="590.85" font-size="6.5" text-anchor="end" fill="#1e1e1e" stroke="#1e1e1e" stroke-width="0.14">1.6</text>
<line x1="142.1" y1="612.9" x2="212.4" y2="612.9" stroke="#fcfcfc" stroke-width="0.7"/>
<line x1="140.5" y1="612.9" x2="142.1" y2="612.9" stroke="#8a8a8a" stroke-width="0.5"/>
<text x="136.9" y="615.45" font-size="6.5" text-anchor="end" fill="#1e1e1e" stroke="#1e1e1e" stroke-width="0.14">1.4</text>
<line x1="142.1" y1="636.8" x2="212.4" y2="636.8" stroke="#fcfcfc" stroke-width="0.7"/>
<line x1="140.5" y1="636.8" x2="142.1" y2="636.8" stroke="#8a8a8a" stroke-width="0.5"/>
<text x="136.9" y="639.35" font-size="6.5" text-anchor="end" fill="#1e1e1e" stroke="#1e1e1e" stroke-width="0.14">1.2</text>
<line x1="155.1" y1="541.4" x2="155.1" y2="646.7" stroke="#fcfcfc" stroke-width="0.7"/>
<line x1="177.4" y1="541.4" x2="177.4" y2="646.7" stroke="#fcfcfc" stroke-width="0.7"/>
<line x1="199.4" y1="541.4" x2="199.4" y2="646.7" stroke="#fcfcfc" stroke-width="0.7"/>
<line x1="155.5" y1="553.3" x2="155.5" y2="579.3" stroke="#7a7a7a" stroke-width="0.75"/>
<line x1="155.5" y1="619" x2="155.5" y2="644.4" stroke="#7a7a7a" stroke-width="0.75"/>
<rect x="146.9" y="579.3" width="16.5" height="39.7" fill="#bebebe" stroke="#505050" stroke-width="0.65"/>
<line x1="146.9" y1="601.3" x2="163.4" y2="601.3" stroke="#3c3c3c" stroke-width="1.0"/>
<line x1="177.5" y1="558.7" x2="177.5" y2="577.4" stroke="#7a7a7a" stroke-width="0.75"/>
<line x1="177.5" y1="607.2" x2="177.5" y2="634.9" stroke="#7a7a7a" stroke-width="0.75"/>
<rect x="169.1" y="577.4" width="16.6" height="29.8" fill="#1e90ff" stroke="#505050" stroke-width="0.65"/>
<line x1="169.1" y1="592.3" x2="185.7" y2="592.3" stroke="#3c3c3c" stroke-width="1.0"/>
<line x1="199.5" y1="569.8" x2="199.5" y2="599.9" stroke="#7a7a7a" stroke-width="0.75"/>
<line x1="199.5" y1="629" x2="199.5" y2="639.2" stroke="#7a7a7a" stroke-width="0.75"/>
<rect x="191.1" y="599.9" width="16.6" height="29.1" fill="#ee0000" stroke="#505050" stroke-width="0.65"/>
<line x1="191.1" y1="614.3" x2="207.7" y2="614.3" stroke="#3c3c3c" stroke-width="1.0"/>
<circle cx="144.23" cy="576.52" r="0.55" fill="#444444" fill-opacity="0.55"/>
<circle cx="149.87" cy="589.42" r="0.55" fill="#444444" fill-opacity="0.55"/>
<circle cx="163" cy="599.85" r="0.55" fill="#444444" fill-opacity="0.55"/>
<circle cx="153.34" cy="591.39" r="0.55" fill="#444444" fill-opacity="0.55"/>
<circle cx="163.17" cy="631.34" r="0.55" fill="#444444" fill-opacity="0.55"/>
<circle cx="149.76" cy="581.37" r="0.55" fill="#444444" fill-opacity="0.55"/>
<circle cx="155.91" cy="597.73" r="0.55" fill="#444444" fill-opacity="0.55"/>
<circle cx="154.86" cy="586.62" r="0.55" fill="#444444" fill-opacity="0.55"/>
<circle cx="161.73" cy="615.8" r="0.55" fill="#444444" fill-opacity="0.55"/>
<circle cx="156.33" cy="591.78" r="0.55" fill="#444444" fill-opacity="0.55"/>
<circle cx="155.83" cy="601.73" r="0.55" fill="#444444" fill-opacity="0.55"/>
<circle cx="151.22" cy="610.9" r="0.55" fill="#444444" fill-opacity="0.55"/>
<circle cx="150.51" cy="626.4" r="0.55" fill="#444444" fill-opacity="0.55"/>
<circle cx="157.13" cy="616.41" r="0.55" fill="#444444" fill-opacity="0.55"/>
<circle cx="153.89" cy="558.56" r="0.55" fill="#444444" fill-opacity="0.55"/>
<circle cx="153.64" cy="557.76" r="0.55" fill="#444444" fill-opacity="0.55"/>
<circle cx="163.08" cy="602.97" r="0.55" fill="#444444" fill-opacity="0.55"/>
<circle cx="148.06" cy="604.41" r="0.55" fill="#444444" fill-opacity="0.55"/>
<circle cx="161.72" cy="606.05" r="0.55" fill="#444444" fill-opacity="0.55"/>
<circle cx="158.95" cy="587.68" r="0.55" fill="#444444" fill-opacity="0.55"/>
<circle cx="162.54" cy="615.74" r="0.55" fill="#444444" fill-opacity="0.55"/>
<circle cx="148.65" cy="583.08" r="0.55" fill="#444444" fill-opacity="0.55"/>
<circle cx="161.35" cy="590.4" r="0.55" fill="#444444" fill-opacity="0.55"/>
<circle cx="158.6" cy="615.26" r="0.55" fill="#444444" fill-opacity="0.55"/>
<circle cx="159.19" cy="581.55" r="0.55" fill="#444444" fill-opacity="0.55"/>
<circle cx="159.41" cy="612.49" r="0.55" fill="#444444" fill-opacity="0.55"/>
<circle cx="150.56" cy="602.41" r="0.55" fill="#444444" fill-opacity="0.55"/>
<circle cx="151.11" cy="567.33" r="0.55" fill="#444444" fill-opacity="0.55"/>
<circle cx="164.16" cy="612.7" r="0.55" fill="#444444" fill-opacity="0.55"/>
<circle cx="147.44" cy="642.59" r="0.55" fill="#444444" fill-opacity="0.55"/>
<circle cx="152.71" cy="594.38" r="0.55" fill="#444444" fill-opacity="0.55"/>
<circle cx="158.2" cy="600.97" r="0.55" fill="#444444" fill-opacity="0.55"/>
<circle cx="168.46" cy="599.1" r="0.55" fill="#263f6a" fill-opacity="0.55"/>
<circle cx="175.86" cy="567.42" r="0.55" fill="#263f6a" fill-opacity="0.55"/>
<circle cx="184.63" cy="604.91" r="0.55" fill="#263f6a" fill-opacity="0.55"/>
<circle cx="188.31" cy="599.02" r="0.55" fill="#263f6a" fill-opacity="0.55"/>
<circle cx="172.8" cy="599.76" r="0.55" fill="#263f6a" fill-opacity="0.55"/>
<circle cx="177.32" cy="565.79" r="0.55" fill="#263f6a" fill-opacity="0.55"/>
<circle cx="177.06" cy="604.25" r="0.55" fill="#263f6a" fill-opacity="0.55"/>
<circle cx="178.3" cy="581.56" r="0.55" fill="#263f6a" fill-opacity="0.55"/>
<circle cx="172.37" cy="623.12" r="0.55" fill="#263f6a" fill-opacity="0.55"/>
<circle cx="171.4" cy="561.17" r="0.55" fill="#263f6a" fill-opacity="0.55"/>
<circle cx="179.57" cy="583.69" r="0.55" fill="#263f6a" fill-opacity="0.55"/>
<circle cx="187.18" cy="562.51" r="0.55" fill="#263f6a" fill-opacity="0.55"/>
<circle cx="173.73" cy="584.77" r="0.55" fill="#263f6a" fill-opacity="0.55"/>
<circle cx="182.73" cy="600.87" r="0.55" fill="#263f6a" fill-opacity="0.55"/>
<circle cx="172.96" cy="594.06" r="0.55" fill="#263f6a" fill-opacity="0.55"/>
<circle cx="168.5" cy="618.74" r="0.55" fill="#263f6a" fill-opacity="0.55"/>
<circle cx="179.5" cy="578.41" r="0.55" fill="#263f6a" fill-opacity="0.55"/>
<circle cx="177.69" cy="596.67" r="0.55" fill="#263f6a" fill-opacity="0.55"/>
<circle cx="169.3" cy="585.59" r="0.55" fill="#263f6a" fill-opacity="0.55"/>
<circle cx="174.64" cy="571.19" r="0.55" fill="#263f6a" fill-opacity="0.55"/>
<circle cx="170.13" cy="582.62" r="0.55" fill="#263f6a" fill-opacity="0.55"/>
<circle cx="184.93" cy="595.29" r="0.55" fill="#263f6a" fill-opacity="0.55"/>
<circle cx="169.68" cy="603.6" r="0.55" fill="#263f6a" fill-opacity="0.55"/>
<circle cx="168.98" cy="593.37" r="0.55" fill="#263f6a" fill-opacity="0.55"/>
<circle cx="168.99" cy="582.29" r="0.55" fill="#263f6a" fill-opacity="0.55"/>
<circle cx="178.18" cy="588.33" r="0.55" fill="#263f6a" fill-opacity="0.55"/>
<circle cx="170.75" cy="583.46" r="0.55" fill="#263f6a" fill-opacity="0.55"/>
<circle cx="169.2" cy="603.37" r="0.55" fill="#263f6a" fill-opacity="0.55"/>
<circle cx="177.44" cy="559.85" r="0.55" fill="#263f6a" fill-opacity="0.55"/>
<circle cx="187.15" cy="600.97" r="0.55" fill="#263f6a" fill-opacity="0.55"/>
<circle cx="178.95" cy="576.17" r="0.55" fill="#263f6a" fill-opacity="0.55"/>
<circle cx="182.9" cy="585.27" r="0.55" fill="#263f6a" fill-opacity="0.55"/>
<circle cx="189.08" cy="614.98" r="0.55" fill="#7a1a1a" fill-opacity="0.55"/>
<circle cx="194.82" cy="575.65" r="0.55" fill="#7a1a1a" fill-opacity="0.55"/>
<circle cx="201.13" cy="617.22" r="0.55" fill="#7a1a1a" fill-opacity="0.55"/>
<circle cx="205.65" cy="574.11" r="0.55" fill="#7a1a1a" fill-opacity="0.55"/>
<circle cx="193.81" cy="638.02" r="0.55" fill="#7a1a1a" fill-opacity="0.55"/>
<circle cx="189.31" cy="617.81" r="0.55" fill="#7a1a1a" fill-opacity="0.55"/>
<circle cx="206.32" cy="623.49" r="0.55" fill="#7a1a1a" fill-opacity="0.55"/>
<circle cx="198.56" cy="570.55" r="0.55" fill="#7a1a1a" fill-opacity="0.55"/>
<circle cx="209.09" cy="611.75" r="0.55" fill="#7a1a1a" fill-opacity="0.55"/>
<circle cx="190.34" cy="621.25" r="0.55" fill="#7a1a1a" fill-opacity="0.55"/>
<circle cx="203.33" cy="609.92" r="0.55" fill="#7a1a1a" fill-opacity="0.55"/>
<circle cx="191.49" cy="606.29" r="0.55" fill="#7a1a1a" fill-opacity="0.55"/>
<circle cx="195.68" cy="642.99" r="0.55" fill="#7a1a1a" fill-opacity="0.55"/>
<circle cx="205.81" cy="614.37" r="0.55" fill="#7a1a1a" fill-opacity="0.55"/>
<circle cx="205.54" cy="621.95" r="0.55" fill="#7a1a1a" fill-opacity="0.55"/>
<circle cx="202.4" cy="618.09" r="0.55" fill="#7a1a1a" fill-opacity="0.55"/>
<circle cx="207.01" cy="576.21" r="0.55" fill="#7a1a1a" fill-opacity="0.55"/>
<circle cx="204.18" cy="604.62" r="0.55" fill="#7a1a1a" fill-opacity="0.55"/>
<circle cx="209.65" cy="621.54" r="0.55" fill="#7a1a1a" fill-opacity="0.55"/>
<circle cx="191.37" cy="634.84" r="0.55" fill="#7a1a1a" fill-opacity="0.55"/>
<circle cx="208.31" cy="627.57" r="0.55" fill="#7a1a1a" fill-opacity="0.55"/>
<circle cx="206.05" cy="600.01" r="0.55" fill="#7a1a1a" fill-opacity="0.55"/>
<circle cx="206.55" cy="630.24" r="0.55" fill="#7a1a1a" fill-opacity="0.55"/>
<circle cx="194.98" cy="606.95" r="0.55" fill="#7a1a1a" fill-opacity="0.55"/>
<circle cx="209.21" cy="628.08" r="0.55" fill="#7a1a1a" fill-opacity="0.55"/>
<circle cx="205.72" cy="624.3" r="0.55" fill="#7a1a1a" fill-opacity="0.55"/>
<circle cx="193.51" cy="613.23" r="0.55" fill="#7a1a1a" fill-opacity="0.55"/>
<circle cx="193.61" cy="626.33" r="0.55" fill="#7a1a1a" fill-opacity="0.55"/>
<circle cx="203.48" cy="597.01" r="0.55" fill="#7a1a1a" fill-opacity="0.55"/>
<circle cx="205.64" cy="617.19" r="0.55" fill="#7a1a1a" fill-opacity="0.55"/>
<circle cx="209.12" cy="597.99" r="0.55" fill="#7a1a1a" fill-opacity="0.55"/>
<circle cx="190.32" cy="627.84" r="0.55" fill="#7a1a1a" fill-opacity="0.55"/>
<line x1="177" y1="545.4" x2="198.9" y2="545.4" stroke="#9e9898" stroke-width="0.9"/>
<text x="188.5" y="547.8" font-size="9.6" text-anchor="middle" fill="#111" stroke="#111" stroke-width="0.25">*</text>
<text x="176.3" y="524.5" font-size="9.2" font-weight="bold" text-anchor="middle" fill="#1a1515" stroke="#1a1515" stroke-width="0.34">DTI-ALPS</text>
<text x="0" y="0" font-size="9.2" font-weight="bold" text-anchor="middle" fill="#1a1515" stroke="#1a1515" stroke-width="0.3" transform="translate(119.2 592.5) rotate(-90)">ALPS index</text>
<text x="222.5" y="572.5" font-size="6.8" font-weight="bold" text-anchor="start" fill="#1a1515" stroke="#1a1515" stroke-width="0.34">Group</text>
<line x1="225.6" y1="575.1" x2="225.6" y2="581" stroke="#555" stroke-width="0.5"/>
<rect x="223.2" y="576" width="4.9" height="4.1" fill="#a8a8a8" stroke="#4a4a4a" stroke-width="0.4"/>
<line x1="223.2" y1="578.05" x2="228.1" y2="578.05" stroke="#333" stroke-width="0.6"/>
<text x="231.1" y="580.4" font-size="6.7" text-anchor="start" fill="#1a1515" stroke="#1a1515" stroke-width="0.14">NS−PASC</text>
<line x1="225.6" y1="582.1" x2="225.6" y2="587.4" stroke="#555" stroke-width="0.5"/>
<rect x="223.2" y="583" width="4.9" height="3.5" fill="#1e88f0" stroke="#4a4a4a" stroke-width="0.4"/>
<line x1="223.2" y1="584.75" x2="228.1" y2="584.75" stroke="#333" stroke-width="0.6"/>
<text x="231.1" y="587.1" font-size="6.7" text-anchor="start" fill="#1a1515" stroke="#1a1515" stroke-width="0.14">Other−PASC</text>
<line x1="225.6" y1="588.8" x2="225.6" y2="593.9" stroke="#555" stroke-width="0.5"/>
<rect x="223.2" y="589.7" width="4.9" height="3.3" fill="#cc0000" stroke="#4a4a4a" stroke-width="0.4"/>
<line x1="223.2" y1="591.35" x2="228.1" y2="591.35" stroke="#333" stroke-width="0.6"/>
<text x="231.1" y="593.7" font-size="6.7" text-anchor="start" fill="#1a1515" stroke="#1a1515" stroke-width="0.14">Cog−PASC</text>
<text x="285.8" y="528.9" font-size="9" font-weight="bold" text-anchor="start" fill="#1a1515" stroke="#1a1515" stroke-width="0.34">MoCA</text>
<rect x="323.1" y="513" width="24.3" height="24.9" fill="#bac8f5"/>
<rect x="347.1" y="513" width="23.9" height="24.9" fill="#fddcd2"/>
<text x="0" y="0" font-size="7.85" text-anchor="end" fill="#222" transform="translate(333.8 546.1) rotate(-45)">CPV fraction</text>
<text x="0" y="0" font-size="7.85" text-anchor="end" fill="#222" transform="translate(357.6 546.1) rotate(-45)">DTI-ALPS</text>
<text x="383.4" y="517.8" font-size="6.15" text-anchor="start" fill="#222">Standardized</text>
<text x="383.4" y="524.3" font-size="6.15" text-anchor="start" fill="#222">Beta coefficient</text>
<defs><linearGradient id="cb1709" x1="0" y1="0" x2="0" y2="1"><stop offset="0" stop-color="#ee2010"/><stop offset="0.125" stop-color="#fb6a4c"/><stop offset="0.25" stop-color="#fd9e85"/><stop offset="0.375" stop-color="#fed0c2"/><stop offset="0.5" stop-color="#ffffff"/><stop offset="0.625" stop-color="#d7ddfb"/><stop offset="0.75" stop-color="#adbdf7"/><stop offset="0.875" stop-color="#7c9ef3"/><stop offset="1" stop-color="#3480f0"/></linearGradient></defs>
<rect x="383.4" y="528" width="10.4" height="49.1" fill="url(#cb1709)"/>
<line x1="383.4" y1="528" x2="385.4" y2="528" stroke="#fff" stroke-width="0.4"/>
<line x1="391.8" y1="528" x2="393.8" y2="528" stroke="#fff" stroke-width="0.4"/>
<text x="396.4" y="530.1" font-size="5" text-anchor="start" fill="#222">0.50</text>
<line x1="383.4" y1="540.27" x2="385.4" y2="540.27" stroke="#fff" stroke-width="0.4"/>
<line x1="391.8" y1="540.27" x2="393.8" y2="540.27" stroke="#fff" stroke-width="0.4"/>
<text x="396.4" y="542.38" font-size="5" text-anchor="start" fill="#222">0.25</text>
<line x1="383.4" y1="552.55" x2="385.4" y2="552.55" stroke="#fff" stroke-width="0.4"/>
<line x1="391.8" y1="552.55" x2="393.8" y2="552.55" stroke="#fff" stroke-width="0.4"/>
<text x="396.4" y="554.65" font-size="5" text-anchor="start" fill="#222">0.00</text>
<line x1="383.4" y1="564.83" x2="385.4" y2="564.83" stroke="#fff" stroke-width="0.4"/>
<line x1="391.8" y1="564.83" x2="393.8" y2="564.83" stroke="#fff" stroke-width="0.4"/>
<text x="396.4" y="566.93" font-size="5" text-anchor="start" fill="#222">−0.25</text>
<line x1="383.4" y1="577.1" x2="385.4" y2="577.1" stroke="#fff" stroke-width="0.4"/>
<line x1="391.8" y1="577.1" x2="393.8" y2="577.1" stroke="#fff" stroke-width="0.4"/>
<text x="396.4" y="579.2" font-size="5" text-anchor="start" fill="#222">−0.50</text>
</svg>
</body></html>
